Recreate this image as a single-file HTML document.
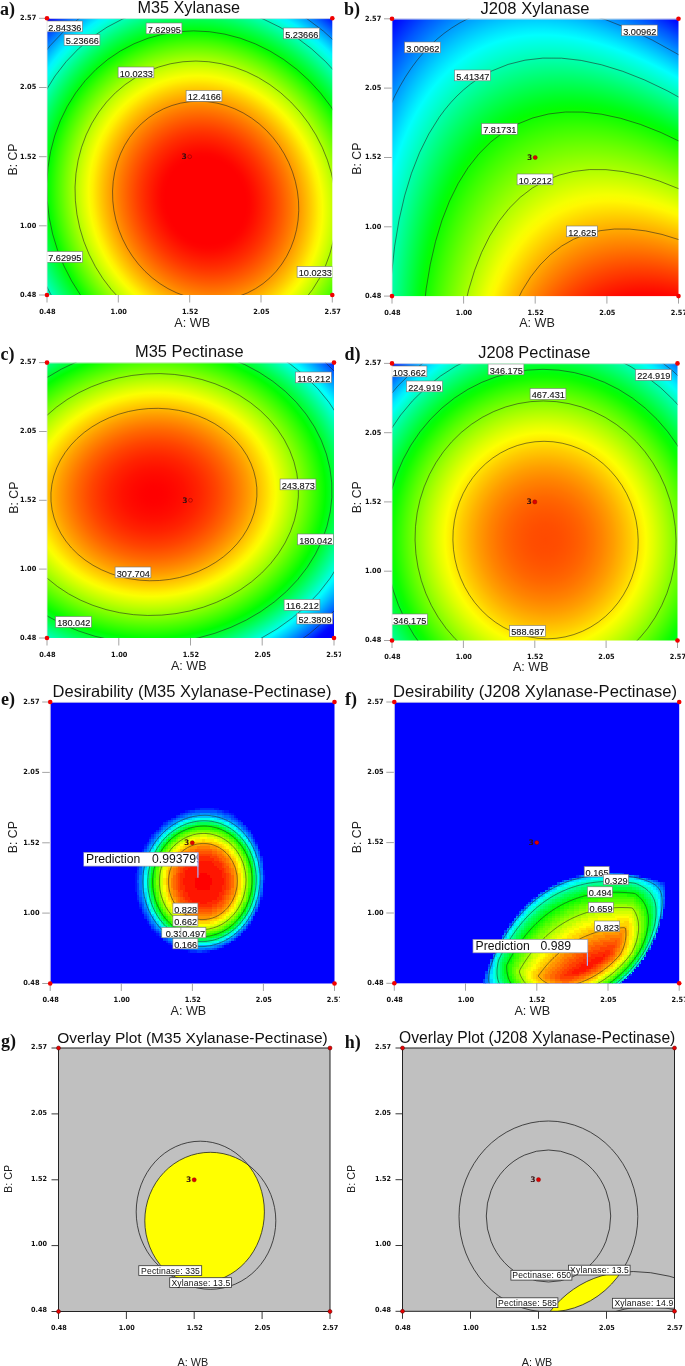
<!DOCTYPE html><html><head><meta charset="utf-8"><title>Figure</title><style>html,body{margin:0;padding:0;background:#fff}svg{display:block;filter:blur(0.35px)}</style></head><body><svg width="685" height="1366" viewBox="0 0 685 1366"><defs><radialGradient id="ga" gradientUnits="userSpaceOnUse" cx="0" cy="0" r="2.42536" gradientTransform="matrix(92.85000,0.00000,7.00000,99.60000,205.65,200.80)"><stop offset="0.0000" stop-color="#ff0000"/><stop offset="0.1786" stop-color="#ff0000"/><stop offset="0.1964" stop-color="#ff0400"/><stop offset="0.2143" stop-color="#ff0c00"/><stop offset="0.2321" stop-color="#ff1500"/><stop offset="0.2500" stop-color="#ff1f00"/><stop offset="0.2679" stop-color="#ff2900"/><stop offset="0.2857" stop-color="#ff3400"/><stop offset="0.3036" stop-color="#ff4000"/><stop offset="0.3214" stop-color="#ff4d00"/><stop offset="0.3393" stop-color="#ff5a00"/><stop offset="0.3571" stop-color="#ff6800"/><stop offset="0.3750" stop-color="#ff7600"/><stop offset="0.3929" stop-color="#ff8500"/><stop offset="0.4107" stop-color="#ff9500"/><stop offset="0.4286" stop-color="#ffa600"/><stop offset="0.4464" stop-color="#ffb700"/><stop offset="0.4643" stop-color="#ffc900"/><stop offset="0.4821" stop-color="#ffdc00"/><stop offset="0.5000" stop-color="#fff000"/><stop offset="0.5179" stop-color="#faff00"/><stop offset="0.5357" stop-color="#e5ff00"/><stop offset="0.5536" stop-color="#d0ff00"/><stop offset="0.5714" stop-color="#b9ff00"/><stop offset="0.5893" stop-color="#a2ff00"/><stop offset="0.6071" stop-color="#89ff00"/><stop offset="0.6250" stop-color="#70ff00"/><stop offset="0.6429" stop-color="#56ff00"/><stop offset="0.6607" stop-color="#3cff00"/><stop offset="0.6786" stop-color="#20ff00"/><stop offset="0.6964" stop-color="#04ff00"/><stop offset="0.7143" stop-color="#00ff18"/><stop offset="0.7321" stop-color="#00ff34"/><stop offset="0.7500" stop-color="#00ff50"/><stop offset="0.7679" stop-color="#00ff6e"/><stop offset="0.7857" stop-color="#00ff8c"/><stop offset="0.8036" stop-color="#00ffaa"/><stop offset="0.8214" stop-color="#00ffc9"/><stop offset="0.8393" stop-color="#00ffe9"/><stop offset="0.8571" stop-color="#00f4ff"/><stop offset="0.8750" stop-color="#00d3ff"/><stop offset="0.8929" stop-color="#00b2ff"/><stop offset="0.9107" stop-color="#008fff"/><stop offset="0.9286" stop-color="#006cff"/><stop offset="0.9464" stop-color="#0048ff"/><stop offset="0.9643" stop-color="#0024ff"/><stop offset="0.9821" stop-color="#0000ff"/><stop offset="1.0000" stop-color="#0000ff"/></radialGradient><clipPath id="ca"><rect x="47.0" y="18.3" width="285.3" height="276.7"/></clipPath><radialGradient id="gb" gradientUnits="userSpaceOnUse" cx="0" cy="0" r="4.24851" gradientTransform="matrix(-111.66755,-231.38059,-82.29471,39.71659,917.72,952.38)"><stop offset="0.6547" stop-color="#ff0000"/><stop offset="0.6609" stop-color="#ff0600"/><stop offset="0.6670" stop-color="#ff1500"/><stop offset="0.6732" stop-color="#ff2400"/><stop offset="0.6794" stop-color="#ff3400"/><stop offset="0.6855" stop-color="#ff4300"/><stop offset="0.6917" stop-color="#ff5300"/><stop offset="0.6979" stop-color="#ff6300"/><stop offset="0.7040" stop-color="#ff7300"/><stop offset="0.7102" stop-color="#ff8300"/><stop offset="0.7164" stop-color="#ff9300"/><stop offset="0.7225" stop-color="#ffa400"/><stop offset="0.7287" stop-color="#ffb400"/><stop offset="0.7349" stop-color="#ffc500"/><stop offset="0.7410" stop-color="#ffd600"/><stop offset="0.7472" stop-color="#ffe700"/><stop offset="0.7534" stop-color="#fff800"/><stop offset="0.7595" stop-color="#f5ff00"/><stop offset="0.7657" stop-color="#e4ff00"/><stop offset="0.7719" stop-color="#d2ff00"/><stop offset="0.7780" stop-color="#c1ff00"/><stop offset="0.7842" stop-color="#afff00"/><stop offset="0.7904" stop-color="#9eff00"/><stop offset="0.7965" stop-color="#8eff00"/><stop offset="0.8027" stop-color="#7dff00"/><stop offset="0.8089" stop-color="#6dff00"/><stop offset="0.8150" stop-color="#5cff00"/><stop offset="0.8212" stop-color="#4bff00"/><stop offset="0.8274" stop-color="#3aff00"/><stop offset="0.8335" stop-color="#28ff00"/><stop offset="0.8397" stop-color="#17ff00"/><stop offset="0.8458" stop-color="#04ff00"/><stop offset="0.8520" stop-color="#00ff12"/><stop offset="0.8582" stop-color="#00ff27"/><stop offset="0.8643" stop-color="#00ff3d"/><stop offset="0.8705" stop-color="#00ff53"/><stop offset="0.8767" stop-color="#00ff69"/><stop offset="0.8828" stop-color="#00ff7f"/><stop offset="0.8890" stop-color="#00ff95"/><stop offset="0.8952" stop-color="#00ffab"/><stop offset="0.9013" stop-color="#00ffc0"/><stop offset="0.9075" stop-color="#00ffd5"/><stop offset="0.9137" stop-color="#00ffe9"/><stop offset="0.9198" stop-color="#00fffe"/><stop offset="0.9260" stop-color="#00ebff"/><stop offset="0.9322" stop-color="#00d6ff"/><stop offset="0.9383" stop-color="#00c1ff"/><stop offset="0.9445" stop-color="#00abff"/><stop offset="0.9507" stop-color="#0096ff"/><stop offset="0.9568" stop-color="#0080ff"/><stop offset="0.9630" stop-color="#006aff"/><stop offset="0.9692" stop-color="#0055ff"/><stop offset="0.9753" stop-color="#003eff"/><stop offset="0.9815" stop-color="#0028ff"/><stop offset="0.9877" stop-color="#0012ff"/><stop offset="0.9938" stop-color="#0000ff"/><stop offset="1.0000" stop-color="#0000ff"/></radialGradient><clipPath id="cb"><rect x="392.0" y="18.8" width="286.5" height="277.3"/></clipPath><radialGradient id="gc" gradientUnits="userSpaceOnUse" cx="0" cy="0" r="2.52848" gradientTransform="matrix(-99.87774,6.56225,5.48121,83.42415,153.92,494.54)"><stop offset="0.0000" stop-color="#ff0000"/><stop offset="0.0179" stop-color="#ff0000"/><stop offset="0.0357" stop-color="#ff0100"/><stop offset="0.0536" stop-color="#ff0300"/><stop offset="0.0714" stop-color="#ff0600"/><stop offset="0.0893" stop-color="#ff0900"/><stop offset="0.1071" stop-color="#ff0d00"/><stop offset="0.1250" stop-color="#ff1100"/><stop offset="0.1429" stop-color="#ff1700"/><stop offset="0.1607" stop-color="#ff1d00"/><stop offset="0.1786" stop-color="#ff2300"/><stop offset="0.1964" stop-color="#ff2b00"/><stop offset="0.2143" stop-color="#ff3300"/><stop offset="0.2321" stop-color="#ff3c00"/><stop offset="0.2500" stop-color="#ff4500"/><stop offset="0.2679" stop-color="#ff5000"/><stop offset="0.2857" stop-color="#ff5b00"/><stop offset="0.3036" stop-color="#ff6600"/><stop offset="0.3214" stop-color="#ff7300"/><stop offset="0.3393" stop-color="#ff8000"/><stop offset="0.3571" stop-color="#ff8e00"/><stop offset="0.3750" stop-color="#ff9c00"/><stop offset="0.3929" stop-color="#ffac00"/><stop offset="0.4107" stop-color="#ffbc00"/><stop offset="0.4286" stop-color="#ffcd00"/><stop offset="0.4464" stop-color="#ffde00"/><stop offset="0.4643" stop-color="#fff100"/><stop offset="0.4821" stop-color="#faff00"/><stop offset="0.5000" stop-color="#e6ff00"/><stop offset="0.5179" stop-color="#d1ff00"/><stop offset="0.5357" stop-color="#bcff00"/><stop offset="0.5536" stop-color="#a6ff00"/><stop offset="0.5714" stop-color="#8fff00"/><stop offset="0.5893" stop-color="#79ff00"/><stop offset="0.6071" stop-color="#62ff00"/><stop offset="0.6250" stop-color="#4aff00"/><stop offset="0.6429" stop-color="#32ff00"/><stop offset="0.6607" stop-color="#19ff00"/><stop offset="0.6786" stop-color="#00ff01"/><stop offset="0.6964" stop-color="#00ff1b"/><stop offset="0.7143" stop-color="#00ff38"/><stop offset="0.7321" stop-color="#00ff58"/><stop offset="0.7500" stop-color="#00ff79"/><stop offset="0.7679" stop-color="#00ff9a"/><stop offset="0.7857" stop-color="#00ffbc"/><stop offset="0.8036" stop-color="#00ffdf"/><stop offset="0.8214" stop-color="#00feff"/><stop offset="0.8393" stop-color="#00ddff"/><stop offset="0.8571" stop-color="#00bcff"/><stop offset="0.8750" stop-color="#0099ff"/><stop offset="0.8929" stop-color="#0076ff"/><stop offset="0.9107" stop-color="#0053ff"/><stop offset="0.9286" stop-color="#002fff"/><stop offset="0.9464" stop-color="#000aff"/><stop offset="0.9643" stop-color="#0000ff"/><stop offset="1.0000" stop-color="#0000ff"/></radialGradient><clipPath id="cc"><rect x="47.0" y="362.6" width="287.0" height="275.4"/></clipPath><clipPath id="xcc"><rect x="314.0" y="645.0" width="27.0" height="20"/></clipPath><radialGradient id="gd" gradientUnits="userSpaceOnUse" cx="0" cy="0" r="2.43109" gradientTransform="matrix(92.65000,0.00000,1.50000,98.75000,545.55,540.05)"><stop offset="0.0000" stop-color="#ff4a00"/><stop offset="0.0179" stop-color="#ff4b00"/><stop offset="0.0357" stop-color="#ff4c00"/><stop offset="0.0536" stop-color="#ff4d00"/><stop offset="0.0714" stop-color="#ff4f00"/><stop offset="0.0893" stop-color="#ff5200"/><stop offset="0.1071" stop-color="#ff5500"/><stop offset="0.1250" stop-color="#ff5900"/><stop offset="0.1429" stop-color="#ff5d00"/><stop offset="0.1607" stop-color="#ff6200"/><stop offset="0.1786" stop-color="#ff6700"/><stop offset="0.1964" stop-color="#ff6e00"/><stop offset="0.2143" stop-color="#ff7400"/><stop offset="0.2321" stop-color="#ff7c00"/><stop offset="0.2500" stop-color="#ff8300"/><stop offset="0.2679" stop-color="#ff8c00"/><stop offset="0.2857" stop-color="#ff9500"/><stop offset="0.3036" stop-color="#ff9e00"/><stop offset="0.3214" stop-color="#ffa900"/><stop offset="0.3393" stop-color="#ffb300"/><stop offset="0.3571" stop-color="#ffbf00"/><stop offset="0.3750" stop-color="#ffca00"/><stop offset="0.3929" stop-color="#ffd700"/><stop offset="0.4107" stop-color="#ffe400"/><stop offset="0.4286" stop-color="#fff200"/><stop offset="0.4464" stop-color="#fdff00"/><stop offset="0.4643" stop-color="#eeff00"/><stop offset="0.4821" stop-color="#dfff00"/><stop offset="0.5000" stop-color="#ceff00"/><stop offset="0.5179" stop-color="#bdff00"/><stop offset="0.5357" stop-color="#acff00"/><stop offset="0.5536" stop-color="#9aff00"/><stop offset="0.5714" stop-color="#87ff00"/><stop offset="0.5893" stop-color="#74ff00"/><stop offset="0.6071" stop-color="#61ff00"/><stop offset="0.6250" stop-color="#4dff00"/><stop offset="0.6429" stop-color="#38ff00"/><stop offset="0.6607" stop-color="#23ff00"/><stop offset="0.6786" stop-color="#0eff00"/><stop offset="0.6964" stop-color="#00ff09"/><stop offset="0.7143" stop-color="#00ff20"/><stop offset="0.7321" stop-color="#00ff37"/><stop offset="0.7500" stop-color="#00ff50"/><stop offset="0.7679" stop-color="#00ff69"/><stop offset="0.7857" stop-color="#00ff82"/><stop offset="0.8036" stop-color="#00ff9c"/><stop offset="0.8214" stop-color="#00ffb7"/><stop offset="0.8393" stop-color="#00ffd5"/><stop offset="0.8571" stop-color="#00fff3"/><stop offset="0.8750" stop-color="#00ecff"/><stop offset="0.8929" stop-color="#00cdff"/><stop offset="0.9107" stop-color="#00adff"/><stop offset="0.9286" stop-color="#008cff"/><stop offset="0.9464" stop-color="#006bff"/><stop offset="0.9643" stop-color="#0049ff"/><stop offset="0.9821" stop-color="#0026ff"/><stop offset="1.0000" stop-color="#0003ff"/></radialGradient><clipPath id="cd"><rect x="392.0" y="363.4" width="285.5" height="277.1"/></clipPath><clipPath id="ce"><rect x="50.2" y="702" width="284.3" height="281.5"/></clipPath><clipPath id="cpe"><rect x="83.5" y="852" width="114.8" height="15"/></clipPath><clipPath id="xce"><rect x="314.5" y="990.2" width="25.5" height="20"/></clipPath><clipPath id="cf"><rect x="394.3" y="702" width="284.9" height="281.3"/></clipPath><clipPath id="cgA"><ellipse cx="200.3" cy="1211.9" rx="64.1" ry="70.7"/></clipPath><clipPath id="ch"><rect x="402.5" y="1048" width="272.0" height="263.3"/></clipPath><clipPath id="chA"><ellipse cx="548.4" cy="1216.5" rx="89.4" ry="95.5"/></clipPath></defs><g font-family='"Liberation Sans", Arial, sans-serif'>
<rect x="47.0" y="18.3" width="285.3" height="276.7" fill="url(#ga)"/>
<g clip-path="url(#ca)" fill="none" stroke="#222" stroke-opacity="0.8" stroke-width="0.7">
<circle r="2.20300" transform="matrix(92.85000,0.00000,7.00000,99.60000,205.65,200.80)" vector-effect="non-scaling-stroke"/>
<circle r="1.97600" transform="matrix(92.85000,0.00000,7.00000,99.60000,205.65,200.80)" vector-effect="non-scaling-stroke"/>
<circle r="1.70600" transform="matrix(92.85000,0.00000,7.00000,99.60000,205.65,200.80)" vector-effect="non-scaling-stroke"/>
<circle r="1.40300" transform="matrix(92.85000,0.00000,7.00000,99.60000,205.65,200.80)" vector-effect="non-scaling-stroke"/>
<circle r="1.00000" transform="matrix(92.85000,0.00000,7.00000,99.60000,205.65,200.80)" vector-effect="non-scaling-stroke"/>
</g>
<g clip-path="url(#ca)"><rect x="46.6" y="21.0" width="35.8" height="10.8" fill="#fff" stroke="#777" stroke-width="0.6"/><text x="64.8" y="30.9" font-size="9.7" text-anchor="middle" textLength="33.2" lengthAdjust="spacingAndGlyphs" fill="#111" stroke="#111" stroke-width="0.12">2.84336</text></g>
<g clip-path="url(#ca)"><rect x="64.1" y="34.5" width="35.8" height="10.8" fill="#fff" stroke="#777" stroke-width="0.6"/><text x="82.3" y="44.4" font-size="9.7" text-anchor="middle" textLength="33.2" lengthAdjust="spacingAndGlyphs" fill="#111" stroke="#111" stroke-width="0.12">5.23666</text></g>
<g clip-path="url(#ca)"><rect x="146.1" y="23.0" width="35.8" height="10.8" fill="#fff" stroke="#777" stroke-width="0.6"/><text x="164.3" y="32.9" font-size="9.7" text-anchor="middle" textLength="33.2" lengthAdjust="spacingAndGlyphs" fill="#111" stroke="#111" stroke-width="0.12">7.62995</text></g>
<g clip-path="url(#ca)"><rect x="118.1" y="67.0" width="35.8" height="10.8" fill="#fff" stroke="#777" stroke-width="0.6"/><text x="136.3" y="76.9" font-size="9.7" text-anchor="middle" textLength="33.2" lengthAdjust="spacingAndGlyphs" fill="#111" stroke="#111" stroke-width="0.12">10.0233</text></g>
<g clip-path="url(#ca)"><rect x="186.1" y="90.5" width="35.8" height="10.8" fill="#fff" stroke="#777" stroke-width="0.6"/><text x="204.3" y="100.4" font-size="9.7" text-anchor="middle" textLength="33.2" lengthAdjust="spacingAndGlyphs" fill="#111" stroke="#111" stroke-width="0.12">12.4166</text></g>
<g clip-path="url(#ca)"><rect x="46.6" y="251.5" width="35.8" height="10.8" fill="#fff" stroke="#777" stroke-width="0.6"/><text x="64.8" y="261.4" font-size="9.7" text-anchor="middle" textLength="33.2" lengthAdjust="spacingAndGlyphs" fill="#111" stroke="#111" stroke-width="0.12">7.62995</text></g>
<g clip-path="url(#ca)"><rect x="297.1" y="266.5" width="35.8" height="10.8" fill="#fff" stroke="#777" stroke-width="0.6"/><text x="315.3" y="276.4" font-size="9.7" text-anchor="middle" textLength="33.2" lengthAdjust="spacingAndGlyphs" fill="#111" stroke="#111" stroke-width="0.12">10.0233</text></g>
<g clip-path="url(#ca)"><rect x="283.6" y="28.0" width="35.8" height="10.8" fill="#fff" stroke="#777" stroke-width="0.6"/><text x="301.8" y="37.9" font-size="9.7" text-anchor="middle" textLength="33.2" lengthAdjust="spacingAndGlyphs" fill="#111" stroke="#111" stroke-width="0.12">5.23666</text></g>
<line x1="47.0" y1="295.0" x2="47.0" y2="302.5" stroke="#9a9a9a" stroke-width="0.9"/>
<line x1="118.3" y1="295.0" x2="118.3" y2="302.5" stroke="#9a9a9a" stroke-width="0.9"/>
<line x1="189.7" y1="295.0" x2="189.7" y2="302.5" stroke="#9a9a9a" stroke-width="0.9"/>
<line x1="261.0" y1="295.0" x2="261.0" y2="302.5" stroke="#9a9a9a" stroke-width="0.9"/>
<line x1="332.3" y1="295.0" x2="332.3" y2="302.5" stroke="#9a9a9a" stroke-width="0.9"/>
<line x1="39.0" y1="18.3" x2="47.0" y2="18.3" stroke="#9a9a9a" stroke-width="0.9"/>
<line x1="39.0" y1="87.5" x2="47.0" y2="87.5" stroke="#9a9a9a" stroke-width="0.9"/>
<line x1="39.0" y1="156.7" x2="47.0" y2="156.7" stroke="#9a9a9a" stroke-width="0.9"/>
<line x1="39.0" y1="225.8" x2="47.0" y2="225.8" stroke="#9a9a9a" stroke-width="0.9"/>
<line x1="39.0" y1="295.0" x2="47.0" y2="295.0" stroke="#9a9a9a" stroke-width="0.9"/>
<path d="M47.0 295.0V18.6H332.3" fill="none" stroke="#e4e4e4" stroke-opacity="0.85" stroke-width="1"/>
<text x="47.4" y="313.7" font-family='"DejaVu Sans", "Liberation Sans", sans-serif' font-size="7.1" font-weight="bold" text-anchor="middle" textLength="16.3" lengthAdjust="spacingAndGlyphs" fill="#111">0.48</text>
<text x="118.7" y="313.7" font-family='"DejaVu Sans", "Liberation Sans", sans-serif' font-size="7.1" font-weight="bold" text-anchor="middle" textLength="16.3" lengthAdjust="spacingAndGlyphs" fill="#111">1.00</text>
<text x="190.1" y="313.7" font-family='"DejaVu Sans", "Liberation Sans", sans-serif' font-size="7.1" font-weight="bold" text-anchor="middle" textLength="16.3" lengthAdjust="spacingAndGlyphs" fill="#111">1.52</text>
<text x="261.4" y="313.7" font-family='"DejaVu Sans", "Liberation Sans", sans-serif' font-size="7.1" font-weight="bold" text-anchor="middle" textLength="16.3" lengthAdjust="spacingAndGlyphs" fill="#111">2.05</text>
<text x="332.7" y="313.7" font-family='"DejaVu Sans", "Liberation Sans", sans-serif' font-size="7.1" font-weight="bold" text-anchor="middle" textLength="16.3" lengthAdjust="spacingAndGlyphs" fill="#111">2.57</text>
<text x="36.3" y="20.1" font-family='"DejaVu Sans", "Liberation Sans", sans-serif' font-size="7.1" font-weight="bold" text-anchor="end" textLength="16.3" lengthAdjust="spacingAndGlyphs" fill="#111">2.57</text>
<text x="36.3" y="89.3" font-family='"DejaVu Sans", "Liberation Sans", sans-serif' font-size="7.1" font-weight="bold" text-anchor="end" textLength="16.3" lengthAdjust="spacingAndGlyphs" fill="#111">2.05</text>
<text x="36.3" y="158.5" font-family='"DejaVu Sans", "Liberation Sans", sans-serif' font-size="7.1" font-weight="bold" text-anchor="end" textLength="16.3" lengthAdjust="spacingAndGlyphs" fill="#111">1.52</text>
<text x="36.3" y="227.6" font-family='"DejaVu Sans", "Liberation Sans", sans-serif' font-size="7.1" font-weight="bold" text-anchor="end" textLength="16.3" lengthAdjust="spacingAndGlyphs" fill="#111">1.00</text>
<text x="36.3" y="296.8" font-family='"DejaVu Sans", "Liberation Sans", sans-serif' font-size="7.1" font-weight="bold" text-anchor="end" textLength="16.3" lengthAdjust="spacingAndGlyphs" fill="#111">0.48</text>
<circle cx="47.0" cy="18.3" r="2.3" fill="#f00000"/>
<circle cx="332.3" cy="18.3" r="2.3" fill="#f00000"/>
<circle cx="47.0" cy="295.0" r="2.3" fill="#f00000"/>
<circle cx="332.3" cy="295.0" r="2.3" fill="#f00000"/>
<circle cx="189.7" cy="156.7" r="1.9" fill="none" stroke="#900" stroke-width="0.7"/>
<text x="186.7" y="159.2" font-family='"DejaVu Sans", "Liberation Sans", sans-serif' font-size="7.6" font-weight="bold" text-anchor="end" fill="#301010">3</text>
<text x="188.8" y="13.0" font-size="16.2" text-anchor="middle" fill="#111">M35 Xylanase</text>
<text x="192.2" y="326.8" font-size="12.6" text-anchor="middle" fill="#222">A: WB</text>
<text transform="translate(16.9,159.5) rotate(-90)" font-size="12.3" text-anchor="middle" fill="#222">B: CP</text>
<text x="0" y="14.8" font-family='"Liberation Serif", "Times New Roman", serif' font-weight="bold" font-size="18" fill="#111">a)</text>
<rect x="392.0" y="18.8" width="286.5" height="277.3" fill="url(#gb)"/>
<g clip-path="url(#cb)" fill="none" stroke="#222" stroke-opacity="0.8" stroke-width="0.7">
<circle r="4.03377" transform="matrix(-111.66755,-231.38059,-82.29471,39.71659,917.72,952.38)" vector-effect="non-scaling-stroke"/>
<circle r="3.81024" transform="matrix(-111.66755,-231.38059,-82.29471,39.71659,917.72,952.38)" vector-effect="non-scaling-stroke"/>
<circle r="3.58056" transform="matrix(-111.66755,-231.38059,-82.29471,39.71659,917.72,952.38)" vector-effect="non-scaling-stroke"/>
<circle r="3.33529" transform="matrix(-111.66755,-231.38059,-82.29471,39.71659,917.72,952.38)" vector-effect="non-scaling-stroke"/>
<circle r="3.08202" transform="matrix(-111.66755,-231.38059,-82.29471,39.71659,917.72,952.38)" vector-effect="non-scaling-stroke"/>
</g>
<g clip-path="url(#cb)"><rect x="404.6" y="42.0" width="35.8" height="10.8" fill="#fff" stroke="#777" stroke-width="0.6"/><text x="422.8" y="51.9" font-size="9.7" text-anchor="middle" textLength="33.2" lengthAdjust="spacingAndGlyphs" fill="#111" stroke="#111" stroke-width="0.12">3.00962</text></g>
<g clip-path="url(#cb)"><rect x="454.6" y="70.0" width="35.8" height="10.8" fill="#fff" stroke="#777" stroke-width="0.6"/><text x="472.8" y="79.9" font-size="9.7" text-anchor="middle" textLength="33.2" lengthAdjust="spacingAndGlyphs" fill="#111" stroke="#111" stroke-width="0.12">5.41347</text></g>
<g clip-path="url(#cb)"><rect x="481.6" y="123.5" width="35.8" height="10.8" fill="#fff" stroke="#777" stroke-width="0.6"/><text x="499.8" y="133.4" font-size="9.7" text-anchor="middle" textLength="33.2" lengthAdjust="spacingAndGlyphs" fill="#111" stroke="#111" stroke-width="0.12">7.81731</text></g>
<g clip-path="url(#cb)"><rect x="517.1" y="174.0" width="35.8" height="10.8" fill="#fff" stroke="#777" stroke-width="0.6"/><text x="535.3" y="183.9" font-size="9.7" text-anchor="middle" textLength="33.2" lengthAdjust="spacingAndGlyphs" fill="#111" stroke="#111" stroke-width="0.12">10.2212</text></g>
<g clip-path="url(#cb)"><rect x="566.6" y="226.0" width="30.7" height="10.8" fill="#fff" stroke="#777" stroke-width="0.6"/><text x="582.3" y="235.9" font-size="9.7" text-anchor="middle" textLength="28.1" lengthAdjust="spacingAndGlyphs" fill="#111" stroke="#111" stroke-width="0.12">12.625</text></g>
<g clip-path="url(#cb)"><rect x="621.6" y="25.0" width="35.8" height="10.8" fill="#fff" stroke="#777" stroke-width="0.6"/><text x="639.8" y="34.9" font-size="9.7" text-anchor="middle" textLength="33.2" lengthAdjust="spacingAndGlyphs" fill="#111" stroke="#111" stroke-width="0.12">3.00962</text></g>
<line x1="392.0" y1="296.1" x2="392.0" y2="303.6" stroke="#9a9a9a" stroke-width="0.9"/>
<line x1="463.6" y1="296.1" x2="463.6" y2="303.6" stroke="#9a9a9a" stroke-width="0.9"/>
<line x1="535.2" y1="296.1" x2="535.2" y2="303.6" stroke="#9a9a9a" stroke-width="0.9"/>
<line x1="606.9" y1="296.1" x2="606.9" y2="303.6" stroke="#9a9a9a" stroke-width="0.9"/>
<line x1="678.5" y1="296.1" x2="678.5" y2="303.6" stroke="#9a9a9a" stroke-width="0.9"/>
<line x1="384.0" y1="18.8" x2="392.0" y2="18.8" stroke="#9a9a9a" stroke-width="0.9"/>
<line x1="384.0" y1="88.1" x2="392.0" y2="88.1" stroke="#9a9a9a" stroke-width="0.9"/>
<line x1="384.0" y1="157.5" x2="392.0" y2="157.5" stroke="#9a9a9a" stroke-width="0.9"/>
<line x1="384.0" y1="226.8" x2="392.0" y2="226.8" stroke="#9a9a9a" stroke-width="0.9"/>
<line x1="384.0" y1="296.1" x2="392.0" y2="296.1" stroke="#9a9a9a" stroke-width="0.9"/>
<path d="M392.0 296.1V19.1H678.5" fill="none" stroke="#e4e4e4" stroke-opacity="0.85" stroke-width="1"/>
<text x="392.4" y="314.5" font-family='"DejaVu Sans", "Liberation Sans", sans-serif' font-size="7.1" font-weight="bold" text-anchor="middle" textLength="16.3" lengthAdjust="spacingAndGlyphs" fill="#111">0.48</text>
<text x="464.0" y="314.5" font-family='"DejaVu Sans", "Liberation Sans", sans-serif' font-size="7.1" font-weight="bold" text-anchor="middle" textLength="16.3" lengthAdjust="spacingAndGlyphs" fill="#111">1.00</text>
<text x="535.6" y="314.5" font-family='"DejaVu Sans", "Liberation Sans", sans-serif' font-size="7.1" font-weight="bold" text-anchor="middle" textLength="16.3" lengthAdjust="spacingAndGlyphs" fill="#111">1.52</text>
<text x="607.3" y="314.5" font-family='"DejaVu Sans", "Liberation Sans", sans-serif' font-size="7.1" font-weight="bold" text-anchor="middle" textLength="16.3" lengthAdjust="spacingAndGlyphs" fill="#111">2.05</text>
<text x="678.9" y="314.5" font-family='"DejaVu Sans", "Liberation Sans", sans-serif' font-size="7.1" font-weight="bold" text-anchor="middle" textLength="16.3" lengthAdjust="spacingAndGlyphs" fill="#111">2.57</text>
<text x="381.3" y="20.6" font-family='"DejaVu Sans", "Liberation Sans", sans-serif' font-size="7.1" font-weight="bold" text-anchor="end" textLength="16.3" lengthAdjust="spacingAndGlyphs" fill="#111">2.57</text>
<text x="381.3" y="89.9" font-family='"DejaVu Sans", "Liberation Sans", sans-serif' font-size="7.1" font-weight="bold" text-anchor="end" textLength="16.3" lengthAdjust="spacingAndGlyphs" fill="#111">2.05</text>
<text x="381.3" y="159.3" font-family='"DejaVu Sans", "Liberation Sans", sans-serif' font-size="7.1" font-weight="bold" text-anchor="end" textLength="16.3" lengthAdjust="spacingAndGlyphs" fill="#111">1.52</text>
<text x="381.3" y="228.6" font-family='"DejaVu Sans", "Liberation Sans", sans-serif' font-size="7.1" font-weight="bold" text-anchor="end" textLength="16.3" lengthAdjust="spacingAndGlyphs" fill="#111">1.00</text>
<text x="381.3" y="297.9" font-family='"DejaVu Sans", "Liberation Sans", sans-serif' font-size="7.1" font-weight="bold" text-anchor="end" textLength="16.3" lengthAdjust="spacingAndGlyphs" fill="#111">0.48</text>
<circle cx="392.0" cy="18.8" r="2.3" fill="#f00000"/>
<circle cx="678.5" cy="18.8" r="2.3" fill="#f00000"/>
<circle cx="392.0" cy="296.1" r="2.3" fill="#f00000"/>
<circle cx="678.5" cy="296.1" r="2.3" fill="#f00000"/>
<circle cx="535.2" cy="157.5" r="2.1" fill="#e00000" stroke="#700" stroke-width="0.4"/>
<text x="532.2" y="160.0" font-family='"DejaVu Sans", "Liberation Sans", sans-serif' font-size="7.6" font-weight="bold" text-anchor="end" fill="#301010">3</text>
<text x="535.0" y="13.5" font-size="16.6" text-anchor="middle" fill="#111">J208 Xylanase</text>
<text x="537.0" y="326.8" font-size="12.6" text-anchor="middle" fill="#222">A: WB</text>
<text transform="translate(360.9,158.7) rotate(-90)" font-size="12.3" text-anchor="middle" fill="#222">B: CP</text>
<text x="344" y="14.8" font-family='"Liberation Serif", "Times New Roman", serif' font-weight="bold" font-size="18" fill="#111">b)</text>
<rect x="47.0" y="362.6" width="287.0" height="275.4" fill="url(#gc)"/>
<g clip-path="url(#cc)" fill="none" stroke="#222" stroke-opacity="0.8" stroke-width="0.7">
<circle r="2.30426" transform="matrix(-99.87774,6.56225,5.48121,83.42415,153.92,494.54)" vector-effect="non-scaling-stroke"/>
<circle r="2.04663" transform="matrix(-99.87774,6.56225,5.48121,83.42415,153.92,494.54)" vector-effect="non-scaling-stroke"/>
<circle r="1.78044" transform="matrix(-99.87774,6.56225,5.48121,83.42415,153.92,494.54)" vector-effect="non-scaling-stroke"/>
<circle r="1.44542" transform="matrix(-99.87774,6.56225,5.48121,83.42415,153.92,494.54)" vector-effect="non-scaling-stroke"/>
<circle r="1.03029" transform="matrix(-99.87774,6.56225,5.48121,83.42415,153.92,494.54)" vector-effect="non-scaling-stroke"/>
</g>
<g clip-path="url(#cc)"><rect x="295.6" y="372.0" width="35.8" height="10.8" fill="#fff" stroke="#777" stroke-width="0.6"/><text x="313.8" y="381.9" font-size="9.7" text-anchor="middle" textLength="33.2" lengthAdjust="spacingAndGlyphs" fill="#111" stroke="#111" stroke-width="0.12">116.212</text></g>
<g clip-path="url(#cc)"><rect x="280.1" y="479.0" width="35.8" height="10.8" fill="#fff" stroke="#777" stroke-width="0.6"/><text x="298.3" y="488.9" font-size="9.7" text-anchor="middle" textLength="33.2" lengthAdjust="spacingAndGlyphs" fill="#111" stroke="#111" stroke-width="0.12">243.873</text></g>
<g clip-path="url(#cc)"><rect x="297.6" y="534.0" width="35.8" height="10.8" fill="#fff" stroke="#777" stroke-width="0.6"/><text x="315.8" y="543.9" font-size="9.7" text-anchor="middle" textLength="33.2" lengthAdjust="spacingAndGlyphs" fill="#111" stroke="#111" stroke-width="0.12">180.042</text></g>
<g clip-path="url(#cc)"><rect x="115.1" y="567.0" width="35.8" height="10.8" fill="#fff" stroke="#777" stroke-width="0.6"/><text x="133.3" y="576.9" font-size="9.7" text-anchor="middle" textLength="33.2" lengthAdjust="spacingAndGlyphs" fill="#111" stroke="#111" stroke-width="0.12">307.704</text></g>
<g clip-path="url(#cc)"><rect x="284.1" y="599.5" width="35.8" height="10.8" fill="#fff" stroke="#777" stroke-width="0.6"/><text x="302.3" y="609.4" font-size="9.7" text-anchor="middle" textLength="33.2" lengthAdjust="spacingAndGlyphs" fill="#111" stroke="#111" stroke-width="0.12">116.212</text></g>
<g clip-path="url(#cc)"><rect x="296.9" y="613.2" width="35.8" height="10.8" fill="#fff" stroke="#777" stroke-width="0.6"/><text x="315.1" y="623.1" font-size="9.7" text-anchor="middle" textLength="33.2" lengthAdjust="spacingAndGlyphs" fill="#111" stroke="#111" stroke-width="0.12">52.3809</text></g>
<g clip-path="url(#cc)"><rect x="55.6" y="616.5" width="35.8" height="10.8" fill="#fff" stroke="#777" stroke-width="0.6"/><text x="73.8" y="626.4" font-size="9.7" text-anchor="middle" textLength="33.2" lengthAdjust="spacingAndGlyphs" fill="#111" stroke="#111" stroke-width="0.12">180.042</text></g>
<line x1="47.0" y1="638.0" x2="47.0" y2="645.5" stroke="#9a9a9a" stroke-width="0.9"/>
<line x1="118.8" y1="638.0" x2="118.8" y2="645.5" stroke="#9a9a9a" stroke-width="0.9"/>
<line x1="190.5" y1="638.0" x2="190.5" y2="645.5" stroke="#9a9a9a" stroke-width="0.9"/>
<line x1="262.2" y1="638.0" x2="262.2" y2="645.5" stroke="#9a9a9a" stroke-width="0.9"/>
<line x1="334.0" y1="638.0" x2="334.0" y2="645.5" stroke="#9a9a9a" stroke-width="0.9"/>
<line x1="39.0" y1="362.6" x2="47.0" y2="362.6" stroke="#9a9a9a" stroke-width="0.9"/>
<line x1="39.0" y1="431.5" x2="47.0" y2="431.5" stroke="#9a9a9a" stroke-width="0.9"/>
<line x1="39.0" y1="500.3" x2="47.0" y2="500.3" stroke="#9a9a9a" stroke-width="0.9"/>
<line x1="39.0" y1="569.1" x2="47.0" y2="569.1" stroke="#9a9a9a" stroke-width="0.9"/>
<line x1="39.0" y1="638.0" x2="47.0" y2="638.0" stroke="#9a9a9a" stroke-width="0.9"/>
<path d="M47.0 638.0V362.9H334.0" fill="none" stroke="#e4e4e4" stroke-opacity="0.85" stroke-width="1"/>
<text x="47.4" y="657.0" font-family='"DejaVu Sans", "Liberation Sans", sans-serif' font-size="7.1" font-weight="bold" text-anchor="middle" textLength="16.3" lengthAdjust="spacingAndGlyphs" fill="#111">0.48</text>
<text x="119.2" y="657.0" font-family='"DejaVu Sans", "Liberation Sans", sans-serif' font-size="7.1" font-weight="bold" text-anchor="middle" textLength="16.3" lengthAdjust="spacingAndGlyphs" fill="#111">1.00</text>
<text x="190.9" y="657.0" font-family='"DejaVu Sans", "Liberation Sans", sans-serif' font-size="7.1" font-weight="bold" text-anchor="middle" textLength="16.3" lengthAdjust="spacingAndGlyphs" fill="#111">1.52</text>
<text x="262.6" y="657.0" font-family='"DejaVu Sans", "Liberation Sans", sans-serif' font-size="7.1" font-weight="bold" text-anchor="middle" textLength="16.3" lengthAdjust="spacingAndGlyphs" fill="#111">2.05</text>
<g clip-path="url(#xcc)">
<text x="334.4" y="657.0" font-family='"DejaVu Sans", "Liberation Sans", sans-serif' font-size="7.1" font-weight="bold" text-anchor="middle" textLength="16.3" lengthAdjust="spacingAndGlyphs" fill="#111">2.57</text>
</g>
<text x="36.3" y="364.4" font-family='"DejaVu Sans", "Liberation Sans", sans-serif' font-size="7.1" font-weight="bold" text-anchor="end" textLength="16.3" lengthAdjust="spacingAndGlyphs" fill="#111">2.57</text>
<text x="36.3" y="433.3" font-family='"DejaVu Sans", "Liberation Sans", sans-serif' font-size="7.1" font-weight="bold" text-anchor="end" textLength="16.3" lengthAdjust="spacingAndGlyphs" fill="#111">2.05</text>
<text x="36.3" y="502.1" font-family='"DejaVu Sans", "Liberation Sans", sans-serif' font-size="7.1" font-weight="bold" text-anchor="end" textLength="16.3" lengthAdjust="spacingAndGlyphs" fill="#111">1.52</text>
<text x="36.3" y="570.9" font-family='"DejaVu Sans", "Liberation Sans", sans-serif' font-size="7.1" font-weight="bold" text-anchor="end" textLength="16.3" lengthAdjust="spacingAndGlyphs" fill="#111">1.00</text>
<text x="36.3" y="639.8" font-family='"DejaVu Sans", "Liberation Sans", sans-serif' font-size="7.1" font-weight="bold" text-anchor="end" textLength="16.3" lengthAdjust="spacingAndGlyphs" fill="#111">0.48</text>
<circle cx="47.0" cy="362.6" r="2.3" fill="#f00000"/>
<circle cx="334.0" cy="362.6" r="2.3" fill="#f00000"/>
<circle cx="47.0" cy="638.0" r="2.3" fill="#f00000"/>
<circle cx="334.0" cy="638.0" r="2.3" fill="#f00000"/>
<circle cx="190.5" cy="500.3" r="1.9" fill="none" stroke="#900" stroke-width="0.7"/>
<text x="187.5" y="502.8" font-family='"DejaVu Sans", "Liberation Sans", sans-serif' font-size="7.6" font-weight="bold" text-anchor="end" fill="#301010">3</text>
<text x="189.3" y="357.3" font-size="16.4" text-anchor="middle" fill="#111">M35 Pectinase</text>
<text x="188.8" y="670.1" font-size="12.6" text-anchor="middle" fill="#222">A: WB</text>
<text transform="translate(17.9,497.6) rotate(-90)" font-size="12.3" text-anchor="middle" fill="#222">B: CP</text>
<text x="0.5" y="360" font-family='"Liberation Serif", "Times New Roman", serif' font-weight="bold" font-size="18" fill="#111">c)</text>
<rect x="392.0" y="363.4" width="285.5" height="277.1" fill="url(#gd)"/>
<g clip-path="url(#cd)" fill="none" stroke="#222" stroke-opacity="0.8" stroke-width="0.7">
<circle r="2.21300" transform="matrix(92.65000,0.00000,1.50000,98.75000,545.55,540.05)" vector-effect="non-scaling-stroke"/>
<circle r="1.99600" transform="matrix(92.65000,0.00000,1.50000,98.75000,545.55,540.05)" vector-effect="non-scaling-stroke"/>
<circle r="1.72900" transform="matrix(92.65000,0.00000,1.50000,98.75000,545.55,540.05)" vector-effect="non-scaling-stroke"/>
<circle r="1.40850" transform="matrix(92.65000,0.00000,1.50000,98.75000,545.55,540.05)" vector-effect="non-scaling-stroke"/>
<circle r="1.00000" transform="matrix(92.65000,0.00000,1.50000,98.75000,545.55,540.05)" vector-effect="non-scaling-stroke"/>
</g>
<g clip-path="url(#cd)"><rect x="391.1" y="366.0" width="35.8" height="10.8" fill="#fff" stroke="#777" stroke-width="0.6"/><text x="409.3" y="375.9" font-size="9.7" text-anchor="middle" textLength="33.2" lengthAdjust="spacingAndGlyphs" fill="#111" stroke="#111" stroke-width="0.12">103.662</text></g>
<g clip-path="url(#cd)"><rect x="406.6" y="381.0" width="35.8" height="10.8" fill="#fff" stroke="#777" stroke-width="0.6"/><text x="424.8" y="390.9" font-size="9.7" text-anchor="middle" textLength="33.2" lengthAdjust="spacingAndGlyphs" fill="#111" stroke="#111" stroke-width="0.12">224.919</text></g>
<g clip-path="url(#cd)"><rect x="488.1" y="364.0" width="35.8" height="10.8" fill="#fff" stroke="#777" stroke-width="0.6"/><text x="506.3" y="373.9" font-size="9.7" text-anchor="middle" textLength="33.2" lengthAdjust="spacingAndGlyphs" fill="#111" stroke="#111" stroke-width="0.12">346.175</text></g>
<g clip-path="url(#cd)"><rect x="530.1" y="388.5" width="35.8" height="10.8" fill="#fff" stroke="#777" stroke-width="0.6"/><text x="548.3" y="398.4" font-size="9.7" text-anchor="middle" textLength="33.2" lengthAdjust="spacingAndGlyphs" fill="#111" stroke="#111" stroke-width="0.12">467.431</text></g>
<g clip-path="url(#cd)"><rect x="635.6" y="369.5" width="35.8" height="10.8" fill="#fff" stroke="#777" stroke-width="0.6"/><text x="653.8" y="379.4" font-size="9.7" text-anchor="middle" textLength="33.2" lengthAdjust="spacingAndGlyphs" fill="#111" stroke="#111" stroke-width="0.12">224.919</text></g>
<g clip-path="url(#cd)"><rect x="391.6" y="614.0" width="35.8" height="10.8" fill="#fff" stroke="#777" stroke-width="0.6"/><text x="409.8" y="623.9" font-size="9.7" text-anchor="middle" textLength="33.2" lengthAdjust="spacingAndGlyphs" fill="#111" stroke="#111" stroke-width="0.12">346.175</text></g>
<g clip-path="url(#cd)"><rect x="509.6" y="625.5" width="35.8" height="10.8" fill="#fff" stroke="#777" stroke-width="0.6"/><text x="527.8" y="635.4" font-size="9.7" text-anchor="middle" textLength="33.2" lengthAdjust="spacingAndGlyphs" fill="#111" stroke="#111" stroke-width="0.12">588.687</text></g>
<line x1="392.0" y1="640.5" x2="392.0" y2="648.0" stroke="#9a9a9a" stroke-width="0.9"/>
<line x1="463.4" y1="640.5" x2="463.4" y2="648.0" stroke="#9a9a9a" stroke-width="0.9"/>
<line x1="534.8" y1="640.5" x2="534.8" y2="648.0" stroke="#9a9a9a" stroke-width="0.9"/>
<line x1="606.1" y1="640.5" x2="606.1" y2="648.0" stroke="#9a9a9a" stroke-width="0.9"/>
<line x1="677.5" y1="640.5" x2="677.5" y2="648.0" stroke="#9a9a9a" stroke-width="0.9"/>
<line x1="384.0" y1="363.4" x2="392.0" y2="363.4" stroke="#9a9a9a" stroke-width="0.9"/>
<line x1="384.0" y1="432.7" x2="392.0" y2="432.7" stroke="#9a9a9a" stroke-width="0.9"/>
<line x1="384.0" y1="501.9" x2="392.0" y2="501.9" stroke="#9a9a9a" stroke-width="0.9"/>
<line x1="384.0" y1="571.2" x2="392.0" y2="571.2" stroke="#9a9a9a" stroke-width="0.9"/>
<line x1="384.0" y1="640.5" x2="392.0" y2="640.5" stroke="#9a9a9a" stroke-width="0.9"/>
<path d="M392.0 640.5V363.7H677.5" fill="none" stroke="#e4e4e4" stroke-opacity="0.85" stroke-width="1"/>
<text x="392.4" y="658.7" font-family='"DejaVu Sans", "Liberation Sans", sans-serif' font-size="7.1" font-weight="bold" text-anchor="middle" textLength="16.3" lengthAdjust="spacingAndGlyphs" fill="#111">0.48</text>
<text x="463.8" y="658.7" font-family='"DejaVu Sans", "Liberation Sans", sans-serif' font-size="7.1" font-weight="bold" text-anchor="middle" textLength="16.3" lengthAdjust="spacingAndGlyphs" fill="#111">1.00</text>
<text x="535.1" y="658.7" font-family='"DejaVu Sans", "Liberation Sans", sans-serif' font-size="7.1" font-weight="bold" text-anchor="middle" textLength="16.3" lengthAdjust="spacingAndGlyphs" fill="#111">1.52</text>
<text x="606.5" y="658.7" font-family='"DejaVu Sans", "Liberation Sans", sans-serif' font-size="7.1" font-weight="bold" text-anchor="middle" textLength="16.3" lengthAdjust="spacingAndGlyphs" fill="#111">2.05</text>
<text x="677.9" y="658.7" font-family='"DejaVu Sans", "Liberation Sans", sans-serif' font-size="7.1" font-weight="bold" text-anchor="middle" textLength="16.3" lengthAdjust="spacingAndGlyphs" fill="#111">2.57</text>
<text x="381.3" y="365.2" font-family='"DejaVu Sans", "Liberation Sans", sans-serif' font-size="7.1" font-weight="bold" text-anchor="end" textLength="16.3" lengthAdjust="spacingAndGlyphs" fill="#111">2.57</text>
<text x="381.3" y="434.5" font-family='"DejaVu Sans", "Liberation Sans", sans-serif' font-size="7.1" font-weight="bold" text-anchor="end" textLength="16.3" lengthAdjust="spacingAndGlyphs" fill="#111">2.05</text>
<text x="381.3" y="503.8" font-family='"DejaVu Sans", "Liberation Sans", sans-serif' font-size="7.1" font-weight="bold" text-anchor="end" textLength="16.3" lengthAdjust="spacingAndGlyphs" fill="#111">1.52</text>
<text x="381.3" y="573.0" font-family='"DejaVu Sans", "Liberation Sans", sans-serif' font-size="7.1" font-weight="bold" text-anchor="end" textLength="16.3" lengthAdjust="spacingAndGlyphs" fill="#111">1.00</text>
<text x="381.3" y="642.3" font-family='"DejaVu Sans", "Liberation Sans", sans-serif' font-size="7.1" font-weight="bold" text-anchor="end" textLength="16.3" lengthAdjust="spacingAndGlyphs" fill="#111">0.48</text>
<circle cx="392.0" cy="363.4" r="2.3" fill="#f00000"/>
<circle cx="677.5" cy="363.4" r="2.3" fill="#f00000"/>
<circle cx="392.0" cy="640.5" r="2.3" fill="#f00000"/>
<circle cx="677.5" cy="640.5" r="2.3" fill="#f00000"/>
<circle cx="534.8" cy="501.9" r="2.1" fill="#e00000" stroke="#700" stroke-width="0.4"/>
<text x="531.8" y="504.4" font-family='"DejaVu Sans", "Liberation Sans", sans-serif' font-size="7.6" font-weight="bold" text-anchor="end" fill="#301010">3</text>
<text x="534.3" y="358.1" font-size="16.4" text-anchor="middle" fill="#111">J208 Pectinase</text>
<text x="530.8" y="671.0" font-size="12.6" text-anchor="middle" fill="#222">A: WB</text>
<text transform="translate(360.9,497.3) rotate(-90)" font-size="12.3" text-anchor="middle" fill="#222">B: CP</text>
<text x="344.5" y="360" font-family='"Liberation Serif", "Times New Roman", serif' font-weight="bold" font-size="18" fill="#111">d)</text>
<rect x="50.2" y="702" width="284.3" height="281.5" fill="#0000ff"/>
<g shape-rendering="crispEdges">
<path fill="#0015ff" d="M194.8 807.9h5.1v2.7h-5.1zM214.0 807.9h5.1v2.7h-5.1zM185.1 810.3h2.7v2.7h-2.7zM223.7 810.3h5.1v2.7h-5.1zM230.9 812.7h2.7v2.7h-2.7zM233.3 815.1h2.7v2.7h-2.7zM165.8 819.9h2.7v2.7h-2.7zM149.0 836.7h2.7v2.7h-2.7zM252.6 836.7h2.7v2.7h-2.7zM255.0 841.5h2.7v2.7h-2.7zM144.2 844.0h2.7v2.7h-2.7zM141.8 848.8h2.7v2.7h-2.7zM139.3 853.6h2.7v2.7h-2.7zM136.9 860.8h2.7v2.7h-2.7zM262.2 870.4h2.7v2.7h-2.7zM134.5 872.8h2.7v2.7h-2.7zM262.2 872.8h2.7v2.7h-2.7zM134.5 875.2h2.7v2.7h-2.7zM134.5 877.6h2.7v2.7h-2.7zM134.5 880.0h2.7v2.7h-2.7zM262.2 880.0h2.7v2.7h-2.7zM134.5 882.4h2.7v2.7h-2.7zM134.5 884.9h2.7v2.7h-2.7zM134.5 887.3h2.7v2.7h-2.7zM134.5 889.7h2.7v2.7h-2.7zM259.8 896.9h2.7v2.7h-2.7zM136.9 899.3h2.7v2.7h-2.7zM139.3 906.5h2.7v2.7h-2.7zM146.6 920.9h2.7v2.7h-2.7zM247.8 923.4h2.7v2.7h-2.7zM151.4 928.2h2.7v2.7h-2.7zM153.8 930.6h2.7v2.7h-2.7zM156.2 933.0h2.7v2.7h-2.7zM158.6 935.4h2.7v2.7h-2.7zM168.3 942.6h2.7v2.7h-2.7zM173.1 945.0h2.7v2.7h-2.7zM216.4 947.4h2.7v2.7h-2.7zM187.5 949.8h2.7v2.7h-2.7zM206.8 949.8h2.7v2.7h-2.7z"/>
<path fill="#002aff" d="M199.6 807.9h14.8v2.7h-14.8zM187.5 810.3h2.7v2.7h-2.7zM221.3 810.3h2.7v2.7h-2.7zM180.3 812.7h2.7v2.7h-2.7zM228.5 812.7h2.7v2.7h-2.7zM175.5 815.1h2.7v2.7h-2.7zM170.7 817.5h2.7v2.7h-2.7zM235.7 817.5h2.7v2.7h-2.7zM238.1 819.9h2.7v2.7h-2.7zM163.4 822.3h2.7v2.7h-2.7zM161.0 824.7h2.7v2.7h-2.7zM158.6 827.1h2.7v2.7h-2.7zM245.4 827.1h2.7v2.7h-2.7zM156.2 829.5h2.7v2.7h-2.7zM247.8 829.5h2.7v2.7h-2.7zM153.8 831.9h2.7v2.7h-2.7zM151.4 834.3h2.7v2.7h-2.7zM146.6 841.5h2.7v2.7h-2.7zM144.2 846.4h2.7v2.7h-2.7zM257.4 848.8h2.7v2.7h-2.7zM141.8 851.2h2.7v2.7h-2.7zM139.3 856.0h2.7v2.7h-2.7zM259.8 856.0h2.7v2.7h-2.7zM136.9 863.2h2.7v2.7h-2.7zM136.9 865.6h2.7v2.7h-2.7zM136.9 868.0h2.7v2.7h-2.7zM262.2 875.2h2.7v2.7h-2.7zM262.2 877.6h2.7v2.7h-2.7zM136.9 894.5h2.7v2.7h-2.7zM136.9 896.9h2.7v2.7h-2.7zM139.3 904.1h2.7v2.7h-2.7zM257.4 904.1h2.7v2.7h-2.7zM141.8 911.3h2.7v2.7h-2.7zM144.2 916.1h2.7v2.7h-2.7zM149.0 923.4h2.7v2.7h-2.7zM245.4 925.8h2.7v2.7h-2.7zM233.3 937.8h2.7v2.7h-2.7zM165.8 940.2h2.7v2.7h-2.7zM226.1 942.6h2.7v2.7h-2.7zM221.3 945.0h2.7v2.7h-2.7zM180.3 947.4h2.7v2.7h-2.7zM189.9 949.8h7.5v2.7h-7.5zM202.0 949.8h5.1v2.7h-5.1z"/>
<path fill="#0040ff" d="M189.9 810.3h5.1v2.7h-5.1zM216.4 810.3h5.1v2.7h-5.1zM182.7 812.7h2.7v2.7h-2.7zM223.7 812.7h5.1v2.7h-5.1zM177.9 815.1h2.7v2.7h-2.7zM230.9 815.1h2.7v2.7h-2.7zM173.1 817.5h2.7v2.7h-2.7zM233.3 817.5h2.7v2.7h-2.7zM168.3 819.9h2.7v2.7h-2.7zM165.8 822.3h2.7v2.7h-2.7zM240.5 822.3h2.7v2.7h-2.7zM242.9 824.7h2.7v2.7h-2.7zM250.2 834.3h2.7v2.7h-2.7zM151.4 836.7h2.7v2.7h-2.7zM149.0 839.1h2.7v2.7h-2.7zM252.6 839.1h2.7v2.7h-2.7zM146.6 844.0h2.7v2.7h-2.7zM255.0 844.0h2.7v2.7h-2.7zM141.8 853.6h2.7v2.7h-2.7zM139.3 858.4h2.7v2.7h-2.7zM259.8 858.4h2.7v2.7h-2.7zM139.3 860.8h2.7v2.7h-2.7zM136.9 870.4h2.7v2.7h-2.7zM136.9 872.8h2.7v2.7h-2.7zM136.9 875.2h2.7v2.7h-2.7zM136.9 877.6h2.7v2.7h-2.7zM136.9 882.4h2.7v2.7h-2.7zM136.9 884.9h2.7v2.7h-2.7zM136.9 887.3h2.7v2.7h-2.7zM136.9 889.7h2.7v2.7h-2.7zM136.9 892.1h2.7v2.7h-2.7zM259.8 894.5h2.7v2.7h-2.7zM139.3 901.7h2.7v2.7h-2.7zM141.8 908.9h2.7v2.7h-2.7zM255.0 908.9h2.7v2.7h-2.7zM144.2 913.7h2.7v2.7h-2.7zM146.6 918.5h2.7v2.7h-2.7zM250.2 918.5h2.7v2.7h-2.7zM151.4 925.8h2.7v2.7h-2.7zM153.8 928.2h2.7v2.7h-2.7zM242.9 928.2h2.7v2.7h-2.7zM156.2 930.6h2.7v2.7h-2.7zM158.6 933.0h2.7v2.7h-2.7zM161.0 935.4h2.7v2.7h-2.7zM235.7 935.4h2.7v2.7h-2.7zM163.4 937.8h2.7v2.7h-2.7zM170.7 942.6h2.7v2.7h-2.7zM175.5 945.0h2.7v2.7h-2.7zM182.7 947.4h2.7v2.7h-2.7zM214.0 947.4h2.7v2.7h-2.7zM197.2 949.8h5.1v2.7h-5.1z"/>
<path fill="#0055ff" d="M194.8 810.3h22.0v2.7h-22.0zM185.1 812.7h2.7v2.7h-2.7zM221.3 812.7h2.7v2.7h-2.7zM180.3 815.1h2.7v2.7h-2.7zM228.5 815.1h2.7v2.7h-2.7zM230.9 817.5h2.7v2.7h-2.7zM170.7 819.9h2.7v2.7h-2.7zM235.7 819.9h2.7v2.7h-2.7zM238.1 822.3h2.7v2.7h-2.7zM163.4 824.7h2.7v2.7h-2.7zM240.5 824.7h2.7v2.7h-2.7zM161.0 827.1h2.7v2.7h-2.7zM242.9 827.1h2.7v2.7h-2.7zM158.6 829.5h2.7v2.7h-2.7zM245.4 829.5h2.7v2.7h-2.7zM156.2 831.9h2.7v2.7h-2.7zM247.8 831.9h2.7v2.7h-2.7zM153.8 834.3h2.7v2.7h-2.7zM250.2 836.7h2.7v2.7h-2.7zM149.0 841.5h2.7v2.7h-2.7zM144.2 848.8h2.7v2.7h-2.7zM257.4 851.2h2.7v2.7h-2.7zM141.8 856.0h2.7v2.7h-2.7zM259.8 860.8h2.7v2.7h-2.7zM139.3 863.2h2.7v2.7h-2.7zM139.3 865.6h2.7v2.7h-2.7zM136.9 880.0h2.7v2.7h-2.7zM259.8 892.1h2.7v2.7h-2.7zM139.3 896.9h2.7v2.7h-2.7zM139.3 899.3h2.7v2.7h-2.7zM257.4 901.7h2.7v2.7h-2.7zM141.8 904.1h2.7v2.7h-2.7zM141.8 906.5h2.7v2.7h-2.7zM144.2 911.3h2.7v2.7h-2.7zM252.6 913.7h2.7v2.7h-2.7zM146.6 916.1h2.7v2.7h-2.7zM149.0 920.9h2.7v2.7h-2.7zM247.8 920.9h2.7v2.7h-2.7zM151.4 923.4h2.7v2.7h-2.7zM240.5 930.6h2.7v2.7h-2.7zM238.1 933.0h2.7v2.7h-2.7zM165.8 937.8h2.7v2.7h-2.7zM168.3 940.2h2.7v2.7h-2.7zM228.5 940.2h2.7v2.7h-2.7zM173.1 942.6h2.7v2.7h-2.7zM223.7 942.6h2.7v2.7h-2.7zM177.9 945.0h2.7v2.7h-2.7zM218.9 945.0h2.7v2.7h-2.7zM185.1 947.4h5.1v2.7h-5.1zM211.6 947.4h2.7v2.7h-2.7z"/>
<path fill="#006aff" d="M187.5 812.7h5.1v2.7h-5.1zM216.4 812.7h5.1v2.7h-5.1zM182.7 815.1h2.7v2.7h-2.7zM223.7 815.1h5.1v2.7h-5.1zM175.5 817.5h2.7v2.7h-2.7zM233.3 819.9h2.7v2.7h-2.7zM168.3 822.3h2.7v2.7h-2.7zM165.8 824.7h2.7v2.7h-2.7zM247.8 834.3h2.7v2.7h-2.7zM153.8 836.7h2.7v2.7h-2.7zM151.4 839.1h2.7v2.7h-2.7zM252.6 841.5h2.7v2.7h-2.7zM146.6 846.4h2.7v2.7h-2.7zM255.0 846.4h2.7v2.7h-2.7zM144.2 851.2h2.7v2.7h-2.7zM144.2 853.6h2.7v2.7h-2.7zM257.4 853.6h2.7v2.7h-2.7zM141.8 858.4h2.7v2.7h-2.7zM259.8 863.2h2.7v2.7h-2.7zM259.8 865.6h2.7v2.7h-2.7zM139.3 868.0h2.7v2.7h-2.7zM139.3 870.4h2.7v2.7h-2.7zM139.3 872.8h2.7v2.7h-2.7zM259.8 887.3h2.7v2.7h-2.7zM139.3 889.7h2.7v2.7h-2.7zM259.8 889.7h2.7v2.7h-2.7zM139.3 892.1h2.7v2.7h-2.7zM139.3 894.5h2.7v2.7h-2.7zM257.4 899.3h2.7v2.7h-2.7zM141.8 901.7h2.7v2.7h-2.7zM255.0 906.5h2.7v2.7h-2.7zM144.2 908.9h2.7v2.7h-2.7zM146.6 913.7h2.7v2.7h-2.7zM250.2 916.1h2.7v2.7h-2.7zM149.0 918.5h2.7v2.7h-2.7zM245.4 923.4h2.7v2.7h-2.7zM153.8 925.8h2.7v2.7h-2.7zM156.2 928.2h2.7v2.7h-2.7zM158.6 930.6h2.7v2.7h-2.7zM161.0 933.0h2.7v2.7h-2.7zM163.4 935.4h2.7v2.7h-2.7zM230.9 937.8h2.7v2.7h-2.7zM170.7 940.2h2.7v2.7h-2.7zM175.5 942.6h2.7v2.7h-2.7zM180.3 945.0h2.7v2.7h-2.7zM216.4 945.0h2.7v2.7h-2.7zM189.9 947.4h5.1v2.7h-5.1zM204.4 947.4h7.5v2.7h-7.5z"/>
<path fill="#0080ff" d="M192.4 812.7h7.5v2.7h-7.5zM209.2 812.7h7.5v2.7h-7.5zM185.1 815.1h2.7v2.7h-2.7zM221.3 815.1h2.7v2.7h-2.7zM177.9 817.5h2.7v2.7h-2.7zM226.1 817.5h5.1v2.7h-5.1zM173.1 819.9h2.7v2.7h-2.7zM230.9 819.9h2.7v2.7h-2.7zM170.7 822.3h2.7v2.7h-2.7zM235.7 822.3h2.7v2.7h-2.7zM238.1 824.7h2.7v2.7h-2.7zM163.4 827.1h2.7v2.7h-2.7zM240.5 827.1h2.7v2.7h-2.7zM161.0 829.5h2.7v2.7h-2.7zM242.9 829.5h2.7v2.7h-2.7zM158.6 831.9h2.7v2.7h-2.7zM245.4 831.9h2.7v2.7h-2.7zM156.2 834.3h2.7v2.7h-2.7zM250.2 839.1h2.7v2.7h-2.7zM151.4 841.5h2.7v2.7h-2.7zM149.0 844.0h2.7v2.7h-2.7zM252.6 844.0h2.7v2.7h-2.7zM146.6 848.8h2.7v2.7h-2.7zM255.0 848.8h2.7v2.7h-2.7zM144.2 856.0h2.7v2.7h-2.7zM257.4 856.0h2.7v2.7h-2.7zM141.8 860.8h2.7v2.7h-2.7zM141.8 863.2h2.7v2.7h-2.7zM259.8 868.0h2.7v2.7h-2.7zM259.8 870.4h2.7v2.7h-2.7zM259.8 872.8h2.7v2.7h-2.7zM139.3 875.2h2.7v2.7h-2.7zM139.3 877.6h2.7v2.7h-2.7zM139.3 880.0h2.7v2.7h-2.7zM259.8 880.0h2.7v2.7h-2.7zM139.3 882.4h2.7v2.7h-2.7zM259.8 882.4h2.7v2.7h-2.7zM139.3 884.9h2.7v2.7h-2.7zM259.8 884.9h2.7v2.7h-2.7zM139.3 887.3h2.7v2.7h-2.7zM141.8 896.9h2.7v2.7h-2.7zM257.4 896.9h2.7v2.7h-2.7zM141.8 899.3h2.7v2.7h-2.7zM144.2 906.5h2.7v2.7h-2.7zM146.6 911.3h2.7v2.7h-2.7zM252.6 911.3h2.7v2.7h-2.7zM149.0 916.1h2.7v2.7h-2.7zM151.4 920.9h2.7v2.7h-2.7zM153.8 923.4h2.7v2.7h-2.7zM242.9 925.8h2.7v2.7h-2.7zM240.5 928.2h2.7v2.7h-2.7zM238.1 930.6h2.7v2.7h-2.7zM235.7 933.0h2.7v2.7h-2.7zM165.8 935.4h2.7v2.7h-2.7zM233.3 935.4h2.7v2.7h-2.7zM168.3 937.8h2.7v2.7h-2.7zM173.1 940.2h2.7v2.7h-2.7zM226.1 940.2h2.7v2.7h-2.7zM177.9 942.6h2.7v2.7h-2.7zM221.3 942.6h2.7v2.7h-2.7zM182.7 945.0h5.1v2.7h-5.1zM214.0 945.0h2.7v2.7h-2.7zM194.8 947.4h9.9v2.7h-9.9z"/>
<path fill="#0095ff" d="M199.6 812.7h9.9v2.7h-9.9zM187.5 815.1h5.1v2.7h-5.1zM216.4 815.1h5.1v2.7h-5.1zM180.3 817.5h5.1v2.7h-5.1zM223.7 817.5h2.7v2.7h-2.7zM175.5 819.9h2.7v2.7h-2.7zM228.5 819.9h2.7v2.7h-2.7zM173.1 822.3h2.7v2.7h-2.7zM233.3 822.3h2.7v2.7h-2.7zM168.3 824.7h2.7v2.7h-2.7zM235.7 824.7h2.7v2.7h-2.7zM165.8 827.1h2.7v2.7h-2.7zM245.4 834.3h2.7v2.7h-2.7zM156.2 836.7h2.7v2.7h-2.7zM247.8 836.7h2.7v2.7h-2.7zM153.8 839.1h2.7v2.7h-2.7zM250.2 841.5h2.7v2.7h-2.7zM151.4 844.0h2.7v2.7h-2.7zM149.0 846.4h2.7v2.7h-2.7zM252.6 846.4h2.7v2.7h-2.7zM146.6 851.2h2.7v2.7h-2.7zM255.0 851.2h2.7v2.7h-2.7zM144.2 858.4h2.7v2.7h-2.7zM257.4 858.4h2.7v2.7h-2.7zM257.4 860.8h2.7v2.7h-2.7zM141.8 865.6h2.7v2.7h-2.7zM141.8 868.0h2.7v2.7h-2.7zM141.8 870.4h2.7v2.7h-2.7zM259.8 875.2h2.7v2.7h-2.7zM259.8 877.6h2.7v2.7h-2.7zM141.8 892.1h2.7v2.7h-2.7zM141.8 894.5h2.7v2.7h-2.7zM257.4 894.5h2.7v2.7h-2.7zM144.2 901.7h2.7v2.7h-2.7zM144.2 904.1h2.7v2.7h-2.7zM255.0 904.1h2.7v2.7h-2.7zM146.6 908.9h2.7v2.7h-2.7zM252.6 908.9h2.7v2.7h-2.7zM149.0 913.7h2.7v2.7h-2.7zM250.2 913.7h2.7v2.7h-2.7zM151.4 918.5h2.7v2.7h-2.7zM247.8 918.5h2.7v2.7h-2.7zM153.8 920.9h2.7v2.7h-2.7zM156.2 925.8h2.7v2.7h-2.7zM158.6 928.2h2.7v2.7h-2.7zM161.0 930.6h2.7v2.7h-2.7zM163.4 933.0h2.7v2.7h-2.7zM170.7 937.8h2.7v2.7h-2.7zM228.5 937.8h2.7v2.7h-2.7zM175.5 940.2h2.7v2.7h-2.7zM223.7 940.2h2.7v2.7h-2.7zM180.3 942.6h2.7v2.7h-2.7zM218.9 942.6h2.7v2.7h-2.7zM187.5 945.0h5.1v2.7h-5.1zM209.2 945.0h5.1v2.7h-5.1z"/>
<path fill="#00aaff" d="M192.4 815.1h5.1v2.7h-5.1zM211.6 815.1h5.1v2.7h-5.1zM185.1 817.5h2.7v2.7h-2.7zM221.3 817.5h2.7v2.7h-2.7zM177.9 819.9h2.7v2.7h-2.7zM230.9 822.3h2.7v2.7h-2.7zM170.7 824.7h2.7v2.7h-2.7zM238.1 827.1h2.7v2.7h-2.7zM163.4 829.5h2.7v2.7h-2.7zM240.5 829.5h2.7v2.7h-2.7zM161.0 831.9h2.7v2.7h-2.7zM242.9 831.9h2.7v2.7h-2.7zM158.6 834.3h2.7v2.7h-2.7zM247.8 839.1h2.7v2.7h-2.7zM153.8 841.5h2.7v2.7h-2.7zM149.0 848.8h2.7v2.7h-2.7zM146.6 853.6h2.7v2.7h-2.7zM255.0 853.6h2.7v2.7h-2.7zM144.2 860.8h2.7v2.7h-2.7zM144.2 863.2h2.7v2.7h-2.7zM257.4 863.2h2.7v2.7h-2.7zM141.8 872.8h2.7v2.7h-2.7zM141.8 875.2h2.7v2.7h-2.7zM141.8 877.6h2.7v2.7h-2.7zM141.8 880.0h2.7v2.7h-2.7zM141.8 882.4h2.7v2.7h-2.7zM141.8 884.9h2.7v2.7h-2.7zM141.8 887.3h2.7v2.7h-2.7zM141.8 889.7h2.7v2.7h-2.7zM257.4 892.1h2.7v2.7h-2.7zM144.2 899.3h2.7v2.7h-2.7zM255.0 901.7h2.7v2.7h-2.7zM146.6 906.5h2.7v2.7h-2.7zM149.0 911.3h2.7v2.7h-2.7zM151.4 916.1h2.7v2.7h-2.7zM245.4 920.9h2.7v2.7h-2.7zM156.2 923.4h2.7v2.7h-2.7zM242.9 923.4h2.7v2.7h-2.7zM158.6 925.8h2.7v2.7h-2.7zM163.4 930.6h2.7v2.7h-2.7zM165.8 933.0h2.7v2.7h-2.7zM233.3 933.0h2.7v2.7h-2.7zM168.3 935.4h2.7v2.7h-2.7zM230.9 935.4h2.7v2.7h-2.7zM173.1 937.8h2.7v2.7h-2.7zM226.1 937.8h2.7v2.7h-2.7zM177.9 940.2h2.7v2.7h-2.7zM182.7 942.6h2.7v2.7h-2.7zM216.4 942.6h2.7v2.7h-2.7zM192.4 945.0h17.2v2.7h-17.2z"/>
<path fill="#00bfff" d="M197.2 815.1h14.8v2.7h-14.8zM187.5 817.5h2.7v2.7h-2.7zM218.9 817.5h2.7v2.7h-2.7zM180.3 819.9h2.7v2.7h-2.7zM226.1 819.9h2.7v2.7h-2.7zM175.5 822.3h2.7v2.7h-2.7zM233.3 824.7h2.7v2.7h-2.7zM168.3 827.1h2.7v2.7h-2.7zM245.4 836.7h2.7v2.7h-2.7zM156.2 839.1h2.7v2.7h-2.7zM250.2 844.0h2.7v2.7h-2.7zM151.4 846.4h2.7v2.7h-2.7zM252.6 848.8h2.7v2.7h-2.7zM149.0 851.2h2.7v2.7h-2.7zM146.6 856.0h2.7v2.7h-2.7zM255.0 856.0h2.7v2.7h-2.7zM144.2 865.6h2.7v2.7h-2.7zM257.4 865.6h2.7v2.7h-2.7zM257.4 889.7h2.7v2.7h-2.7zM144.2 896.9h2.7v2.7h-2.7zM255.0 899.3h2.7v2.7h-2.7zM146.6 904.1h2.7v2.7h-2.7zM252.6 906.5h2.7v2.7h-2.7zM250.2 911.3h2.7v2.7h-2.7zM247.8 916.1h2.7v2.7h-2.7zM153.8 918.5h2.7v2.7h-2.7zM240.5 925.8h2.7v2.7h-2.7zM161.0 928.2h2.7v2.7h-2.7zM238.1 928.2h2.7v2.7h-2.7zM235.7 930.6h2.7v2.7h-2.7zM221.3 940.2h2.7v2.7h-2.7zM185.1 942.6h2.7v2.7h-2.7zM214.0 942.6h2.7v2.7h-2.7z"/>
<path fill="#00d4ff" d="M189.9 817.5h2.7v2.7h-2.7zM216.4 817.5h2.7v2.7h-2.7zM223.7 819.9h2.7v2.7h-2.7zM228.5 822.3h2.7v2.7h-2.7zM173.1 824.7h2.7v2.7h-2.7zM235.7 827.1h2.7v2.7h-2.7zM165.8 829.5h2.7v2.7h-2.7zM238.1 829.5h2.7v2.7h-2.7zM163.4 831.9h2.7v2.7h-2.7zM240.5 831.9h2.7v2.7h-2.7zM161.0 834.3h2.7v2.7h-2.7zM242.9 834.3h2.7v2.7h-2.7zM158.6 836.7h2.7v2.7h-2.7zM153.8 844.0h2.7v2.7h-2.7zM146.6 858.4h2.7v2.7h-2.7zM144.2 868.0h2.7v2.7h-2.7zM257.4 868.0h2.7v2.7h-2.7zM257.4 870.4h2.7v2.7h-2.7zM257.4 884.9h2.7v2.7h-2.7zM257.4 887.3h2.7v2.7h-2.7zM144.2 892.1h2.7v2.7h-2.7zM144.2 894.5h2.7v2.7h-2.7zM149.0 908.9h2.7v2.7h-2.7zM151.4 913.7h2.7v2.7h-2.7zM245.4 918.5h2.7v2.7h-2.7zM156.2 920.9h2.7v2.7h-2.7zM168.3 933.0h2.7v2.7h-2.7zM170.7 935.4h2.7v2.7h-2.7zM228.5 935.4h2.7v2.7h-2.7zM175.5 937.8h2.7v2.7h-2.7zM180.3 940.2h2.7v2.7h-2.7zM218.9 940.2h2.7v2.7h-2.7zM187.5 942.6h2.7v2.7h-2.7zM211.6 942.6h2.7v2.7h-2.7z"/>
<path fill="#00eaff" d="M192.4 817.5h2.7v2.7h-2.7zM214.0 817.5h2.7v2.7h-2.7zM182.7 819.9h2.7v2.7h-2.7zM221.3 819.9h2.7v2.7h-2.7zM177.9 822.3h2.7v2.7h-2.7zM230.9 824.7h2.7v2.7h-2.7zM170.7 827.1h2.7v2.7h-2.7zM156.2 841.5h2.7v2.7h-2.7zM247.8 841.5h2.7v2.7h-2.7zM250.2 846.4h2.7v2.7h-2.7zM151.4 848.8h2.7v2.7h-2.7zM252.6 851.2h2.7v2.7h-2.7zM149.0 853.6h2.7v2.7h-2.7zM255.0 858.4h2.7v2.7h-2.7zM146.6 860.8h2.7v2.7h-2.7zM144.2 870.4h2.7v2.7h-2.7zM144.2 872.8h2.7v2.7h-2.7zM257.4 872.8h2.7v2.7h-2.7zM257.4 875.2h2.7v2.7h-2.7zM257.4 877.6h2.7v2.7h-2.7zM257.4 880.0h2.7v2.7h-2.7zM257.4 882.4h2.7v2.7h-2.7zM144.2 887.3h2.7v2.7h-2.7zM144.2 889.7h2.7v2.7h-2.7zM255.0 896.9h2.7v2.7h-2.7zM146.6 901.7h2.7v2.7h-2.7zM252.6 904.1h2.7v2.7h-2.7zM247.8 913.7h2.7v2.7h-2.7zM153.8 916.1h2.7v2.7h-2.7zM242.9 920.9h2.7v2.7h-2.7zM158.6 923.4h2.7v2.7h-2.7zM161.0 925.8h2.7v2.7h-2.7zM163.4 928.2h2.7v2.7h-2.7zM165.8 930.6h2.7v2.7h-2.7zM230.9 933.0h2.7v2.7h-2.7zM223.7 937.8h2.7v2.7h-2.7zM182.7 940.2h2.7v2.7h-2.7zM189.9 942.6h5.1v2.7h-5.1zM209.2 942.6h2.7v2.7h-2.7z"/>
<path fill="#00ffff" d="M194.8 817.5h5.1v2.7h-5.1zM209.2 817.5h5.1v2.7h-5.1zM185.1 819.9h2.7v2.7h-2.7zM180.3 822.3h2.7v2.7h-2.7zM226.1 822.3h2.7v2.7h-2.7zM175.5 824.7h2.7v2.7h-2.7zM233.3 827.1h2.7v2.7h-2.7zM168.3 829.5h2.7v2.7h-2.7zM242.9 836.7h2.7v2.7h-2.7zM158.6 839.1h2.7v2.7h-2.7zM245.4 839.1h2.7v2.7h-2.7zM153.8 846.4h2.7v2.7h-2.7zM252.6 853.6h2.7v2.7h-2.7zM149.0 856.0h2.7v2.7h-2.7zM255.0 860.8h2.7v2.7h-2.7zM146.6 863.2h2.7v2.7h-2.7zM144.2 875.2h2.7v2.7h-2.7zM144.2 877.6h2.7v2.7h-2.7zM144.2 880.0h2.7v2.7h-2.7zM144.2 882.4h2.7v2.7h-2.7zM144.2 884.9h2.7v2.7h-2.7zM255.0 894.5h2.7v2.7h-2.7zM146.6 899.3h2.7v2.7h-2.7zM149.0 906.5h2.7v2.7h-2.7zM250.2 908.9h2.7v2.7h-2.7zM151.4 911.3h2.7v2.7h-2.7zM240.5 923.4h2.7v2.7h-2.7zM238.1 925.8h2.7v2.7h-2.7zM235.7 928.2h2.7v2.7h-2.7zM233.3 930.6h2.7v2.7h-2.7zM173.1 935.4h2.7v2.7h-2.7zM226.1 935.4h2.7v2.7h-2.7zM177.9 937.8h2.7v2.7h-2.7zM216.4 940.2h2.7v2.7h-2.7zM194.8 942.6h14.8v2.7h-14.8z"/>
<path fill="#00ffea" d="M199.6 817.5h9.9v2.7h-9.9zM187.5 819.9h2.7v2.7h-2.7zM218.9 819.9h2.7v2.7h-2.7zM223.7 822.3h2.7v2.7h-2.7zM228.5 824.7h2.7v2.7h-2.7zM235.7 829.5h2.7v2.7h-2.7zM165.8 831.9h2.7v2.7h-2.7zM238.1 831.9h2.7v2.7h-2.7zM163.4 834.3h2.7v2.7h-2.7zM240.5 834.3h2.7v2.7h-2.7zM161.0 836.7h2.7v2.7h-2.7zM247.8 844.0h2.7v2.7h-2.7zM250.2 848.8h2.7v2.7h-2.7zM151.4 851.2h2.7v2.7h-2.7zM255.0 863.2h2.7v2.7h-2.7zM146.6 865.6h2.7v2.7h-2.7zM255.0 892.1h2.7v2.7h-2.7zM146.6 896.9h2.7v2.7h-2.7zM252.6 901.7h2.7v2.7h-2.7zM149.0 904.1h2.7v2.7h-2.7zM153.8 913.7h2.7v2.7h-2.7zM245.4 916.1h2.7v2.7h-2.7zM156.2 918.5h2.7v2.7h-2.7zM158.6 920.9h2.7v2.7h-2.7zM168.3 930.6h2.7v2.7h-2.7zM170.7 933.0h2.7v2.7h-2.7zM175.5 935.4h2.7v2.7h-2.7zM180.3 937.8h2.7v2.7h-2.7zM221.3 937.8h2.7v2.7h-2.7zM185.1 940.2h2.7v2.7h-2.7zM214.0 940.2h2.7v2.7h-2.7z"/>
<path fill="#00ffd4" d="M189.9 819.9h2.7v2.7h-2.7zM214.0 819.9h5.1v2.7h-5.1zM182.7 822.3h2.7v2.7h-2.7zM177.9 824.7h2.7v2.7h-2.7zM173.1 827.1h2.7v2.7h-2.7zM230.9 827.1h2.7v2.7h-2.7zM170.7 829.5h2.7v2.7h-2.7zM158.6 841.5h2.7v2.7h-2.7zM245.4 841.5h2.7v2.7h-2.7zM156.2 844.0h2.7v2.7h-2.7zM153.8 848.8h2.7v2.7h-2.7zM151.4 853.6h2.7v2.7h-2.7zM252.6 856.0h2.7v2.7h-2.7zM149.0 858.4h2.7v2.7h-2.7zM255.0 865.6h2.7v2.7h-2.7zM146.6 868.0h2.7v2.7h-2.7zM255.0 868.0h2.7v2.7h-2.7zM255.0 889.7h2.7v2.7h-2.7zM146.6 892.1h2.7v2.7h-2.7zM146.6 894.5h2.7v2.7h-2.7zM252.6 899.3h2.7v2.7h-2.7zM149.0 901.7h2.7v2.7h-2.7zM250.2 906.5h2.7v2.7h-2.7zM151.4 908.9h2.7v2.7h-2.7zM247.8 911.3h2.7v2.7h-2.7zM242.9 918.5h2.7v2.7h-2.7zM161.0 923.4h2.7v2.7h-2.7zM163.4 925.8h2.7v2.7h-2.7zM165.8 928.2h2.7v2.7h-2.7zM228.5 933.0h2.7v2.7h-2.7zM223.7 935.4h2.7v2.7h-2.7zM218.9 937.8h2.7v2.7h-2.7zM187.5 940.2h5.1v2.7h-5.1zM211.6 940.2h2.7v2.7h-2.7z"/>
<path fill="#00ffbf" d="M192.4 819.9h5.1v2.7h-5.1zM211.6 819.9h2.7v2.7h-2.7zM185.1 822.3h2.7v2.7h-2.7zM221.3 822.3h2.7v2.7h-2.7zM226.1 824.7h2.7v2.7h-2.7zM175.5 827.1h2.7v2.7h-2.7zM233.3 829.5h2.7v2.7h-2.7zM168.3 831.9h2.7v2.7h-2.7zM235.7 831.9h2.7v2.7h-2.7zM165.8 834.3h2.7v2.7h-2.7zM163.4 836.7h2.7v2.7h-2.7zM240.5 836.7h2.7v2.7h-2.7zM161.0 839.1h2.7v2.7h-2.7zM242.9 839.1h2.7v2.7h-2.7zM247.8 846.4h2.7v2.7h-2.7zM250.2 851.2h2.7v2.7h-2.7zM252.6 858.4h2.7v2.7h-2.7zM149.0 860.8h2.7v2.7h-2.7zM146.6 870.4h2.7v2.7h-2.7zM255.0 870.4h2.7v2.7h-2.7zM146.6 872.8h2.7v2.7h-2.7zM255.0 872.8h2.7v2.7h-2.7zM146.6 875.2h2.7v2.7h-2.7zM255.0 884.9h2.7v2.7h-2.7zM146.6 887.3h2.7v2.7h-2.7zM255.0 887.3h2.7v2.7h-2.7zM146.6 889.7h2.7v2.7h-2.7zM149.0 899.3h2.7v2.7h-2.7zM151.4 906.5h2.7v2.7h-2.7zM153.8 911.3h2.7v2.7h-2.7zM156.2 916.1h2.7v2.7h-2.7zM240.5 920.9h2.7v2.7h-2.7zM233.3 928.2h2.7v2.7h-2.7zM230.9 930.6h2.7v2.7h-2.7zM173.1 933.0h2.7v2.7h-2.7zM177.9 935.4h2.7v2.7h-2.7zM182.7 937.8h2.7v2.7h-2.7zM192.4 940.2h2.7v2.7h-2.7zM206.8 940.2h5.1v2.7h-5.1z"/>
<path fill="#00ffaa" d="M197.2 819.9h14.8v2.7h-14.8zM187.5 822.3h2.7v2.7h-2.7zM218.9 822.3h2.7v2.7h-2.7zM180.3 824.7h2.7v2.7h-2.7zM223.7 824.7h2.7v2.7h-2.7zM228.5 827.1h2.7v2.7h-2.7zM238.1 834.3h2.7v2.7h-2.7zM245.4 844.0h2.7v2.7h-2.7zM156.2 846.4h2.7v2.7h-2.7zM153.8 851.2h2.7v2.7h-2.7zM250.2 853.6h2.7v2.7h-2.7zM151.4 856.0h2.7v2.7h-2.7zM252.6 860.8h2.7v2.7h-2.7zM149.0 863.2h2.7v2.7h-2.7zM255.0 875.2h2.7v2.7h-2.7zM146.6 877.6h2.7v2.7h-2.7zM255.0 877.6h2.7v2.7h-2.7zM146.6 880.0h2.7v2.7h-2.7zM255.0 880.0h2.7v2.7h-2.7zM146.6 882.4h2.7v2.7h-2.7zM255.0 882.4h2.7v2.7h-2.7zM146.6 884.9h2.7v2.7h-2.7zM149.0 896.9h2.7v2.7h-2.7zM252.6 896.9h2.7v2.7h-2.7zM151.4 904.1h2.7v2.7h-2.7zM250.2 904.1h2.7v2.7h-2.7zM247.8 908.9h2.7v2.7h-2.7zM245.4 913.7h2.7v2.7h-2.7zM158.6 918.5h2.7v2.7h-2.7zM161.0 920.9h2.7v2.7h-2.7zM238.1 923.4h2.7v2.7h-2.7zM235.7 925.8h2.7v2.7h-2.7zM168.3 928.2h2.7v2.7h-2.7zM170.7 930.6h2.7v2.7h-2.7zM226.1 933.0h2.7v2.7h-2.7zM221.3 935.4h2.7v2.7h-2.7zM185.1 937.8h2.7v2.7h-2.7zM216.4 937.8h2.7v2.7h-2.7zM194.8 940.2h12.3v2.7h-12.3z"/>
<path fill="#00ff95" d="M189.9 822.3h2.7v2.7h-2.7zM216.4 822.3h2.7v2.7h-2.7zM182.7 824.7h2.7v2.7h-2.7zM177.9 827.1h2.7v2.7h-2.7zM173.1 829.5h2.7v2.7h-2.7zM230.9 829.5h2.7v2.7h-2.7zM170.7 831.9h2.7v2.7h-2.7zM242.9 841.5h2.7v2.7h-2.7zM158.6 844.0h2.7v2.7h-2.7zM247.8 848.8h2.7v2.7h-2.7zM151.4 858.4h2.7v2.7h-2.7zM252.6 863.2h2.7v2.7h-2.7zM149.0 865.6h2.7v2.7h-2.7zM149.0 894.5h2.7v2.7h-2.7zM252.6 894.5h2.7v2.7h-2.7zM250.2 901.7h2.7v2.7h-2.7zM153.8 908.9h2.7v2.7h-2.7zM156.2 913.7h2.7v2.7h-2.7zM242.9 916.1h2.7v2.7h-2.7zM163.4 923.4h2.7v2.7h-2.7zM165.8 925.8h2.7v2.7h-2.7zM228.5 930.6h2.7v2.7h-2.7zM175.5 933.0h2.7v2.7h-2.7zM180.3 935.4h2.7v2.7h-2.7zM187.5 937.8h2.7v2.7h-2.7zM214.0 937.8h2.7v2.7h-2.7z"/>
<path fill="#00ff80" d="M192.4 822.3h2.7v2.7h-2.7zM214.0 822.3h2.7v2.7h-2.7zM221.3 824.7h2.7v2.7h-2.7zM226.1 827.1h2.7v2.7h-2.7zM233.3 831.9h2.7v2.7h-2.7zM168.3 834.3h2.7v2.7h-2.7zM235.7 834.3h2.7v2.7h-2.7zM165.8 836.7h2.7v2.7h-2.7zM238.1 836.7h2.7v2.7h-2.7zM163.4 839.1h2.7v2.7h-2.7zM240.5 839.1h2.7v2.7h-2.7zM161.0 841.5h2.7v2.7h-2.7zM245.4 846.4h2.7v2.7h-2.7zM156.2 848.8h2.7v2.7h-2.7zM153.8 853.6h2.7v2.7h-2.7zM250.2 856.0h2.7v2.7h-2.7zM252.6 865.6h2.7v2.7h-2.7zM149.0 868.0h2.7v2.7h-2.7zM149.0 870.4h2.7v2.7h-2.7zM149.0 892.1h2.7v2.7h-2.7zM252.6 892.1h2.7v2.7h-2.7zM151.4 901.7h2.7v2.7h-2.7zM247.8 906.5h2.7v2.7h-2.7zM245.4 911.3h2.7v2.7h-2.7zM158.6 916.1h2.7v2.7h-2.7zM240.5 918.5h2.7v2.7h-2.7zM230.9 928.2h2.7v2.7h-2.7zM173.1 930.6h2.7v2.7h-2.7zM223.7 933.0h2.7v2.7h-2.7zM182.7 935.4h2.7v2.7h-2.7zM218.9 935.4h2.7v2.7h-2.7zM189.9 937.8h2.7v2.7h-2.7zM211.6 937.8h2.7v2.7h-2.7z"/>
<path fill="#00ff6a" d="M194.8 822.3h2.7v2.7h-2.7zM209.2 822.3h5.1v2.7h-5.1zM185.1 824.7h2.7v2.7h-2.7zM218.9 824.7h2.7v2.7h-2.7zM180.3 827.1h2.7v2.7h-2.7zM175.5 829.5h2.7v2.7h-2.7zM228.5 829.5h2.7v2.7h-2.7zM158.6 846.4h2.7v2.7h-2.7zM247.8 851.2h2.7v2.7h-2.7zM153.8 856.0h2.7v2.7h-2.7zM250.2 858.4h2.7v2.7h-2.7zM151.4 860.8h2.7v2.7h-2.7zM252.6 868.0h2.7v2.7h-2.7zM149.0 872.8h2.7v2.7h-2.7zM149.0 875.2h2.7v2.7h-2.7zM149.0 887.3h2.7v2.7h-2.7zM149.0 889.7h2.7v2.7h-2.7zM252.6 889.7h2.7v2.7h-2.7zM151.4 899.3h2.7v2.7h-2.7zM250.2 899.3h2.7v2.7h-2.7zM153.8 906.5h2.7v2.7h-2.7zM156.2 911.3h2.7v2.7h-2.7zM161.0 918.5h2.7v2.7h-2.7zM163.4 920.9h2.7v2.7h-2.7zM238.1 920.9h2.7v2.7h-2.7zM165.8 923.4h2.7v2.7h-2.7zM235.7 923.4h2.7v2.7h-2.7zM168.3 925.8h2.7v2.7h-2.7zM233.3 925.8h2.7v2.7h-2.7zM170.7 928.2h2.7v2.7h-2.7zM177.9 933.0h2.7v2.7h-2.7zM192.4 937.8h2.7v2.7h-2.7zM206.8 937.8h5.1v2.7h-5.1z"/>
<path fill="#00ff55" d="M197.2 822.3h12.3v2.7h-12.3zM187.5 824.7h2.7v2.7h-2.7zM223.7 827.1h2.7v2.7h-2.7zM173.1 831.9h2.7v2.7h-2.7zM230.9 831.9h2.7v2.7h-2.7zM161.0 844.0h2.7v2.7h-2.7zM242.9 844.0h2.7v2.7h-2.7zM245.4 848.8h2.7v2.7h-2.7zM156.2 851.2h2.7v2.7h-2.7zM247.8 853.6h2.7v2.7h-2.7zM151.4 863.2h2.7v2.7h-2.7zM252.6 870.4h2.7v2.7h-2.7zM252.6 872.8h2.7v2.7h-2.7zM149.0 877.6h2.7v2.7h-2.7zM149.0 880.0h2.7v2.7h-2.7zM149.0 882.4h2.7v2.7h-2.7zM149.0 884.9h2.7v2.7h-2.7zM252.6 884.9h2.7v2.7h-2.7zM252.6 887.3h2.7v2.7h-2.7zM151.4 896.9h2.7v2.7h-2.7zM250.2 896.9h2.7v2.7h-2.7zM153.8 904.1h2.7v2.7h-2.7zM247.8 904.1h2.7v2.7h-2.7zM245.4 908.9h2.7v2.7h-2.7zM158.6 913.7h2.7v2.7h-2.7zM242.9 913.7h2.7v2.7h-2.7zM175.5 930.6h2.7v2.7h-2.7zM226.1 930.6h2.7v2.7h-2.7zM180.3 933.0h2.7v2.7h-2.7zM221.3 933.0h2.7v2.7h-2.7zM185.1 935.4h2.7v2.7h-2.7zM216.4 935.4h2.7v2.7h-2.7zM194.8 937.8h12.3v2.7h-12.3z"/>
<path fill="#00ff40" d="M189.9 824.7h2.7v2.7h-2.7zM216.4 824.7h2.7v2.7h-2.7zM182.7 827.1h2.7v2.7h-2.7zM221.3 827.1h2.7v2.7h-2.7zM177.9 829.5h2.7v2.7h-2.7zM226.1 829.5h2.7v2.7h-2.7zM170.7 834.3h2.7v2.7h-2.7zM233.3 834.3h2.7v2.7h-2.7zM168.3 836.7h2.7v2.7h-2.7zM235.7 836.7h2.7v2.7h-2.7zM165.8 839.1h2.7v2.7h-2.7zM238.1 839.1h2.7v2.7h-2.7zM163.4 841.5h2.7v2.7h-2.7zM240.5 841.5h2.7v2.7h-2.7zM158.6 848.8h2.7v2.7h-2.7zM156.2 853.6h2.7v2.7h-2.7zM153.8 858.4h2.7v2.7h-2.7zM250.2 860.8h2.7v2.7h-2.7zM151.4 865.6h2.7v2.7h-2.7zM252.6 875.2h2.7v2.7h-2.7zM252.6 877.6h2.7v2.7h-2.7zM252.6 880.0h2.7v2.7h-2.7zM252.6 882.4h2.7v2.7h-2.7zM151.4 894.5h2.7v2.7h-2.7zM156.2 908.9h2.7v2.7h-2.7zM161.0 916.1h2.7v2.7h-2.7zM240.5 916.1h2.7v2.7h-2.7zM173.1 928.2h2.7v2.7h-2.7zM228.5 928.2h2.7v2.7h-2.7zM187.5 935.4h2.7v2.7h-2.7zM214.0 935.4h2.7v2.7h-2.7z"/>
<path fill="#00ff2b" d="M192.4 824.7h2.7v2.7h-2.7zM211.6 824.7h5.1v2.7h-5.1zM185.1 827.1h2.7v2.7h-2.7zM175.5 831.9h2.7v2.7h-2.7zM161.0 846.4h2.7v2.7h-2.7zM242.9 846.4h2.7v2.7h-2.7zM245.4 851.2h2.7v2.7h-2.7zM247.8 856.0h2.7v2.7h-2.7zM153.8 860.8h2.7v2.7h-2.7zM250.2 863.2h2.7v2.7h-2.7zM151.4 868.0h2.7v2.7h-2.7zM151.4 870.4h2.7v2.7h-2.7zM151.4 892.1h2.7v2.7h-2.7zM250.2 894.5h2.7v2.7h-2.7zM153.8 901.7h2.7v2.7h-2.7zM247.8 901.7h2.7v2.7h-2.7zM156.2 906.5h2.7v2.7h-2.7zM245.4 906.5h2.7v2.7h-2.7zM158.6 911.3h2.7v2.7h-2.7zM242.9 911.3h2.7v2.7h-2.7zM163.4 918.5h2.7v2.7h-2.7zM238.1 918.5h2.7v2.7h-2.7zM165.8 920.9h2.7v2.7h-2.7zM235.7 920.9h2.7v2.7h-2.7zM168.3 923.4h2.7v2.7h-2.7zM233.3 923.4h2.7v2.7h-2.7zM170.7 925.8h2.7v2.7h-2.7zM230.9 925.8h2.7v2.7h-2.7zM177.9 930.6h2.7v2.7h-2.7zM223.7 930.6h2.7v2.7h-2.7zM182.7 933.0h2.7v2.7h-2.7zM218.9 933.0h2.7v2.7h-2.7zM189.9 935.4h2.7v2.7h-2.7zM211.6 935.4h2.7v2.7h-2.7z"/>
<path fill="#00ff15" d="M194.8 824.7h5.1v2.7h-5.1zM206.8 824.7h5.1v2.7h-5.1zM218.9 827.1h2.7v2.7h-2.7zM180.3 829.5h2.7v2.7h-2.7zM223.7 829.5h2.7v2.7h-2.7zM228.5 831.9h2.7v2.7h-2.7zM173.1 834.3h2.7v2.7h-2.7zM230.9 834.3h2.7v2.7h-2.7zM170.7 836.7h2.7v2.7h-2.7zM163.4 844.0h2.7v2.7h-2.7zM240.5 844.0h2.7v2.7h-2.7zM158.6 851.2h2.7v2.7h-2.7zM156.2 856.0h2.7v2.7h-2.7zM247.8 858.4h2.7v2.7h-2.7zM250.2 865.6h2.7v2.7h-2.7zM151.4 872.8h2.7v2.7h-2.7zM151.4 875.2h2.7v2.7h-2.7zM151.4 887.3h2.7v2.7h-2.7zM151.4 889.7h2.7v2.7h-2.7zM250.2 889.7h2.7v2.7h-2.7zM250.2 892.1h2.7v2.7h-2.7zM153.8 899.3h2.7v2.7h-2.7zM247.8 899.3h2.7v2.7h-2.7zM161.0 913.7h2.7v2.7h-2.7zM240.5 913.7h2.7v2.7h-2.7zM175.5 928.2h2.7v2.7h-2.7zM226.1 928.2h2.7v2.7h-2.7zM185.1 933.0h2.7v2.7h-2.7zM216.4 933.0h2.7v2.7h-2.7zM192.4 935.4h5.1v2.7h-5.1zM206.8 935.4h5.1v2.7h-5.1z"/>
<path fill="#00ff00" d="M199.6 824.7h7.5v2.7h-7.5zM187.5 827.1h5.1v2.7h-5.1zM216.4 827.1h2.7v2.7h-2.7zM182.7 829.5h2.7v2.7h-2.7zM177.9 831.9h2.7v2.7h-2.7zM226.1 831.9h2.7v2.7h-2.7zM233.3 836.7h2.7v2.7h-2.7zM168.3 839.1h2.7v2.7h-2.7zM235.7 839.1h2.7v2.7h-2.7zM165.8 841.5h2.7v2.7h-2.7zM238.1 841.5h2.7v2.7h-2.7zM161.0 848.8h2.7v2.7h-2.7zM242.9 848.8h2.7v2.7h-2.7zM245.4 853.6h2.7v2.7h-2.7zM156.2 858.4h2.7v2.7h-2.7zM247.8 860.8h2.7v2.7h-2.7zM153.8 863.2h2.7v2.7h-2.7zM153.8 865.6h2.7v2.7h-2.7zM250.2 868.0h2.7v2.7h-2.7zM250.2 870.4h2.7v2.7h-2.7zM151.4 877.6h2.7v2.7h-2.7zM151.4 880.0h2.7v2.7h-2.7zM151.4 882.4h2.7v2.7h-2.7zM151.4 884.9h2.7v2.7h-2.7zM250.2 884.9h2.7v2.7h-2.7zM250.2 887.3h2.7v2.7h-2.7zM153.8 896.9h2.7v2.7h-2.7zM156.2 904.1h2.7v2.7h-2.7zM245.4 904.1h2.7v2.7h-2.7zM158.6 908.9h2.7v2.7h-2.7zM242.9 908.9h2.7v2.7h-2.7zM163.4 916.1h2.7v2.7h-2.7zM238.1 916.1h2.7v2.7h-2.7zM165.8 918.5h2.7v2.7h-2.7zM170.7 923.4h2.7v2.7h-2.7zM173.1 925.8h2.7v2.7h-2.7zM228.5 925.8h2.7v2.7h-2.7zM180.3 930.6h2.7v2.7h-2.7zM221.3 930.6h2.7v2.7h-2.7zM187.5 933.0h2.7v2.7h-2.7zM214.0 933.0h2.7v2.7h-2.7zM197.2 935.4h9.9v2.7h-9.9z"/>
<path fill="#15ff00" d="M192.4 827.1h2.7v2.7h-2.7zM211.6 827.1h5.1v2.7h-5.1zM185.1 829.5h2.7v2.7h-2.7zM221.3 829.5h2.7v2.7h-2.7zM180.3 831.9h2.7v2.7h-2.7zM175.5 834.3h2.7v2.7h-2.7zM228.5 834.3h2.7v2.7h-2.7zM173.1 836.7h2.7v2.7h-2.7zM165.8 844.0h2.7v2.7h-2.7zM238.1 844.0h2.7v2.7h-2.7zM163.4 846.4h2.7v2.7h-2.7zM240.5 846.4h2.7v2.7h-2.7zM242.9 851.2h2.7v2.7h-2.7zM158.6 853.6h2.7v2.7h-2.7zM245.4 856.0h2.7v2.7h-2.7zM247.8 863.2h2.7v2.7h-2.7zM153.8 868.0h2.7v2.7h-2.7zM250.2 872.8h2.7v2.7h-2.7zM250.2 875.2h2.7v2.7h-2.7zM250.2 877.6h2.7v2.7h-2.7zM250.2 880.0h2.7v2.7h-2.7zM250.2 882.4h2.7v2.7h-2.7zM153.8 892.1h2.7v2.7h-2.7zM153.8 894.5h2.7v2.7h-2.7zM247.8 894.5h2.7v2.7h-2.7zM247.8 896.9h2.7v2.7h-2.7zM156.2 901.7h2.7v2.7h-2.7zM245.4 901.7h2.7v2.7h-2.7zM158.6 906.5h2.7v2.7h-2.7zM161.0 911.3h2.7v2.7h-2.7zM240.5 911.3h2.7v2.7h-2.7zM235.7 918.5h2.7v2.7h-2.7zM168.3 920.9h2.7v2.7h-2.7zM233.3 920.9h2.7v2.7h-2.7zM230.9 923.4h2.7v2.7h-2.7zM177.9 928.2h2.7v2.7h-2.7zM223.7 928.2h2.7v2.7h-2.7zM182.7 930.6h2.7v2.7h-2.7zM218.9 930.6h2.7v2.7h-2.7zM189.9 933.0h2.7v2.7h-2.7zM211.6 933.0h2.7v2.7h-2.7z"/>
<path fill="#2aff00" d="M194.8 827.1h17.2v2.7h-17.2zM187.5 829.5h2.7v2.7h-2.7zM218.9 829.5h2.7v2.7h-2.7zM223.7 831.9h2.7v2.7h-2.7zM177.9 834.3h2.7v2.7h-2.7zM230.9 836.7h2.7v2.7h-2.7zM170.7 839.1h2.7v2.7h-2.7zM233.3 839.1h2.7v2.7h-2.7zM168.3 841.5h2.7v2.7h-2.7zM235.7 841.5h2.7v2.7h-2.7zM240.5 848.8h2.7v2.7h-2.7zM161.0 851.2h2.7v2.7h-2.7zM158.6 856.0h2.7v2.7h-2.7zM245.4 858.4h2.7v2.7h-2.7zM156.2 860.8h2.7v2.7h-2.7zM156.2 863.2h2.7v2.7h-2.7zM247.8 865.6h2.7v2.7h-2.7zM153.8 870.4h2.7v2.7h-2.7zM153.8 872.8h2.7v2.7h-2.7zM153.8 875.2h2.7v2.7h-2.7zM153.8 887.3h2.7v2.7h-2.7zM153.8 889.7h2.7v2.7h-2.7zM247.8 892.1h2.7v2.7h-2.7zM156.2 899.3h2.7v2.7h-2.7zM242.9 906.5h2.7v2.7h-2.7zM161.0 908.9h2.7v2.7h-2.7zM163.4 913.7h2.7v2.7h-2.7zM238.1 913.7h2.7v2.7h-2.7zM165.8 916.1h2.7v2.7h-2.7zM173.1 923.4h2.7v2.7h-2.7zM228.5 923.4h2.7v2.7h-2.7zM175.5 925.8h2.7v2.7h-2.7zM226.1 925.8h2.7v2.7h-2.7zM180.3 928.2h2.7v2.7h-2.7zM221.3 928.2h2.7v2.7h-2.7zM185.1 930.6h2.7v2.7h-2.7zM216.4 930.6h2.7v2.7h-2.7zM192.4 933.0h5.1v2.7h-5.1zM206.8 933.0h5.1v2.7h-5.1z"/>
<path fill="#40ff00" d="M189.9 829.5h2.7v2.7h-2.7zM214.0 829.5h5.1v2.7h-5.1zM182.7 831.9h2.7v2.7h-2.7zM221.3 831.9h2.7v2.7h-2.7zM226.1 834.3h2.7v2.7h-2.7zM175.5 836.7h2.7v2.7h-2.7zM228.5 836.7h2.7v2.7h-2.7zM173.1 839.1h2.7v2.7h-2.7zM165.8 846.4h2.7v2.7h-2.7zM238.1 846.4h2.7v2.7h-2.7zM163.4 848.8h2.7v2.7h-2.7zM161.0 853.6h2.7v2.7h-2.7zM242.9 853.6h2.7v2.7h-2.7zM158.6 858.4h2.7v2.7h-2.7zM245.4 860.8h2.7v2.7h-2.7zM156.2 865.6h2.7v2.7h-2.7zM247.8 868.0h2.7v2.7h-2.7zM247.8 870.4h2.7v2.7h-2.7zM153.8 877.6h2.7v2.7h-2.7zM153.8 880.0h2.7v2.7h-2.7zM153.8 882.4h2.7v2.7h-2.7zM153.8 884.9h2.7v2.7h-2.7zM247.8 887.3h2.7v2.7h-2.7zM247.8 889.7h2.7v2.7h-2.7zM156.2 896.9h2.7v2.7h-2.7zM245.4 899.3h2.7v2.7h-2.7zM158.6 904.1h2.7v2.7h-2.7zM242.9 904.1h2.7v2.7h-2.7zM240.5 908.9h2.7v2.7h-2.7zM163.4 911.3h2.7v2.7h-2.7zM235.7 916.1h2.7v2.7h-2.7zM168.3 918.5h2.7v2.7h-2.7zM233.3 918.5h2.7v2.7h-2.7zM170.7 920.9h2.7v2.7h-2.7zM230.9 920.9h2.7v2.7h-2.7zM177.9 925.8h2.7v2.7h-2.7zM223.7 925.8h2.7v2.7h-2.7zM182.7 928.2h2.7v2.7h-2.7zM187.5 930.6h2.7v2.7h-2.7zM214.0 930.6h2.7v2.7h-2.7zM197.2 933.0h9.9v2.7h-9.9z"/>
<path fill="#55ff00" d="M192.4 829.5h5.1v2.7h-5.1zM209.2 829.5h5.1v2.7h-5.1zM185.1 831.9h2.7v2.7h-2.7zM218.9 831.9h2.7v2.7h-2.7zM180.3 834.3h2.7v2.7h-2.7zM223.7 834.3h2.7v2.7h-2.7zM230.9 839.1h2.7v2.7h-2.7zM170.7 841.5h2.7v2.7h-2.7zM233.3 841.5h2.7v2.7h-2.7zM168.3 844.0h2.7v2.7h-2.7zM235.7 844.0h2.7v2.7h-2.7zM163.4 851.2h2.7v2.7h-2.7zM240.5 851.2h2.7v2.7h-2.7zM161.0 856.0h2.7v2.7h-2.7zM242.9 856.0h2.7v2.7h-2.7zM158.6 860.8h2.7v2.7h-2.7zM245.4 863.2h2.7v2.7h-2.7zM156.2 868.0h2.7v2.7h-2.7zM247.8 872.8h2.7v2.7h-2.7zM247.8 875.2h2.7v2.7h-2.7zM247.8 877.6h2.7v2.7h-2.7zM247.8 880.0h2.7v2.7h-2.7zM247.8 882.4h2.7v2.7h-2.7zM247.8 884.9h2.7v2.7h-2.7zM156.2 892.1h2.7v2.7h-2.7zM156.2 894.5h2.7v2.7h-2.7zM245.4 896.9h2.7v2.7h-2.7zM158.6 901.7h2.7v2.7h-2.7zM242.9 901.7h2.7v2.7h-2.7zM161.0 906.5h2.7v2.7h-2.7zM240.5 906.5h2.7v2.7h-2.7zM238.1 911.3h2.7v2.7h-2.7zM165.8 913.7h2.7v2.7h-2.7zM168.3 916.1h2.7v2.7h-2.7zM173.1 920.9h2.7v2.7h-2.7zM175.5 923.4h2.7v2.7h-2.7zM226.1 923.4h2.7v2.7h-2.7zM218.9 928.2h2.7v2.7h-2.7zM189.9 930.6h5.1v2.7h-5.1zM209.2 930.6h5.1v2.7h-5.1z"/>
<path fill="#6aff00" d="M197.2 829.5h12.3v2.7h-12.3zM187.5 831.9h2.7v2.7h-2.7zM216.4 831.9h2.7v2.7h-2.7zM182.7 834.3h2.7v2.7h-2.7zM221.3 834.3h2.7v2.7h-2.7zM177.9 836.7h2.7v2.7h-2.7zM226.1 836.7h2.7v2.7h-2.7zM175.5 839.1h2.7v2.7h-2.7zM228.5 839.1h2.7v2.7h-2.7zM168.3 846.4h2.7v2.7h-2.7zM235.7 846.4h2.7v2.7h-2.7zM165.8 848.8h2.7v2.7h-2.7zM238.1 848.8h2.7v2.7h-2.7zM240.5 853.6h2.7v2.7h-2.7zM242.9 858.4h2.7v2.7h-2.7zM158.6 863.2h2.7v2.7h-2.7zM245.4 865.6h2.7v2.7h-2.7zM156.2 870.4h2.7v2.7h-2.7zM156.2 872.8h2.7v2.7h-2.7zM156.2 875.2h2.7v2.7h-2.7zM156.2 877.6h2.7v2.7h-2.7zM156.2 884.9h2.7v2.7h-2.7zM156.2 887.3h2.7v2.7h-2.7zM156.2 889.7h2.7v2.7h-2.7zM245.4 892.1h2.7v2.7h-2.7zM245.4 894.5h2.7v2.7h-2.7zM158.6 899.3h2.7v2.7h-2.7zM161.0 904.1h2.7v2.7h-2.7zM163.4 908.9h2.7v2.7h-2.7zM235.7 913.7h2.7v2.7h-2.7zM233.3 916.1h2.7v2.7h-2.7zM170.7 918.5h2.7v2.7h-2.7zM230.9 918.5h2.7v2.7h-2.7zM228.5 920.9h2.7v2.7h-2.7zM177.9 923.4h2.7v2.7h-2.7zM180.3 925.8h2.7v2.7h-2.7zM221.3 925.8h2.7v2.7h-2.7zM185.1 928.2h5.1v2.7h-5.1zM216.4 928.2h2.7v2.7h-2.7zM194.8 930.6h14.8v2.7h-14.8z"/>
<path fill="#80ff00" d="M189.9 831.9h5.1v2.7h-5.1zM211.6 831.9h5.1v2.7h-5.1zM185.1 834.3h2.7v2.7h-2.7zM218.9 834.3h2.7v2.7h-2.7zM180.3 836.7h2.7v2.7h-2.7zM223.7 836.7h2.7v2.7h-2.7zM173.1 841.5h2.7v2.7h-2.7zM230.9 841.5h2.7v2.7h-2.7zM170.7 844.0h2.7v2.7h-2.7zM233.3 844.0h2.7v2.7h-2.7zM165.8 851.2h2.7v2.7h-2.7zM238.1 851.2h2.7v2.7h-2.7zM163.4 853.6h2.7v2.7h-2.7zM161.0 858.4h2.7v2.7h-2.7zM242.9 860.8h2.7v2.7h-2.7zM158.6 865.6h2.7v2.7h-2.7zM245.4 868.0h2.7v2.7h-2.7zM245.4 870.4h2.7v2.7h-2.7zM156.2 880.0h2.7v2.7h-2.7zM156.2 882.4h2.7v2.7h-2.7zM245.4 887.3h2.7v2.7h-2.7zM245.4 889.7h2.7v2.7h-2.7zM158.6 894.5h2.7v2.7h-2.7zM158.6 896.9h2.7v2.7h-2.7zM242.9 899.3h2.7v2.7h-2.7zM161.0 901.7h2.7v2.7h-2.7zM240.5 904.1h2.7v2.7h-2.7zM163.4 906.5h2.7v2.7h-2.7zM238.1 908.9h2.7v2.7h-2.7zM165.8 911.3h2.7v2.7h-2.7zM235.7 911.3h2.7v2.7h-2.7zM168.3 913.7h2.7v2.7h-2.7zM170.7 916.1h2.7v2.7h-2.7zM173.1 918.5h2.7v2.7h-2.7zM175.5 920.9h2.7v2.7h-2.7zM226.1 920.9h2.7v2.7h-2.7zM223.7 923.4h2.7v2.7h-2.7zM182.7 925.8h2.7v2.7h-2.7zM218.9 925.8h2.7v2.7h-2.7zM189.9 928.2h2.7v2.7h-2.7zM211.6 928.2h5.1v2.7h-5.1z"/>
<path fill="#95ff00" d="M194.8 831.9h7.5v2.7h-7.5zM204.4 831.9h7.5v2.7h-7.5zM187.5 834.3h2.7v2.7h-2.7zM216.4 834.3h2.7v2.7h-2.7zM182.7 836.7h2.7v2.7h-2.7zM177.9 839.1h2.7v2.7h-2.7zM226.1 839.1h2.7v2.7h-2.7zM175.5 841.5h2.7v2.7h-2.7zM228.5 841.5h2.7v2.7h-2.7zM173.1 844.0h2.7v2.7h-2.7zM170.7 846.4h2.7v2.7h-2.7zM233.3 846.4h2.7v2.7h-2.7zM168.3 848.8h2.7v2.7h-2.7zM235.7 848.8h2.7v2.7h-2.7zM163.4 856.0h2.7v2.7h-2.7zM240.5 856.0h2.7v2.7h-2.7zM161.0 860.8h2.7v2.7h-2.7zM242.9 863.2h2.7v2.7h-2.7zM158.6 868.0h2.7v2.7h-2.7zM158.6 870.4h2.7v2.7h-2.7zM245.4 872.8h2.7v2.7h-2.7zM245.4 875.2h2.7v2.7h-2.7zM245.4 877.6h2.7v2.7h-2.7zM245.4 880.0h2.7v2.7h-2.7zM245.4 882.4h2.7v2.7h-2.7zM245.4 884.9h2.7v2.7h-2.7zM158.6 889.7h2.7v2.7h-2.7zM158.6 892.1h2.7v2.7h-2.7zM242.9 894.5h2.7v2.7h-2.7zM242.9 896.9h2.7v2.7h-2.7zM161.0 899.3h2.7v2.7h-2.7zM240.5 901.7h2.7v2.7h-2.7zM163.4 904.1h2.7v2.7h-2.7zM238.1 906.5h2.7v2.7h-2.7zM165.8 908.9h2.7v2.7h-2.7zM233.3 913.7h2.7v2.7h-2.7zM230.9 916.1h2.7v2.7h-2.7zM228.5 918.5h2.7v2.7h-2.7zM180.3 923.4h2.7v2.7h-2.7zM221.3 923.4h2.7v2.7h-2.7zM185.1 925.8h2.7v2.7h-2.7zM216.4 925.8h2.7v2.7h-2.7zM192.4 928.2h5.1v2.7h-5.1zM206.8 928.2h5.1v2.7h-5.1z"/>
<path fill="#aaff00" d="M202.0 831.9h2.7v2.7h-2.7zM189.9 834.3h2.7v2.7h-2.7zM214.0 834.3h2.7v2.7h-2.7zM185.1 836.7h2.7v2.7h-2.7zM221.3 836.7h2.7v2.7h-2.7zM180.3 839.1h2.7v2.7h-2.7zM223.7 839.1h2.7v2.7h-2.7zM230.9 844.0h2.7v2.7h-2.7zM168.3 851.2h2.7v2.7h-2.7zM235.7 851.2h2.7v2.7h-2.7zM165.8 853.6h2.7v2.7h-2.7zM238.1 853.6h2.7v2.7h-2.7zM163.4 858.4h2.7v2.7h-2.7zM240.5 858.4h2.7v2.7h-2.7zM161.0 863.2h2.7v2.7h-2.7zM161.0 865.6h2.7v2.7h-2.7zM242.9 865.6h2.7v2.7h-2.7zM242.9 868.0h2.7v2.7h-2.7zM158.6 872.8h2.7v2.7h-2.7zM158.6 875.2h2.7v2.7h-2.7zM158.6 877.6h2.7v2.7h-2.7zM158.6 880.0h2.7v2.7h-2.7zM158.6 882.4h2.7v2.7h-2.7zM158.6 884.9h2.7v2.7h-2.7zM158.6 887.3h2.7v2.7h-2.7zM242.9 892.1h2.7v2.7h-2.7zM161.0 896.9h2.7v2.7h-2.7zM240.5 899.3h2.7v2.7h-2.7zM163.4 901.7h2.7v2.7h-2.7zM238.1 904.1h2.7v2.7h-2.7zM165.8 906.5h2.7v2.7h-2.7zM235.7 908.9h2.7v2.7h-2.7zM168.3 911.3h2.7v2.7h-2.7zM233.3 911.3h2.7v2.7h-2.7zM170.7 913.7h2.7v2.7h-2.7zM173.1 916.1h2.7v2.7h-2.7zM175.5 918.5h2.7v2.7h-2.7zM226.1 918.5h2.7v2.7h-2.7zM177.9 920.9h2.7v2.7h-2.7zM223.7 920.9h2.7v2.7h-2.7zM182.7 923.4h2.7v2.7h-2.7zM218.9 923.4h2.7v2.7h-2.7zM187.5 925.8h2.7v2.7h-2.7zM214.0 925.8h2.7v2.7h-2.7zM197.2 928.2h9.9v2.7h-9.9z"/>
<path fill="#bfff00" d="M192.4 834.3h7.5v2.7h-7.5zM206.8 834.3h7.5v2.7h-7.5zM187.5 836.7h2.7v2.7h-2.7zM216.4 836.7h5.1v2.7h-5.1zM182.7 839.1h2.7v2.7h-2.7zM221.3 839.1h2.7v2.7h-2.7zM177.9 841.5h2.7v2.7h-2.7zM226.1 841.5h2.7v2.7h-2.7zM175.5 844.0h2.7v2.7h-2.7zM228.5 844.0h2.7v2.7h-2.7zM173.1 846.4h2.7v2.7h-2.7zM230.9 846.4h2.7v2.7h-2.7zM170.7 848.8h2.7v2.7h-2.7zM233.3 848.8h2.7v2.7h-2.7zM165.8 856.0h2.7v2.7h-2.7zM238.1 856.0h2.7v2.7h-2.7zM163.4 860.8h2.7v2.7h-2.7zM240.5 860.8h2.7v2.7h-2.7zM240.5 863.2h2.7v2.7h-2.7zM161.0 868.0h2.7v2.7h-2.7zM242.9 870.4h2.7v2.7h-2.7zM242.9 872.8h2.7v2.7h-2.7zM242.9 875.2h2.7v2.7h-2.7zM242.9 884.9h2.7v2.7h-2.7zM242.9 887.3h2.7v2.7h-2.7zM242.9 889.7h2.7v2.7h-2.7zM161.0 892.1h2.7v2.7h-2.7zM161.0 894.5h2.7v2.7h-2.7zM240.5 896.9h2.7v2.7h-2.7zM163.4 899.3h2.7v2.7h-2.7zM238.1 901.7h2.7v2.7h-2.7zM235.7 906.5h2.7v2.7h-2.7zM168.3 908.9h2.7v2.7h-2.7zM170.7 911.3h2.7v2.7h-2.7zM230.9 913.7h2.7v2.7h-2.7zM228.5 916.1h2.7v2.7h-2.7zM177.9 918.5h2.7v2.7h-2.7zM180.3 920.9h2.7v2.7h-2.7zM221.3 920.9h2.7v2.7h-2.7zM185.1 923.4h2.7v2.7h-2.7zM216.4 923.4h2.7v2.7h-2.7zM189.9 925.8h5.1v2.7h-5.1zM209.2 925.8h5.1v2.7h-5.1z"/>
<path fill="#d5ff00" d="M199.6 834.3h7.5v2.7h-7.5zM189.9 836.7h2.7v2.7h-2.7zM214.0 836.7h2.7v2.7h-2.7zM185.1 839.1h2.7v2.7h-2.7zM218.9 839.1h2.7v2.7h-2.7zM180.3 841.5h2.7v2.7h-2.7zM223.7 841.5h2.7v2.7h-2.7zM177.9 844.0h2.7v2.7h-2.7zM170.7 851.2h2.7v2.7h-2.7zM233.3 851.2h2.7v2.7h-2.7zM168.3 853.6h2.7v2.7h-2.7zM235.7 853.6h2.7v2.7h-2.7zM165.8 858.4h2.7v2.7h-2.7zM238.1 858.4h2.7v2.7h-2.7zM163.4 863.2h2.7v2.7h-2.7zM240.5 865.6h2.7v2.7h-2.7zM161.0 870.4h2.7v2.7h-2.7zM161.0 872.8h2.7v2.7h-2.7zM161.0 875.2h2.7v2.7h-2.7zM161.0 877.6h2.7v2.7h-2.7zM242.9 877.6h2.7v2.7h-2.7zM161.0 880.0h2.7v2.7h-2.7zM242.9 880.0h2.7v2.7h-2.7zM161.0 882.4h2.7v2.7h-2.7zM242.9 882.4h2.7v2.7h-2.7zM161.0 884.9h2.7v2.7h-2.7zM161.0 887.3h2.7v2.7h-2.7zM161.0 889.7h2.7v2.7h-2.7zM240.5 892.1h2.7v2.7h-2.7zM240.5 894.5h2.7v2.7h-2.7zM163.4 896.9h2.7v2.7h-2.7zM238.1 899.3h2.7v2.7h-2.7zM165.8 904.1h2.7v2.7h-2.7zM235.7 904.1h2.7v2.7h-2.7zM168.3 906.5h2.7v2.7h-2.7zM233.3 908.9h2.7v2.7h-2.7zM230.9 911.3h2.7v2.7h-2.7zM173.1 913.7h2.7v2.7h-2.7zM228.5 913.7h2.7v2.7h-2.7zM175.5 916.1h2.7v2.7h-2.7zM226.1 916.1h2.7v2.7h-2.7zM223.7 918.5h2.7v2.7h-2.7zM182.7 920.9h2.7v2.7h-2.7zM218.9 920.9h2.7v2.7h-2.7zM187.5 923.4h2.7v2.7h-2.7zM214.0 923.4h2.7v2.7h-2.7zM194.8 925.8h14.8v2.7h-14.8z"/>
<path fill="#eaff00" d="M192.4 836.7h7.5v2.7h-7.5zM206.8 836.7h7.5v2.7h-7.5zM187.5 839.1h2.7v2.7h-2.7zM216.4 839.1h2.7v2.7h-2.7zM182.7 841.5h2.7v2.7h-2.7zM221.3 841.5h2.7v2.7h-2.7zM226.1 844.0h2.7v2.7h-2.7zM175.5 846.4h2.7v2.7h-2.7zM228.5 846.4h2.7v2.7h-2.7zM173.1 848.8h2.7v2.7h-2.7zM230.9 848.8h2.7v2.7h-2.7zM170.7 853.6h2.7v2.7h-2.7zM233.3 853.6h2.7v2.7h-2.7zM168.3 856.0h2.7v2.7h-2.7zM235.7 856.0h2.7v2.7h-2.7zM165.8 860.8h2.7v2.7h-2.7zM238.1 860.8h2.7v2.7h-2.7zM163.4 865.6h2.7v2.7h-2.7zM163.4 868.0h2.7v2.7h-2.7zM240.5 868.0h2.7v2.7h-2.7zM240.5 870.4h2.7v2.7h-2.7zM240.5 887.3h2.7v2.7h-2.7zM240.5 889.7h2.7v2.7h-2.7zM163.4 892.1h2.7v2.7h-2.7zM163.4 894.5h2.7v2.7h-2.7zM238.1 896.9h2.7v2.7h-2.7zM165.8 899.3h2.7v2.7h-2.7zM165.8 901.7h2.7v2.7h-2.7zM235.7 901.7h2.7v2.7h-2.7zM168.3 904.1h2.7v2.7h-2.7zM233.3 906.5h2.7v2.7h-2.7zM170.7 908.9h2.7v2.7h-2.7zM173.1 911.3h2.7v2.7h-2.7zM175.5 913.7h2.7v2.7h-2.7zM177.9 916.1h2.7v2.7h-2.7zM180.3 918.5h2.7v2.7h-2.7zM221.3 918.5h2.7v2.7h-2.7zM185.1 920.9h2.7v2.7h-2.7zM216.4 920.9h2.7v2.7h-2.7zM189.9 923.4h5.1v2.7h-5.1zM209.2 923.4h5.1v2.7h-5.1z"/>
<path fill="#ffff00" d="M199.6 836.7h7.5v2.7h-7.5zM189.9 839.1h5.1v2.7h-5.1zM214.0 839.1h2.7v2.7h-2.7zM185.1 841.5h2.7v2.7h-2.7zM218.9 841.5h2.7v2.7h-2.7zM180.3 844.0h2.7v2.7h-2.7zM223.7 844.0h2.7v2.7h-2.7zM177.9 846.4h2.7v2.7h-2.7zM226.1 846.4h2.7v2.7h-2.7zM175.5 848.8h2.7v2.7h-2.7zM228.5 848.8h2.7v2.7h-2.7zM173.1 851.2h2.7v2.7h-2.7zM230.9 851.2h2.7v2.7h-2.7zM168.3 858.4h2.7v2.7h-2.7zM235.7 858.4h2.7v2.7h-2.7zM165.8 863.2h2.7v2.7h-2.7zM238.1 863.2h2.7v2.7h-2.7zM238.1 865.6h2.7v2.7h-2.7zM163.4 870.4h2.7v2.7h-2.7zM163.4 872.8h2.7v2.7h-2.7zM240.5 872.8h2.7v2.7h-2.7zM163.4 875.2h2.7v2.7h-2.7zM240.5 875.2h2.7v2.7h-2.7zM240.5 877.6h2.7v2.7h-2.7zM240.5 880.0h2.7v2.7h-2.7zM240.5 882.4h2.7v2.7h-2.7zM163.4 884.9h2.7v2.7h-2.7zM240.5 884.9h2.7v2.7h-2.7zM163.4 887.3h2.7v2.7h-2.7zM163.4 889.7h2.7v2.7h-2.7zM238.1 894.5h2.7v2.7h-2.7zM165.8 896.9h2.7v2.7h-2.7zM235.7 899.3h2.7v2.7h-2.7zM168.3 901.7h2.7v2.7h-2.7zM233.3 904.1h2.7v2.7h-2.7zM170.7 906.5h2.7v2.7h-2.7zM173.1 908.9h2.7v2.7h-2.7zM230.9 908.9h2.7v2.7h-2.7zM228.5 911.3h2.7v2.7h-2.7zM226.1 913.7h2.7v2.7h-2.7zM180.3 916.1h2.7v2.7h-2.7zM223.7 916.1h2.7v2.7h-2.7zM182.7 918.5h2.7v2.7h-2.7zM218.9 918.5h2.7v2.7h-2.7zM187.5 920.9h5.1v2.7h-5.1zM214.0 920.9h2.7v2.7h-2.7zM194.8 923.4h14.8v2.7h-14.8z"/>
<path fill="#ffea00" d="M194.8 839.1h7.5v2.7h-7.5zM204.4 839.1h9.9v2.7h-9.9zM187.5 841.5h2.7v2.7h-2.7zM216.4 841.5h2.7v2.7h-2.7zM182.7 844.0h2.7v2.7h-2.7zM221.3 844.0h2.7v2.7h-2.7zM180.3 846.4h2.7v2.7h-2.7zM223.7 846.4h2.7v2.7h-2.7zM177.9 848.8h2.7v2.7h-2.7zM175.5 851.2h2.7v2.7h-2.7zM228.5 851.2h2.7v2.7h-2.7zM173.1 853.6h2.7v2.7h-2.7zM230.9 853.6h2.7v2.7h-2.7zM170.7 856.0h2.7v2.7h-2.7zM233.3 856.0h2.7v2.7h-2.7zM168.3 860.8h2.7v2.7h-2.7zM235.7 860.8h2.7v2.7h-2.7zM165.8 865.6h2.7v2.7h-2.7zM165.8 868.0h2.7v2.7h-2.7zM238.1 868.0h2.7v2.7h-2.7zM238.1 870.4h2.7v2.7h-2.7zM163.4 877.6h2.7v2.7h-2.7zM163.4 880.0h2.7v2.7h-2.7zM163.4 882.4h2.7v2.7h-2.7zM238.1 889.7h2.7v2.7h-2.7zM165.8 892.1h2.7v2.7h-2.7zM238.1 892.1h2.7v2.7h-2.7zM165.8 894.5h2.7v2.7h-2.7zM235.7 896.9h2.7v2.7h-2.7zM168.3 899.3h2.7v2.7h-2.7zM233.3 901.7h2.7v2.7h-2.7zM170.7 904.1h2.7v2.7h-2.7zM230.9 906.5h2.7v2.7h-2.7zM228.5 908.9h2.7v2.7h-2.7zM175.5 911.3h2.7v2.7h-2.7zM226.1 911.3h2.7v2.7h-2.7zM177.9 913.7h2.7v2.7h-2.7zM223.7 913.7h2.7v2.7h-2.7zM182.7 916.1h2.7v2.7h-2.7zM221.3 916.1h2.7v2.7h-2.7zM185.1 918.5h5.1v2.7h-5.1zM216.4 918.5h2.7v2.7h-2.7zM192.4 920.9h5.1v2.7h-5.1zM209.2 920.9h5.1v2.7h-5.1z"/>
<path fill="#ffd500" d="M202.0 839.1h2.7v2.7h-2.7zM189.9 841.5h5.1v2.7h-5.1zM211.6 841.5h5.1v2.7h-5.1zM185.1 844.0h2.7v2.7h-2.7zM218.9 844.0h2.7v2.7h-2.7zM182.7 846.4h2.7v2.7h-2.7zM221.3 846.4h2.7v2.7h-2.7zM226.1 848.8h2.7v2.7h-2.7zM173.1 856.0h2.7v2.7h-2.7zM230.9 856.0h2.7v2.7h-2.7zM170.7 858.4h2.7v2.7h-2.7zM233.3 858.4h2.7v2.7h-2.7zM168.3 863.2h2.7v2.7h-2.7zM235.7 863.2h2.7v2.7h-2.7zM168.3 865.6h2.7v2.7h-2.7zM235.7 865.6h2.7v2.7h-2.7zM165.8 870.4h2.7v2.7h-2.7zM165.8 872.8h2.7v2.7h-2.7zM238.1 872.8h2.7v2.7h-2.7zM165.8 875.2h2.7v2.7h-2.7zM238.1 875.2h2.7v2.7h-2.7zM238.1 877.6h2.7v2.7h-2.7zM238.1 880.0h2.7v2.7h-2.7zM238.1 882.4h2.7v2.7h-2.7zM165.8 884.9h2.7v2.7h-2.7zM238.1 884.9h2.7v2.7h-2.7zM165.8 887.3h2.7v2.7h-2.7zM238.1 887.3h2.7v2.7h-2.7zM165.8 889.7h2.7v2.7h-2.7zM235.7 894.5h2.7v2.7h-2.7zM168.3 896.9h2.7v2.7h-2.7zM233.3 899.3h2.7v2.7h-2.7zM170.7 901.7h2.7v2.7h-2.7zM230.9 904.1h2.7v2.7h-2.7zM173.1 906.5h2.7v2.7h-2.7zM228.5 906.5h2.7v2.7h-2.7zM175.5 908.9h2.7v2.7h-2.7zM177.9 911.3h2.7v2.7h-2.7zM180.3 913.7h2.7v2.7h-2.7zM221.3 913.7h2.7v2.7h-2.7zM185.1 916.1h2.7v2.7h-2.7zM218.9 916.1h2.7v2.7h-2.7zM189.9 918.5h2.7v2.7h-2.7zM211.6 918.5h5.1v2.7h-5.1zM197.2 920.9h12.3v2.7h-12.3z"/>
<path fill="#ffbf00" d="M194.8 841.5h17.2v2.7h-17.2zM187.5 844.0h5.1v2.7h-5.1zM214.0 844.0h5.1v2.7h-5.1zM185.1 846.4h2.7v2.7h-2.7zM218.9 846.4h2.7v2.7h-2.7zM180.3 848.8h2.7v2.7h-2.7zM223.7 848.8h2.7v2.7h-2.7zM177.9 851.2h2.7v2.7h-2.7zM226.1 851.2h2.7v2.7h-2.7zM175.5 853.6h2.7v2.7h-2.7zM228.5 853.6h2.7v2.7h-2.7zM173.1 858.4h2.7v2.7h-2.7zM230.9 858.4h2.7v2.7h-2.7zM170.7 860.8h2.7v2.7h-2.7zM233.3 860.8h2.7v2.7h-2.7zM170.7 863.2h2.7v2.7h-2.7zM233.3 863.2h2.7v2.7h-2.7zM168.3 868.0h2.7v2.7h-2.7zM235.7 868.0h2.7v2.7h-2.7zM235.7 870.4h2.7v2.7h-2.7zM165.8 877.6h2.7v2.7h-2.7zM165.8 880.0h2.7v2.7h-2.7zM165.8 882.4h2.7v2.7h-2.7zM235.7 889.7h2.7v2.7h-2.7zM168.3 892.1h2.7v2.7h-2.7zM235.7 892.1h2.7v2.7h-2.7zM168.3 894.5h2.7v2.7h-2.7zM233.3 896.9h2.7v2.7h-2.7zM170.7 899.3h2.7v2.7h-2.7zM230.9 901.7h2.7v2.7h-2.7zM173.1 904.1h2.7v2.7h-2.7zM175.5 906.5h2.7v2.7h-2.7zM177.9 908.9h2.7v2.7h-2.7zM226.1 908.9h2.7v2.7h-2.7zM180.3 911.3h2.7v2.7h-2.7zM223.7 911.3h2.7v2.7h-2.7zM182.7 913.7h2.7v2.7h-2.7zM218.9 913.7h2.7v2.7h-2.7zM187.5 916.1h2.7v2.7h-2.7zM216.4 916.1h2.7v2.7h-2.7zM192.4 918.5h7.5v2.7h-7.5zM206.8 918.5h5.1v2.7h-5.1z"/>
<path fill="#ffaa00" d="M192.4 844.0h7.5v2.7h-7.5zM209.2 844.0h5.1v2.7h-5.1zM187.5 846.4h2.7v2.7h-2.7zM216.4 846.4h2.7v2.7h-2.7zM182.7 848.8h5.1v2.7h-5.1zM221.3 848.8h2.7v2.7h-2.7zM180.3 851.2h2.7v2.7h-2.7zM223.7 851.2h2.7v2.7h-2.7zM177.9 853.6h2.7v2.7h-2.7zM226.1 853.6h2.7v2.7h-2.7zM175.5 856.0h2.7v2.7h-2.7zM228.5 856.0h2.7v2.7h-2.7zM173.1 860.8h2.7v2.7h-2.7zM230.9 860.8h2.7v2.7h-2.7zM170.7 865.6h2.7v2.7h-2.7zM233.3 865.6h2.7v2.7h-2.7zM233.3 868.0h2.7v2.7h-2.7zM168.3 870.4h2.7v2.7h-2.7zM168.3 872.8h2.7v2.7h-2.7zM235.7 872.8h2.7v2.7h-2.7zM168.3 875.2h2.7v2.7h-2.7zM235.7 875.2h2.7v2.7h-2.7zM168.3 877.6h2.7v2.7h-2.7zM235.7 877.6h2.7v2.7h-2.7zM168.3 880.0h2.7v2.7h-2.7zM235.7 880.0h2.7v2.7h-2.7zM168.3 882.4h2.7v2.7h-2.7zM235.7 882.4h2.7v2.7h-2.7zM168.3 884.9h2.7v2.7h-2.7zM235.7 884.9h2.7v2.7h-2.7zM168.3 887.3h2.7v2.7h-2.7zM235.7 887.3h2.7v2.7h-2.7zM168.3 889.7h2.7v2.7h-2.7zM233.3 892.1h2.7v2.7h-2.7zM170.7 894.5h2.7v2.7h-2.7zM233.3 894.5h2.7v2.7h-2.7zM170.7 896.9h2.7v2.7h-2.7zM173.1 899.3h2.7v2.7h-2.7zM230.9 899.3h2.7v2.7h-2.7zM173.1 901.7h2.7v2.7h-2.7zM228.5 901.7h2.7v2.7h-2.7zM175.5 904.1h2.7v2.7h-2.7zM228.5 904.1h2.7v2.7h-2.7zM177.9 906.5h2.7v2.7h-2.7zM226.1 906.5h2.7v2.7h-2.7zM180.3 908.9h2.7v2.7h-2.7zM223.7 908.9h2.7v2.7h-2.7zM182.7 911.3h2.7v2.7h-2.7zM221.3 911.3h2.7v2.7h-2.7zM185.1 913.7h5.1v2.7h-5.1zM216.4 913.7h2.7v2.7h-2.7zM189.9 916.1h5.1v2.7h-5.1zM209.2 916.1h7.5v2.7h-7.5zM199.6 918.5h7.5v2.7h-7.5z"/>
<path fill="#ff9500" d="M199.6 844.0h9.9v2.7h-9.9zM189.9 846.4h7.5v2.7h-7.5zM209.2 846.4h7.5v2.7h-7.5zM187.5 848.8h2.7v2.7h-2.7zM216.4 848.8h5.1v2.7h-5.1zM182.7 851.2h2.7v2.7h-2.7zM221.3 851.2h2.7v2.7h-2.7zM180.3 853.6h2.7v2.7h-2.7zM223.7 853.6h2.7v2.7h-2.7zM177.9 856.0h2.7v2.7h-2.7zM226.1 856.0h2.7v2.7h-2.7zM175.5 858.4h2.7v2.7h-2.7zM228.5 858.4h2.7v2.7h-2.7zM175.5 860.8h2.7v2.7h-2.7zM228.5 860.8h2.7v2.7h-2.7zM173.1 863.2h2.7v2.7h-2.7zM230.9 863.2h2.7v2.7h-2.7zM173.1 865.6h2.7v2.7h-2.7zM230.9 865.6h2.7v2.7h-2.7zM170.7 868.0h2.7v2.7h-2.7zM170.7 870.4h2.7v2.7h-2.7zM233.3 870.4h2.7v2.7h-2.7zM170.7 872.8h2.7v2.7h-2.7zM233.3 872.8h2.7v2.7h-2.7zM170.7 875.2h2.7v2.7h-2.7zM233.3 875.2h2.7v2.7h-2.7zM233.3 877.6h2.7v2.7h-2.7zM233.3 880.0h2.7v2.7h-2.7zM233.3 882.4h2.7v2.7h-2.7zM233.3 884.9h2.7v2.7h-2.7zM170.7 887.3h2.7v2.7h-2.7zM233.3 887.3h2.7v2.7h-2.7zM170.7 889.7h2.7v2.7h-2.7zM233.3 889.7h2.7v2.7h-2.7zM170.7 892.1h2.7v2.7h-2.7zM230.9 894.5h2.7v2.7h-2.7zM173.1 896.9h2.7v2.7h-2.7zM230.9 896.9h2.7v2.7h-2.7zM228.5 899.3h2.7v2.7h-2.7zM175.5 901.7h2.7v2.7h-2.7zM177.9 904.1h2.7v2.7h-2.7zM226.1 904.1h2.7v2.7h-2.7zM180.3 906.5h2.7v2.7h-2.7zM223.7 906.5h2.7v2.7h-2.7zM182.7 908.9h2.7v2.7h-2.7zM221.3 908.9h2.7v2.7h-2.7zM185.1 911.3h2.7v2.7h-2.7zM216.4 911.3h5.1v2.7h-5.1zM189.9 913.7h5.1v2.7h-5.1zM211.6 913.7h5.1v2.7h-5.1zM194.8 916.1h14.8v2.7h-14.8z"/>
<path fill="#ff8000" d="M197.2 846.4h12.3v2.7h-12.3zM189.9 848.8h5.1v2.7h-5.1zM211.6 848.8h5.1v2.7h-5.1zM185.1 851.2h5.1v2.7h-5.1zM216.4 851.2h5.1v2.7h-5.1zM182.7 853.6h2.7v2.7h-2.7zM221.3 853.6h2.7v2.7h-2.7zM180.3 856.0h2.7v2.7h-2.7zM223.7 856.0h2.7v2.7h-2.7zM177.9 858.4h2.7v2.7h-2.7zM226.1 858.4h2.7v2.7h-2.7zM177.9 860.8h2.7v2.7h-2.7zM226.1 860.8h2.7v2.7h-2.7zM175.5 863.2h2.7v2.7h-2.7zM228.5 863.2h2.7v2.7h-2.7zM175.5 865.6h2.7v2.7h-2.7zM228.5 865.6h2.7v2.7h-2.7zM173.1 868.0h2.7v2.7h-2.7zM230.9 868.0h2.7v2.7h-2.7zM173.1 870.4h2.7v2.7h-2.7zM230.9 870.4h2.7v2.7h-2.7zM173.1 872.8h2.7v2.7h-2.7zM230.9 872.8h2.7v2.7h-2.7zM170.7 877.6h2.7v2.7h-2.7zM170.7 880.0h2.7v2.7h-2.7zM170.7 882.4h2.7v2.7h-2.7zM170.7 884.9h2.7v2.7h-2.7zM230.9 887.3h2.7v2.7h-2.7zM173.1 889.7h2.7v2.7h-2.7zM230.9 889.7h2.7v2.7h-2.7zM173.1 892.1h2.7v2.7h-2.7zM230.9 892.1h2.7v2.7h-2.7zM173.1 894.5h2.7v2.7h-2.7zM228.5 894.5h2.7v2.7h-2.7zM175.5 896.9h2.7v2.7h-2.7zM228.5 896.9h2.7v2.7h-2.7zM175.5 899.3h2.7v2.7h-2.7zM226.1 899.3h2.7v2.7h-2.7zM177.9 901.7h2.7v2.7h-2.7zM226.1 901.7h2.7v2.7h-2.7zM180.3 904.1h2.7v2.7h-2.7zM223.7 904.1h2.7v2.7h-2.7zM182.7 906.5h2.7v2.7h-2.7zM221.3 906.5h2.7v2.7h-2.7zM185.1 908.9h2.7v2.7h-2.7zM216.4 908.9h5.1v2.7h-5.1zM187.5 911.3h5.1v2.7h-5.1zM211.6 911.3h5.1v2.7h-5.1zM194.8 913.7h17.2v2.7h-17.2z"/>
<path fill="#ff6a00" d="M194.8 848.8h17.2v2.7h-17.2zM189.9 851.2h5.1v2.7h-5.1zM211.6 851.2h5.1v2.7h-5.1zM185.1 853.6h5.1v2.7h-5.1zM216.4 853.6h5.1v2.7h-5.1zM182.7 856.0h5.1v2.7h-5.1zM218.9 856.0h5.1v2.7h-5.1zM180.3 858.4h5.1v2.7h-5.1zM221.3 858.4h5.1v2.7h-5.1zM180.3 860.8h2.7v2.7h-2.7zM223.7 860.8h2.7v2.7h-2.7zM177.9 863.2h2.7v2.7h-2.7zM226.1 863.2h2.7v2.7h-2.7zM175.5 868.0h2.7v2.7h-2.7zM228.5 868.0h2.7v2.7h-2.7zM175.5 870.4h2.7v2.7h-2.7zM228.5 870.4h2.7v2.7h-2.7zM173.1 875.2h2.7v2.7h-2.7zM230.9 875.2h2.7v2.7h-2.7zM173.1 877.6h2.7v2.7h-2.7zM230.9 877.6h2.7v2.7h-2.7zM173.1 880.0h2.7v2.7h-2.7zM230.9 880.0h2.7v2.7h-2.7zM173.1 882.4h2.7v2.7h-2.7zM230.9 882.4h2.7v2.7h-2.7zM173.1 884.9h2.7v2.7h-2.7zM230.9 884.9h2.7v2.7h-2.7zM173.1 887.3h2.7v2.7h-2.7zM175.5 889.7h2.7v2.7h-2.7zM228.5 889.7h2.7v2.7h-2.7zM175.5 892.1h2.7v2.7h-2.7zM228.5 892.1h2.7v2.7h-2.7zM175.5 894.5h2.7v2.7h-2.7zM226.1 894.5h2.7v2.7h-2.7zM177.9 896.9h2.7v2.7h-2.7zM226.1 896.9h2.7v2.7h-2.7zM177.9 899.3h2.7v2.7h-2.7zM223.7 899.3h2.7v2.7h-2.7zM180.3 901.7h2.7v2.7h-2.7zM223.7 901.7h2.7v2.7h-2.7zM182.7 904.1h2.7v2.7h-2.7zM221.3 904.1h2.7v2.7h-2.7zM185.1 906.5h2.7v2.7h-2.7zM216.4 906.5h5.1v2.7h-5.1zM187.5 908.9h5.1v2.7h-5.1zM211.6 908.9h5.1v2.7h-5.1zM192.4 911.3h19.6v2.7h-19.6z"/>
<path fill="#ff5500" d="M194.8 851.2h17.2v2.7h-17.2zM189.9 853.6h5.1v2.7h-5.1zM211.6 853.6h5.1v2.7h-5.1zM187.5 856.0h2.7v2.7h-2.7zM216.4 856.0h2.7v2.7h-2.7zM185.1 858.4h2.7v2.7h-2.7zM218.9 858.4h2.7v2.7h-2.7zM182.7 860.8h2.7v2.7h-2.7zM221.3 860.8h2.7v2.7h-2.7zM180.3 863.2h2.7v2.7h-2.7zM223.7 863.2h2.7v2.7h-2.7zM177.9 865.6h5.1v2.7h-5.1zM223.7 865.6h5.1v2.7h-5.1zM177.9 868.0h2.7v2.7h-2.7zM226.1 868.0h2.7v2.7h-2.7zM177.9 870.4h2.7v2.7h-2.7zM226.1 870.4h2.7v2.7h-2.7zM175.5 872.8h2.7v2.7h-2.7zM228.5 872.8h2.7v2.7h-2.7zM175.5 875.2h2.7v2.7h-2.7zM228.5 875.2h2.7v2.7h-2.7zM175.5 877.6h2.7v2.7h-2.7zM228.5 877.6h2.7v2.7h-2.7zM175.5 880.0h2.7v2.7h-2.7zM228.5 880.0h2.7v2.7h-2.7zM175.5 882.4h2.7v2.7h-2.7zM228.5 882.4h2.7v2.7h-2.7zM175.5 884.9h2.7v2.7h-2.7zM228.5 884.9h2.7v2.7h-2.7zM175.5 887.3h2.7v2.7h-2.7zM228.5 887.3h2.7v2.7h-2.7zM226.1 889.7h2.7v2.7h-2.7zM177.9 892.1h2.7v2.7h-2.7zM226.1 892.1h2.7v2.7h-2.7zM177.9 894.5h2.7v2.7h-2.7zM223.7 894.5h2.7v2.7h-2.7zM180.3 896.9h2.7v2.7h-2.7zM223.7 896.9h2.7v2.7h-2.7zM180.3 899.3h5.1v2.7h-5.1zM221.3 899.3h2.7v2.7h-2.7zM182.7 901.7h5.1v2.7h-5.1zM218.9 901.7h5.1v2.7h-5.1zM185.1 904.1h5.1v2.7h-5.1zM216.4 904.1h5.1v2.7h-5.1zM187.5 906.5h7.5v2.7h-7.5zM211.6 906.5h5.1v2.7h-5.1zM192.4 908.9h19.6v2.7h-19.6z"/>
<path fill="#ff4000" d="M194.8 853.6h17.2v2.7h-17.2zM189.9 856.0h7.5v2.7h-7.5zM209.2 856.0h7.5v2.7h-7.5zM187.5 858.4h5.1v2.7h-5.1zM214.0 858.4h5.1v2.7h-5.1zM185.1 860.8h2.7v2.7h-2.7zM218.9 860.8h2.7v2.7h-2.7zM182.7 863.2h2.7v2.7h-2.7zM221.3 863.2h2.7v2.7h-2.7zM182.7 865.6h2.7v2.7h-2.7zM221.3 865.6h2.7v2.7h-2.7zM180.3 868.0h2.7v2.7h-2.7zM223.7 868.0h2.7v2.7h-2.7zM180.3 870.4h2.7v2.7h-2.7zM223.7 870.4h2.7v2.7h-2.7zM177.9 872.8h2.7v2.7h-2.7zM226.1 872.8h2.7v2.7h-2.7zM177.9 875.2h2.7v2.7h-2.7zM226.1 875.2h2.7v2.7h-2.7zM177.9 877.6h2.7v2.7h-2.7zM226.1 877.6h2.7v2.7h-2.7zM177.9 880.0h2.7v2.7h-2.7zM226.1 880.0h2.7v2.7h-2.7zM177.9 882.4h2.7v2.7h-2.7zM226.1 882.4h2.7v2.7h-2.7zM177.9 884.9h2.7v2.7h-2.7zM226.1 884.9h2.7v2.7h-2.7zM177.9 887.3h2.7v2.7h-2.7zM226.1 887.3h2.7v2.7h-2.7zM177.9 889.7h5.1v2.7h-5.1zM223.7 889.7h2.7v2.7h-2.7zM180.3 892.1h2.7v2.7h-2.7zM223.7 892.1h2.7v2.7h-2.7zM180.3 894.5h2.7v2.7h-2.7zM221.3 894.5h2.7v2.7h-2.7zM182.7 896.9h2.7v2.7h-2.7zM221.3 896.9h2.7v2.7h-2.7zM185.1 899.3h2.7v2.7h-2.7zM218.9 899.3h2.7v2.7h-2.7zM187.5 901.7h2.7v2.7h-2.7zM216.4 901.7h2.7v2.7h-2.7zM189.9 904.1h5.1v2.7h-5.1zM211.6 904.1h5.1v2.7h-5.1zM194.8 906.5h17.2v2.7h-17.2z"/>
<path fill="#ff2a00" d="M197.2 856.0h12.3v2.7h-12.3zM192.4 858.4h22.0v2.7h-22.0zM187.5 860.8h7.5v2.7h-7.5zM211.6 860.8h7.5v2.7h-7.5zM185.1 863.2h7.5v2.7h-7.5zM214.0 863.2h7.5v2.7h-7.5zM185.1 865.6h5.1v2.7h-5.1zM216.4 865.6h5.1v2.7h-5.1zM182.7 868.0h5.1v2.7h-5.1zM218.9 868.0h5.1v2.7h-5.1zM182.7 870.4h2.7v2.7h-2.7zM221.3 870.4h2.7v2.7h-2.7zM180.3 872.8h5.1v2.7h-5.1zM221.3 872.8h5.1v2.7h-5.1zM180.3 875.2h5.1v2.7h-5.1zM221.3 875.2h5.1v2.7h-5.1zM180.3 877.6h2.7v2.7h-2.7zM223.7 877.6h2.7v2.7h-2.7zM180.3 880.0h2.7v2.7h-2.7zM223.7 880.0h2.7v2.7h-2.7zM180.3 882.4h2.7v2.7h-2.7zM223.7 882.4h2.7v2.7h-2.7zM180.3 884.9h5.1v2.7h-5.1zM221.3 884.9h5.1v2.7h-5.1zM180.3 887.3h5.1v2.7h-5.1zM221.3 887.3h5.1v2.7h-5.1zM182.7 889.7h2.7v2.7h-2.7zM221.3 889.7h2.7v2.7h-2.7zM182.7 892.1h5.1v2.7h-5.1zM218.9 892.1h5.1v2.7h-5.1zM182.7 894.5h5.1v2.7h-5.1zM218.9 894.5h2.7v2.7h-2.7zM185.1 896.9h5.1v2.7h-5.1zM216.4 896.9h5.1v2.7h-5.1zM187.5 899.3h5.1v2.7h-5.1zM211.6 899.3h7.5v2.7h-7.5zM189.9 901.7h9.9v2.7h-9.9zM206.8 901.7h9.9v2.7h-9.9zM194.8 904.1h17.2v2.7h-17.2z"/>
<path fill="#ff1500" d="M194.8 860.8h17.2v2.7h-17.2zM192.4 863.2h22.0v2.7h-22.0zM189.9 865.6h26.8v2.7h-26.8zM187.5 868.0h31.6v2.7h-31.6zM185.1 870.4h36.4v2.7h-36.4zM185.1 872.8h14.8v2.7h-14.8zM206.8 872.8h14.8v2.7h-14.8zM185.1 875.2h12.3v2.7h-12.3zM209.2 875.2h12.3v2.7h-12.3zM182.7 877.6h12.3v2.7h-12.3zM211.6 877.6h12.3v2.7h-12.3zM182.7 880.0h12.3v2.7h-12.3zM211.6 880.0h12.3v2.7h-12.3zM182.7 882.4h12.3v2.7h-12.3zM211.6 882.4h12.3v2.7h-12.3zM185.1 884.9h9.9v2.7h-9.9zM209.2 884.9h12.3v2.7h-12.3zM185.1 887.3h12.3v2.7h-12.3zM209.2 887.3h12.3v2.7h-12.3zM185.1 889.7h36.4v2.7h-36.4zM187.5 892.1h31.6v2.7h-31.6zM187.5 894.5h31.6v2.7h-31.6zM189.9 896.9h26.8v2.7h-26.8zM192.4 899.3h19.6v2.7h-19.6zM199.6 901.7h7.5v2.7h-7.5z"/>
<path fill="#ff0000" d="M199.6 872.8h7.5v2.7h-7.5zM197.2 875.2h12.3v2.7h-12.3zM194.8 877.6h17.2v2.7h-17.2zM194.8 880.0h17.2v2.7h-17.2zM194.8 882.4h17.2v2.7h-17.2zM194.8 884.9h14.8v2.7h-14.8zM197.2 887.3h12.3v2.7h-12.3z"/>
</g>
<g fill="none" stroke="#222" stroke-opacity="0.75" stroke-width="0.7">
<polyline points="196.6,816.0 198.0,815.7 200.0,815.5 202.0,815.4 204.0,815.3 206.0,815.3 208.0,815.4 210.0,815.6 212.0,816.0 213.0,816.1 215.0,816.4 217.0,816.9 218.0,817.1 220.0,817.7 221.0,818.1 223.0,818.7 224.0,819.1 225.9,820.0 227.0,820.4 228.0,821.0 229.9,822.0 231.0,822.5 232.0,823.2 233.2,824.0 234.7,825.0 236.0,826.0 237.0,826.7 238.0,827.5 239.0,828.4 240.0,829.3 241.0,830.2 242.0,831.2 243.0,832.3 244.0,833.4 245.0,834.6 246.0,835.9 246.9,837.0 247.7,838.0 248.4,839.0 249.0,840.1 250.0,841.6 250.9,843.0 251.5,844.0 252.0,845.1 252.9,847.0 253.5,848.0 254.0,849.3 254.8,851.0 255.1,852.0 255.9,854.0 256.3,855.0 256.9,857.0 257.2,858.0 257.8,860.0 258.0,861.2 258.5,863.0 258.8,865.0 259.0,866.3 259.4,868.0 259.6,870.0 259.8,872.0 259.9,874.0 260.0,876.0 260.0,878.0 260.0,880.0 259.9,882.0 259.9,884.0 259.7,886.0 259.5,888.0 259.2,890.0 259.0,891.0 258.7,893.0 258.3,895.0 258.0,896.0 257.6,898.0 257.0,899.9 256.8,901.0 256.0,903.0 255.8,904.0 255.0,905.9 254.7,907.0 254.0,908.4 253.3,910.0 252.8,911.0 252.0,912.7 251.4,914.0 250.8,915.0 250.0,916.4 249.0,917.9 248.4,919.0 247.8,920.0 247.0,921.0 246.0,922.5 245.0,923.8 244.0,925.0 243.2,926.0 242.3,927.0 241.5,928.0 240.5,929.0 239.5,930.0 238.5,931.0 237.4,932.0 236.2,933.0 235.0,934.0 234.0,934.8 233.0,935.6 232.0,936.3 230.9,937.0 229.5,938.0 228.0,938.9 227.0,939.6 226.0,940.0 224.0,941.0 223.0,941.6 221.9,942.0 220.0,942.9 219.0,943.2 217.0,943.9 216.0,944.3 214.0,944.8 213.0,945.0 211.0,945.6 209.0,945.9 207.7,946.0 206.0,946.3 204.0,946.5 202.0,946.6 200.0,946.6 198.0,946.5 196.0,946.3 194.1,946.0 193.0,945.9 191.0,945.6 189.0,945.1 188.0,944.9 186.0,944.4 185.0,944.0 183.0,943.4 182.0,942.9 180.0,942.1 179.0,941.8 177.5,941.0 176.0,940.2 175.0,939.7 173.9,939.0 172.2,938.0 171.0,937.2 170.0,936.6 169.0,935.8 168.0,935.0 166.6,934.0 165.4,933.0 164.3,932.0 163.2,931.0 162.2,930.0 161.2,929.0 160.3,928.0 159.4,927.0 158.5,926.0 157.7,925.0 157.0,924.0 156.0,922.8 155.0,921.3 154.1,920.0 153.4,919.0 152.8,918.0 152.0,916.6 151.1,915.0 150.5,914.0 150.0,912.8 149.1,911.0 148.6,910.0 148.0,908.3 147.4,907.0 147.0,905.7 146.3,904.0 146.0,902.7 145.4,901.0 145.0,899.0 144.6,898.0 144.2,896.0 144.0,894.4 143.7,893.0 143.3,891.0 143.2,889.0 143.0,887.0 143.0,885.7 142.9,884.0 142.8,882.0 142.9,880.0 143.0,878.0 143.0,877.0 143.1,875.0 143.3,873.0 143.6,871.0 144.0,869.3 144.2,868.0 144.5,866.0 145.0,864.6 145.3,863.0 146.0,861.1 146.2,860.0 147.0,858.1 147.3,857.0 148.0,855.3 148.5,854.0 149.0,853.0 150.0,851.0 150.4,850.0 151.0,849.0 152.0,847.2 152.6,846.0 153.2,845.0 154.0,843.9 155.0,842.3 156.0,841.0 156.7,840.0 157.4,839.0 158.2,838.0 159.1,837.0 160.1,836.0 161.0,835.0 162.0,833.9 163.0,832.9 164.0,832.0 165.0,831.0 166.1,830.0 167.3,829.0 168.5,828.0 170.0,827.0 171.0,826.2 172.0,825.5 173.0,824.9 174.4,824.0 176.0,823.1 177.0,822.4 178.0,822.0 180.0,821.0 181.0,820.4 182.2,820.0 184.0,819.2 185.0,818.9 187.0,818.2 188.0,817.9 190.0,817.2 191.3,817.0 193.0,816.5 195.0,816.2 196.6,816.0"/>
<polyline points="199.6,821.0 201.0,820.9 203.0,820.8 205.0,820.8 207.0,820.9 208.4,821.0 210.0,821.2 212.0,821.4 214.0,821.8 215.0,822.0 217.0,822.5 218.6,823.0 220.0,823.4 221.5,824.0 223.0,824.6 224.0,825.1 226.0,826.0 227.0,826.5 228.0,827.1 229.6,828.0 231.0,828.9 232.0,829.5 233.0,830.3 234.0,831.0 235.2,832.0 236.4,833.0 237.5,834.0 238.6,835.0 239.6,836.0 240.5,837.0 241.4,838.0 242.3,839.0 243.1,840.0 244.0,841.2 245.0,842.6 246.0,844.0 246.6,845.0 247.2,846.0 248.0,847.3 248.9,849.0 249.5,850.0 250.0,851.2 250.8,853.0 251.3,854.0 252.0,855.9 252.4,857.0 253.0,858.7 253.4,860.0 254.0,862.0 254.2,863.0 254.7,865.0 255.0,866.5 255.3,868.0 255.6,870.0 255.8,872.0 256.0,874.0 256.1,875.0 256.2,877.0 256.2,879.0 256.2,881.0 256.1,883.0 256.0,884.8 255.9,886.0 255.7,888.0 255.4,890.0 255.1,892.0 254.9,893.0 254.5,895.0 254.0,896.8 253.7,898.0 253.1,900.0 252.8,901.0 252.1,903.0 251.7,904.0 251.0,905.8 250.5,907.0 250.0,908.1 249.1,910.0 248.6,911.0 248.0,912.1 247.0,913.9 246.3,915.0 245.7,916.0 245.0,917.1 244.0,918.5 243.0,919.9 242.1,921.0 241.3,922.0 240.5,923.0 239.6,924.0 238.7,925.0 237.7,926.0 236.7,927.0 235.6,928.0 234.5,929.0 233.3,930.0 232.0,931.0 231.0,931.8 230.0,932.5 229.0,933.2 227.7,934.0 226.0,935.0 225.0,935.6 224.0,936.1 222.1,937.0 221.0,937.5 219.8,938.0 218.0,938.7 217.0,939.0 215.0,939.7 213.8,940.0 212.0,940.5 210.0,940.8 209.0,941.0 207.0,941.3 205.0,941.5 203.0,941.6 201.0,941.6 199.0,941.5 197.0,941.4 195.0,941.1 194.0,941.0 192.0,940.6 190.0,940.2 189.0,939.9 187.0,939.4 186.0,939.0 184.0,938.3 183.0,937.9 181.0,937.0 180.0,936.6 179.0,936.0 177.1,935.0 176.0,934.4 175.0,933.7 173.9,933.0 172.4,932.0 171.1,931.0 170.0,930.1 169.0,929.3 168.0,928.4 167.0,927.5 166.0,926.6 165.0,925.6 164.0,924.5 163.0,923.4 162.0,922.2 161.1,921.0 160.3,920.0 159.5,919.0 158.8,918.0 158.0,916.7 157.0,915.1 156.3,914.0 155.8,913.0 155.0,911.6 154.2,910.0 153.7,909.0 153.0,907.3 152.4,906.0 152.0,904.8 151.3,903.0 151.0,901.9 150.4,900.0 150.0,898.5 149.6,897.0 149.2,895.0 149.0,894.0 148.6,892.0 148.3,890.0 148.1,888.0 148.0,886.1 147.9,885.0 147.9,883.0 147.8,881.0 147.9,879.0 148.0,877.6 148.1,876.0 148.3,874.0 148.6,872.0 148.9,870.0 149.1,869.0 149.5,867.0 150.0,865.2 150.3,864.0 150.9,862.0 151.2,861.0 152.0,859.0 152.3,858.0 153.0,856.4 153.6,855.0 154.1,854.0 155.0,852.2 155.6,851.0 156.2,850.0 157.0,848.6 158.0,847.0 158.6,846.0 159.3,845.0 160.0,844.0 161.0,842.7 162.0,841.4 163.0,840.3 164.0,839.1 165.0,838.1 166.0,837.0 167.0,836.1 168.0,835.1 169.0,834.2 170.0,833.4 171.0,832.6 172.0,831.8 173.1,831.0 174.5,830.0 176.0,829.1 177.0,828.4 178.0,827.8 179.5,827.0 181.0,826.2 182.0,825.8 183.7,825.0 185.0,824.5 186.2,824.0 188.0,823.4 189.2,823.0 191.0,822.5 193.0,822.0 194.0,821.8 196.0,821.4 198.0,821.2 199.6,821.0"/>
<polyline points="194.3,827.0 196.0,826.7 198.0,826.4 200.0,826.2 202.0,826.1 204.0,826.0 206.0,826.1 208.0,826.2 210.0,826.5 212.0,826.8 213.2,827.0 215.0,827.5 217.0,828.0 218.0,828.3 220.0,829.0 221.0,829.5 222.3,830.0 224.0,830.8 225.0,831.3 226.2,832.0 228.0,833.0 229.0,833.7 230.0,834.4 231.0,835.1 232.1,836.0 233.3,837.0 234.5,838.0 235.5,839.0 236.5,840.0 237.5,841.0 238.4,842.0 239.3,843.0 240.1,844.0 241.0,845.2 242.0,846.6 243.0,848.0 243.6,849.0 244.2,850.0 245.0,851.4 245.8,853.0 246.3,854.0 247.0,855.5 247.6,857.0 248.1,858.0 248.8,860.0 249.1,861.0 249.7,863.0 250.0,864.0 250.5,866.0 251.0,868.0 251.1,869.0 251.4,871.0 251.7,873.0 251.9,875.0 252.0,876.0 252.1,878.0 252.1,880.0 252.1,882.0 252.0,884.0 251.9,885.0 251.7,887.0 251.4,889.0 251.1,891.0 251.0,892.0 250.5,894.0 250.0,896.0 249.7,897.0 249.2,899.0 248.8,900.0 248.1,902.0 247.7,903.0 247.0,904.8 246.4,906.0 246.0,907.0 245.0,909.0 244.4,910.0 243.9,911.0 243.0,912.4 242.0,914.0 241.3,915.0 240.6,916.0 239.9,917.0 239.0,918.1 238.0,919.3 237.0,920.4 236.0,921.5 235.0,922.5 234.0,923.5 233.0,924.4 232.0,925.3 231.0,926.1 229.9,927.0 228.5,928.0 227.1,929.0 226.0,929.6 225.0,930.2 223.7,931.0 222.0,931.9 221.0,932.3 219.6,933.0 218.0,933.6 217.0,934.0 215.0,934.6 213.9,935.0 212.0,935.4 210.0,935.9 209.0,936.1 207.0,936.3 205.0,936.5 203.0,936.6 201.0,936.6 199.0,936.5 197.0,936.3 195.0,936.1 194.0,935.9 192.0,935.4 190.0,935.0 189.0,934.6 187.0,934.0 186.0,933.6 184.4,933.0 183.0,932.3 182.0,931.9 180.3,931.0 179.0,930.3 178.0,929.7 176.9,929.0 175.5,928.0 174.1,927.0 173.0,926.1 172.0,925.3 171.0,924.4 170.0,923.5 169.0,922.5 168.0,921.5 167.0,920.4 166.0,919.3 165.0,918.1 164.2,917.0 163.5,916.0 162.8,915.0 162.0,913.9 161.0,912.3 160.3,911.0 159.7,910.0 159.0,908.7 158.2,907.0 157.8,906.0 157.0,904.3 156.5,903.0 156.0,901.7 155.5,900.0 155.0,898.5 154.6,897.0 154.1,895.0 153.9,894.0 153.5,892.0 153.2,890.0 153.0,888.5 152.9,887.0 152.8,885.0 152.7,883.0 152.7,881.0 152.7,879.0 152.9,877.0 153.0,875.2 153.2,874.0 153.5,872.0 153.8,870.0 154.0,869.0 154.5,867.0 155.0,865.1 155.4,864.0 156.0,862.0 156.4,861.0 157.0,859.4 157.6,858.0 158.0,857.0 159.0,855.0 159.6,854.0 160.0,853.0 161.0,851.4 161.9,850.0 162.5,849.0 163.2,848.0 164.0,846.9 165.0,845.6 166.0,844.4 167.0,843.2 168.0,842.1 169.0,841.0 170.0,840.0 171.0,839.1 172.0,838.2 173.0,837.4 174.0,836.6 175.0,835.8 176.1,835.0 177.6,834.0 179.0,833.1 180.0,832.6 181.0,831.9 182.8,831.0 184.0,830.5 185.0,830.0 187.0,829.2 188.0,828.8 190.0,828.1 191.0,827.8 193.0,827.3 194.3,827.0"/>
<polyline points="196.7,834.0 198.0,833.8 200.0,833.6 202.0,833.5 204.0,833.4 206.0,833.5 208.0,833.7 210.0,833.9 211.0,834.1 213.0,834.6 214.7,835.0 216.0,835.4 217.7,836.0 219.0,836.5 220.1,837.0 222.0,837.9 223.0,838.5 224.0,839.1 225.5,840.0 226.9,841.0 228.0,841.8 229.0,842.6 230.0,843.5 231.0,844.4 232.0,845.3 233.0,846.4 234.0,847.5 235.0,848.6 236.0,849.9 236.8,851.0 237.5,852.0 238.2,853.0 239.0,854.4 239.9,856.0 240.4,857.0 241.0,858.1 241.8,860.0 242.2,861.0 243.0,862.9 243.3,864.0 244.0,866.0 244.2,867.0 244.7,869.0 245.0,870.3 245.3,872.0 245.6,874.0 245.8,876.0 245.9,878.0 246.0,880.0 245.9,882.0 245.8,884.0 245.7,886.0 245.4,888.0 245.1,890.0 244.9,891.0 244.5,893.0 244.0,895.0 243.7,896.0 243.1,898.0 242.7,899.0 242.0,900.8 241.5,902.0 241.0,903.1 240.1,905.0 239.5,906.0 239.0,907.0 238.0,908.6 237.1,910.0 236.4,911.0 235.7,912.0 234.9,913.0 234.0,914.1 233.0,915.3 232.0,916.3 231.0,917.4 230.0,918.3 229.0,919.2 228.0,920.1 226.8,921.0 225.4,922.0 224.0,923.0 223.0,923.6 222.0,924.2 220.5,925.0 219.0,925.7 218.0,926.2 216.0,927.0 215.0,927.3 213.0,928.0 212.0,928.2 210.0,928.7 208.3,929.0 207.0,929.2 205.0,929.4 203.0,929.4 201.0,929.4 199.0,929.3 197.0,929.1 196.0,928.9 194.0,928.5 192.0,928.1 191.0,927.7 189.0,927.1 188.0,926.7 186.3,926.0 185.0,925.4 184.0,924.9 182.4,924.0 181.0,923.1 180.0,922.5 179.0,921.8 177.9,921.0 176.7,920.0 175.5,919.0 174.4,918.0 173.4,917.0 172.5,916.0 171.6,915.0 170.7,914.0 169.9,913.0 169.0,911.8 168.0,910.4 167.1,909.0 166.5,908.0 165.9,907.0 165.0,905.3 164.3,904.0 163.9,903.0 163.0,901.0 162.7,900.0 162.0,898.2 161.6,897.0 161.1,895.0 160.8,894.0 160.4,892.0 160.0,890.0 159.9,889.0 159.7,887.0 159.5,885.0 159.4,883.0 159.4,881.0 159.5,879.0 159.6,877.0 159.8,875.0 160.0,873.8 160.3,872.0 160.7,870.0 161.0,868.9 161.5,867.0 162.0,865.5 162.5,864.0 163.0,862.7 163.7,861.0 164.2,860.0 165.0,858.3 165.7,857.0 166.3,856.0 167.0,854.7 168.0,853.2 168.8,852.0 169.6,851.0 170.4,850.0 171.2,849.0 172.0,848.0 173.0,846.9 174.0,845.9 175.0,845.0 176.1,844.0 177.3,843.0 178.6,842.0 179.9,841.0 181.0,840.3 182.0,839.7 183.1,839.0 184.9,838.0 186.0,837.5 187.0,837.0 189.0,836.2 190.0,835.8 192.0,835.1 193.0,834.8 195.0,834.4 196.7,834.0"/>
<polyline points="197.3,844.0 199.0,843.8 201.0,843.5 203.0,843.4 205.0,843.5 207.0,843.6 209.0,843.9 210.0,844.1 212.0,844.6 213.3,845.0 215.0,845.6 216.0,846.0 218.0,847.0 219.0,847.6 220.0,848.1 221.4,849.0 222.8,850.0 224.0,851.0 225.0,851.9 226.0,852.8 227.0,853.8 228.0,854.9 228.9,856.0 229.6,857.0 230.3,858.0 231.0,859.0 232.0,860.6 232.7,862.0 233.2,863.0 234.0,864.6 234.5,866.0 235.0,867.1 235.5,869.0 236.0,870.5 236.3,872.0 236.7,874.0 237.0,875.7 237.1,877.0 237.2,879.0 237.3,881.0 237.2,883.0 237.1,885.0 237.0,886.2 236.7,888.0 236.3,890.0 236.0,891.4 235.5,893.0 235.0,894.8 234.5,896.0 234.0,897.4 233.2,899.0 232.8,900.0 232.0,901.4 231.1,903.0 230.4,904.0 229.7,905.0 229.0,906.0 228.0,907.3 227.0,908.4 226.0,909.4 225.0,910.4 224.0,911.3 223.0,912.2 222.0,913.0 220.6,914.0 219.1,915.0 218.0,915.6 217.0,916.1 215.2,917.0 214.0,917.4 212.5,918.0 211.0,918.4 209.0,919.0 208.0,919.1 206.0,919.4 204.0,919.5 202.0,919.6 200.0,919.5 198.0,919.2 196.5,919.0 195.0,918.6 193.0,918.1 192.0,917.7 190.2,917.0 189.0,916.4 188.0,916.0 186.3,915.0 185.0,914.2 184.0,913.4 183.0,912.7 182.0,911.9 180.9,911.0 179.9,910.0 178.9,909.0 178.0,908.0 177.0,906.8 176.0,905.4 175.0,904.0 174.4,903.0 173.8,902.0 173.0,900.6 172.3,899.0 171.8,898.0 171.0,896.1 170.7,895.0 170.0,893.0 169.8,892.0 169.3,890.0 169.0,888.3 168.8,887.0 168.7,885.0 168.6,883.0 168.6,881.0 168.6,879.0 168.8,877.0 169.0,875.3 169.3,874.0 169.7,872.0 170.0,870.7 170.6,869.0 171.0,867.6 171.7,866.0 172.0,865.0 173.0,863.0 173.6,862.0 174.1,861.0 175.0,859.6 176.0,858.1 176.8,857.0 177.7,856.0 178.5,855.0 179.4,854.0 180.4,853.0 181.5,852.0 182.7,851.0 183.9,850.0 185.0,849.3 186.0,848.6 187.0,848.0 188.8,847.0 190.0,846.4 191.0,845.9 193.0,845.2 194.0,844.9 196.0,844.3 197.3,844.0"/>
</g>
<g><rect x="172.9" y="903.1" width="25.0" height="10.4" fill="#fff" stroke="#777" stroke-width="0.6"/><text x="185.7" y="912.6" font-size="9.7" text-anchor="middle" textLength="23.0" lengthAdjust="spacingAndGlyphs" fill="#111" stroke="#111" stroke-width="0.12">0.828</text></g>
<g><rect x="172.9" y="915.7" width="25.0" height="10.4" fill="#fff" stroke="#777" stroke-width="0.6"/><text x="185.7" y="925.2" font-size="9.7" text-anchor="middle" textLength="23.0" lengthAdjust="spacingAndGlyphs" fill="#111" stroke="#111" stroke-width="0.12">0.662</text></g>
<g><rect x="161.8" y="927.4" width="25.0" height="10.4" fill="#fff" stroke="#777" stroke-width="0.6"/><text x="174.6" y="936.9" font-size="9.7" text-anchor="middle" textLength="17.9" lengthAdjust="spacingAndGlyphs" fill="#111" stroke="#111" stroke-width="0.12">0.33</text></g>
<g><rect x="180.9" y="927.4" width="25.0" height="10.4" fill="#fff" stroke="#777" stroke-width="0.6"/><text x="193.7" y="936.9" font-size="9.7" text-anchor="middle" textLength="23.0" lengthAdjust="spacingAndGlyphs" fill="#111" stroke="#111" stroke-width="0.12">0.497</text></g>
<g><rect x="172.9" y="938.4" width="25.0" height="10.4" fill="#fff" stroke="#777" stroke-width="0.6"/><text x="185.7" y="947.9" font-size="9.7" text-anchor="middle" textLength="23.0" lengthAdjust="spacingAndGlyphs" fill="#111" stroke="#111" stroke-width="0.12">0.166</text></g>
<g clip-path="url(#ce)">
<g clip-path="url(#cpe)">
<line x1="197.9" y1="852.4" x2="197.9" y2="877.8" stroke="#a8b4ff" stroke-width="1.2"/>
<rect x="83.5" y="852.4" width="114.8" height="13.7" fill="#fff" stroke="#99a" stroke-width="0.7"/>
<text x="86" y="863.2" font-size="12.2" fill="#111">Prediction</text>
<text x="152" y="863.2" font-size="12.2" fill="#111">0.993799</text>
</g>
<line x1="197.9" y1="852.4" x2="197.9" y2="877.8" stroke="#a8b4ff" stroke-width="1.2"/>
</g>
<line x1="50.2" y1="983.5" x2="50.2" y2="991.0" stroke="#9a9a9a" stroke-width="0.9"/>
<line x1="121.3" y1="983.5" x2="121.3" y2="991.0" stroke="#9a9a9a" stroke-width="0.9"/>
<line x1="192.4" y1="983.5" x2="192.4" y2="991.0" stroke="#9a9a9a" stroke-width="0.9"/>
<line x1="263.4" y1="983.5" x2="263.4" y2="991.0" stroke="#9a9a9a" stroke-width="0.9"/>
<line x1="334.5" y1="983.5" x2="334.5" y2="991.0" stroke="#9a9a9a" stroke-width="0.9"/>
<line x1="42.2" y1="702.0" x2="50.2" y2="702.0" stroke="#9a9a9a" stroke-width="0.9"/>
<line x1="42.2" y1="772.4" x2="50.2" y2="772.4" stroke="#9a9a9a" stroke-width="0.9"/>
<line x1="42.2" y1="842.8" x2="50.2" y2="842.8" stroke="#9a9a9a" stroke-width="0.9"/>
<line x1="42.2" y1="913.1" x2="50.2" y2="913.1" stroke="#9a9a9a" stroke-width="0.9"/>
<line x1="42.2" y1="983.5" x2="50.2" y2="983.5" stroke="#9a9a9a" stroke-width="0.9"/>
<path d="M50.2 983.5V702.3H334.5" fill="none" stroke="#e4e4e4" stroke-opacity="0.85" stroke-width="1"/>
<text x="50.6" y="1002.2" font-family='"DejaVu Sans", "Liberation Sans", sans-serif' font-size="7.1" font-weight="bold" text-anchor="middle" textLength="16.3" lengthAdjust="spacingAndGlyphs" fill="#111">0.48</text>
<text x="121.7" y="1002.2" font-family='"DejaVu Sans", "Liberation Sans", sans-serif' font-size="7.1" font-weight="bold" text-anchor="middle" textLength="16.3" lengthAdjust="spacingAndGlyphs" fill="#111">1.00</text>
<text x="192.8" y="1002.2" font-family='"DejaVu Sans", "Liberation Sans", sans-serif' font-size="7.1" font-weight="bold" text-anchor="middle" textLength="16.3" lengthAdjust="spacingAndGlyphs" fill="#111">1.52</text>
<text x="263.8" y="1002.2" font-family='"DejaVu Sans", "Liberation Sans", sans-serif' font-size="7.1" font-weight="bold" text-anchor="middle" textLength="16.3" lengthAdjust="spacingAndGlyphs" fill="#111">2.05</text>
<g clip-path="url(#xce)">
<text x="334.9" y="1002.2" font-family='"DejaVu Sans", "Liberation Sans", sans-serif' font-size="7.1" font-weight="bold" text-anchor="middle" textLength="16.3" lengthAdjust="spacingAndGlyphs" fill="#111">2.57</text>
</g>
<text x="39.5" y="703.8" font-family='"DejaVu Sans", "Liberation Sans", sans-serif' font-size="7.1" font-weight="bold" text-anchor="end" textLength="16.3" lengthAdjust="spacingAndGlyphs" fill="#111">2.57</text>
<text x="39.5" y="774.2" font-family='"DejaVu Sans", "Liberation Sans", sans-serif' font-size="7.1" font-weight="bold" text-anchor="end" textLength="16.3" lengthAdjust="spacingAndGlyphs" fill="#111">2.05</text>
<text x="39.5" y="844.5" font-family='"DejaVu Sans", "Liberation Sans", sans-serif' font-size="7.1" font-weight="bold" text-anchor="end" textLength="16.3" lengthAdjust="spacingAndGlyphs" fill="#111">1.52</text>
<text x="39.5" y="914.9" font-family='"DejaVu Sans", "Liberation Sans", sans-serif' font-size="7.1" font-weight="bold" text-anchor="end" textLength="16.3" lengthAdjust="spacingAndGlyphs" fill="#111">1.00</text>
<text x="39.5" y="985.3" font-family='"DejaVu Sans", "Liberation Sans", sans-serif' font-size="7.1" font-weight="bold" text-anchor="end" textLength="16.3" lengthAdjust="spacingAndGlyphs" fill="#111">0.48</text>
<circle cx="50.2" cy="702.0" r="2.3" fill="#f00000"/>
<circle cx="334.5" cy="702.0" r="2.3" fill="#f00000"/>
<circle cx="50.2" cy="983.5" r="2.3" fill="#f00000"/>
<circle cx="334.5" cy="983.5" r="2.3" fill="#f00000"/>
<circle cx="192.3" cy="842.8" r="2.1" fill="#e00000" stroke="#700" stroke-width="0.4"/>
<text x="189.3" y="845.2" font-family='"DejaVu Sans", "Liberation Sans", sans-serif' font-size="7.6" font-weight="bold" text-anchor="end" fill="#301010">3</text>
<text x="192.0" y="696.8" font-size="16.5" text-anchor="middle" fill="#111">Desirability (M35 Xylanase-Pectinase)</text>
<text x="188.4" y="1014.5" font-size="12.6" text-anchor="middle" fill="#222">A: WB</text>
<text transform="translate(16.9,837.1) rotate(-90)" font-size="12.3" text-anchor="middle" fill="#222">B: CP</text>
<text x="1" y="704.6" font-family='"Liberation Serif", "Times New Roman", serif' font-weight="bold" font-size="18" fill="#111">e)</text>
<rect x="394.3" y="702" width="284.9" height="281.3" fill="#0000ff"/>
<g clip-path="url(#cf)">
<g shape-rendering="crispEdges">
<path fill="#0015ff" d="M638.5 875.1h2.7v2.7h-2.7zM497.2 942.4h2.7v2.7h-2.7z"/>
<path fill="#002aff" d="M576.3 875.1h2.7v2.7h-2.7zM648.1 877.5h2.7v2.7h-2.7zM662.4 882.3h2.7v2.7h-2.7zM533.2 896.7h2.7v2.7h-2.7zM516.4 913.6h2.7v2.7h-2.7zM494.9 947.2h2.7v2.7h-2.7zM628.9 973.7h2.7v2.7h-2.7zM626.5 976.1h2.7v2.7h-2.7z"/>
<path fill="#0040ff" d="M590.6 872.7h2.7v2.7h-2.7zM621.7 872.7h2.7v2.7h-2.7zM569.1 877.5h2.7v2.7h-2.7zM561.9 879.9h2.7v2.7h-2.7zM655.3 879.9h2.7v2.7h-2.7zM660.0 882.3h2.7v2.7h-2.7zM662.4 884.7h2.7v2.7h-2.7zM547.5 887.1h2.7v2.7h-2.7zM530.8 899.2h2.7v2.7h-2.7zM662.4 906.4h2.7v2.7h-2.7zM509.2 923.2h2.7v2.7h-2.7zM657.7 925.6h2.7v2.7h-2.7zM504.4 930.4h2.7v2.7h-2.7zM487.7 964.1h2.7v2.7h-2.7zM485.3 971.3h2.7v2.7h-2.7zM482.9 978.5h2.7v2.7h-2.7zM482.9 980.9h2.7v2.7h-2.7z"/>
<path fill="#0055ff" d="M593.0 872.7h2.7v2.7h-2.7zM619.3 872.7h2.7v2.7h-2.7zM578.6 875.1h2.7v2.7h-2.7zM636.1 875.1h2.7v2.7h-2.7zM645.7 877.5h2.7v2.7h-2.7zM652.9 879.9h2.7v2.7h-2.7zM557.1 882.3h2.7v2.7h-2.7zM552.3 884.7h2.7v2.7h-2.7zM662.4 887.1h2.7v2.7h-2.7zM540.3 891.9h2.7v2.7h-2.7zM528.4 901.6h2.7v2.7h-2.7zM526.0 904.0h2.7v2.7h-2.7zM662.4 904.0h2.7v2.7h-2.7zM523.6 906.4h2.7v2.7h-2.7zM521.2 908.8h2.7v2.7h-2.7zM518.8 911.2h2.7v2.7h-2.7zM652.9 937.6h2.7v2.7h-2.7z"/>
<path fill="#006aff" d="M595.4 872.7h7.5v2.7h-7.5zM612.2 872.7h7.5v2.7h-7.5zM633.7 875.1h2.7v2.7h-2.7zM657.7 882.3h2.7v2.7h-2.7zM660.0 884.7h2.7v2.7h-2.7zM662.4 889.5h2.7v2.7h-2.7zM662.4 891.9h2.7v2.7h-2.7zM662.4 894.3h2.7v2.7h-2.7zM662.4 899.2h2.7v2.7h-2.7zM662.4 901.6h2.7v2.7h-2.7zM660.0 916.0h2.7v2.7h-2.7zM511.6 920.8h2.7v2.7h-2.7zM502.0 935.2h2.7v2.7h-2.7zM650.5 942.4h2.7v2.7h-2.7zM648.1 947.2h2.7v2.7h-2.7zM490.1 959.3h2.7v2.7h-2.7zM487.7 966.5h2.7v2.7h-2.7zM485.3 973.7h2.7v2.7h-2.7zM485.3 976.1h2.7v2.7h-2.7z"/>
<path fill="#0080ff" d="M602.6 872.7h9.9v2.7h-9.9zM581.0 875.1h2.7v2.7h-2.7zM571.5 877.5h2.7v2.7h-2.7zM643.3 877.5h2.7v2.7h-2.7zM564.3 879.9h2.7v2.7h-2.7zM650.5 879.9h2.7v2.7h-2.7zM655.3 882.3h2.7v2.7h-2.7zM657.7 884.7h2.7v2.7h-2.7zM660.0 887.1h2.7v2.7h-2.7zM545.1 889.5h2.7v2.7h-2.7zM537.9 894.3h2.7v2.7h-2.7zM662.4 896.7h2.7v2.7h-2.7zM514.0 918.4h2.7v2.7h-2.7zM506.8 928.0h2.7v2.7h-2.7zM499.6 940.0h2.7v2.7h-2.7zM497.2 944.8h2.7v2.7h-2.7zM494.9 949.6h2.7v2.7h-2.7zM492.5 954.4h2.7v2.7h-2.7zM485.3 978.5h2.7v2.7h-2.7zM485.3 980.9h2.7v2.7h-2.7z"/>
<path fill="#0095ff" d="M583.4 875.1h5.1v2.7h-5.1zM628.9 875.1h5.1v2.7h-5.1zM573.9 877.5h2.7v2.7h-2.7zM640.9 877.5h2.7v2.7h-2.7zM566.7 879.9h2.7v2.7h-2.7zM648.1 879.9h2.7v2.7h-2.7zM559.5 882.3h2.7v2.7h-2.7zM652.9 882.3h2.7v2.7h-2.7zM554.7 884.7h2.7v2.7h-2.7zM549.9 887.1h2.7v2.7h-2.7zM660.0 889.5h2.7v2.7h-2.7zM542.7 891.9h2.7v2.7h-2.7zM535.6 896.7h2.7v2.7h-2.7zM533.2 899.2h2.7v2.7h-2.7zM660.0 913.6h2.7v2.7h-2.7zM516.4 916.0h2.7v2.7h-2.7zM657.7 923.2h2.7v2.7h-2.7zM509.2 925.6h2.7v2.7h-2.7zM655.3 930.4h2.7v2.7h-2.7zM504.4 932.8h2.7v2.7h-2.7zM490.1 961.7h2.7v2.7h-2.7zM638.5 961.7h2.7v2.7h-2.7zM487.7 968.9h2.7v2.7h-2.7zM487.7 971.3h2.7v2.7h-2.7z"/>
<path fill="#00aaff" d="M588.2 875.1h2.7v2.7h-2.7zM626.5 875.1h2.7v2.7h-2.7zM576.3 877.5h2.7v2.7h-2.7zM638.5 877.5h2.7v2.7h-2.7zM645.7 879.9h2.7v2.7h-2.7zM561.9 882.3h2.7v2.7h-2.7zM655.3 884.7h2.7v2.7h-2.7zM657.7 887.1h2.7v2.7h-2.7zM547.5 889.5h2.7v2.7h-2.7zM660.0 891.9h2.7v2.7h-2.7zM540.3 894.3h2.7v2.7h-2.7zM660.0 894.3h2.7v2.7h-2.7zM530.8 901.6h2.7v2.7h-2.7zM528.4 904.0h2.7v2.7h-2.7zM526.0 906.4h2.7v2.7h-2.7zM523.6 908.8h2.7v2.7h-2.7zM521.2 911.2h2.7v2.7h-2.7zM660.0 911.2h2.7v2.7h-2.7zM518.8 913.6h2.7v2.7h-2.7zM511.6 923.2h2.7v2.7h-2.7zM502.0 937.6h2.7v2.7h-2.7zM499.6 942.4h2.7v2.7h-2.7zM643.3 954.4h2.7v2.7h-2.7zM492.5 956.9h2.7v2.7h-2.7zM490.1 964.1h2.7v2.7h-2.7zM487.7 973.7h2.7v2.7h-2.7zM487.7 976.1h2.7v2.7h-2.7zM487.7 978.5h2.7v2.7h-2.7zM487.7 980.9h2.7v2.7h-2.7z"/>
<path fill="#00bfff" d="M590.6 875.1h7.5v2.7h-7.5zM619.3 875.1h7.5v2.7h-7.5zM578.6 877.5h2.7v2.7h-2.7zM636.1 877.5h2.7v2.7h-2.7zM569.1 879.9h2.7v2.7h-2.7zM643.3 879.9h2.7v2.7h-2.7zM650.5 882.3h2.7v2.7h-2.7zM557.1 884.7h2.7v2.7h-2.7zM652.9 884.7h2.7v2.7h-2.7zM552.3 887.1h2.7v2.7h-2.7zM655.3 887.1h2.7v2.7h-2.7zM657.7 889.5h2.7v2.7h-2.7zM545.1 891.9h2.7v2.7h-2.7zM537.9 896.7h2.7v2.7h-2.7zM660.0 896.7h2.7v2.7h-2.7zM660.0 899.2h2.7v2.7h-2.7zM660.0 901.6h2.7v2.7h-2.7zM660.0 904.0h2.7v2.7h-2.7zM660.0 906.4h2.7v2.7h-2.7zM660.0 908.8h2.7v2.7h-2.7zM514.0 920.8h2.7v2.7h-2.7zM657.7 920.8h2.7v2.7h-2.7zM506.8 930.4h2.7v2.7h-2.7zM504.4 935.2h2.7v2.7h-2.7zM652.9 935.2h2.7v2.7h-2.7zM497.2 947.2h2.7v2.7h-2.7zM494.9 952.0h2.7v2.7h-2.7zM636.1 964.1h2.7v2.7h-2.7zM490.1 966.5h2.7v2.7h-2.7z"/>
<path fill="#00d4ff" d="M597.8 875.1h21.8v2.7h-21.8zM581.0 877.5h5.1v2.7h-5.1zM633.7 877.5h2.7v2.7h-2.7zM571.5 879.9h2.7v2.7h-2.7zM564.3 882.3h2.7v2.7h-2.7zM648.1 882.3h2.7v2.7h-2.7zM559.5 884.7h2.7v2.7h-2.7zM554.7 887.1h2.7v2.7h-2.7zM549.9 889.5h2.7v2.7h-2.7zM657.7 891.9h2.7v2.7h-2.7zM542.7 894.3h2.7v2.7h-2.7zM535.6 899.2h2.7v2.7h-2.7zM533.2 901.6h2.7v2.7h-2.7zM521.2 913.6h2.7v2.7h-2.7zM518.8 916.0h2.7v2.7h-2.7zM516.4 918.4h2.7v2.7h-2.7zM657.7 918.4h2.7v2.7h-2.7zM509.2 928.0h2.7v2.7h-2.7zM655.3 928.0h2.7v2.7h-2.7zM502.0 940.0h2.7v2.7h-2.7zM650.5 940.0h2.7v2.7h-2.7zM499.6 944.8h2.7v2.7h-2.7zM648.1 944.8h2.7v2.7h-2.7zM497.2 949.6h2.7v2.7h-2.7zM645.7 949.6h2.7v2.7h-2.7zM494.9 954.4h2.7v2.7h-2.7zM492.5 959.3h2.7v2.7h-2.7zM633.7 966.5h2.7v2.7h-2.7zM490.1 968.9h2.7v2.7h-2.7zM490.1 971.3h2.7v2.7h-2.7zM490.1 978.5h2.7v2.7h-2.7zM490.1 980.9h2.7v2.7h-2.7zM619.3 980.9h2.7v2.7h-2.7z"/>
<path fill="#00eaff" d="M585.8 877.5h5.1v2.7h-5.1zM628.9 877.5h5.1v2.7h-5.1zM573.9 879.9h5.1v2.7h-5.1zM640.9 879.9h2.7v2.7h-2.7zM566.7 882.3h2.7v2.7h-2.7zM645.7 882.3h2.7v2.7h-2.7zM561.9 884.7h2.7v2.7h-2.7zM650.5 884.7h2.7v2.7h-2.7zM652.9 887.1h2.7v2.7h-2.7zM552.3 889.5h2.7v2.7h-2.7zM655.3 889.5h2.7v2.7h-2.7zM547.5 891.9h2.7v2.7h-2.7zM657.7 894.3h2.7v2.7h-2.7zM540.3 896.7h2.7v2.7h-2.7zM657.7 896.7h2.7v2.7h-2.7zM530.8 904.0h2.7v2.7h-2.7zM528.4 906.4h2.7v2.7h-2.7zM526.0 908.8h2.7v2.7h-2.7zM523.6 911.2h2.7v2.7h-2.7zM657.7 916.0h2.7v2.7h-2.7zM514.0 923.2h2.7v2.7h-2.7zM511.6 925.6h2.7v2.7h-2.7zM506.8 932.8h2.7v2.7h-2.7zM504.4 937.6h2.7v2.7h-2.7zM640.9 956.9h2.7v2.7h-2.7zM492.5 961.7h2.7v2.7h-2.7zM492.5 964.1h2.7v2.7h-2.7zM631.3 968.9h2.7v2.7h-2.7zM490.1 973.7h2.7v2.7h-2.7zM490.1 976.1h2.7v2.7h-2.7zM621.7 978.5h2.7v2.7h-2.7z"/>
<path fill="#00ffff" d="M590.6 877.5h7.5v2.7h-7.5zM621.7 877.5h7.5v2.7h-7.5zM578.6 879.9h2.7v2.7h-2.7zM638.5 879.9h2.7v2.7h-2.7zM569.1 882.3h5.1v2.7h-5.1zM643.3 882.3h2.7v2.7h-2.7zM564.3 884.7h2.7v2.7h-2.7zM648.1 884.7h2.7v2.7h-2.7zM557.1 887.1h2.7v2.7h-2.7zM650.5 887.1h2.7v2.7h-2.7zM652.9 889.5h2.7v2.7h-2.7zM549.9 891.9h2.7v2.7h-2.7zM655.3 891.9h2.7v2.7h-2.7zM545.1 894.3h2.7v2.7h-2.7zM537.9 899.2h2.7v2.7h-2.7zM657.7 899.2h2.7v2.7h-2.7zM535.6 901.6h2.7v2.7h-2.7zM657.7 901.6h2.7v2.7h-2.7zM533.2 904.0h2.7v2.7h-2.7zM657.7 904.0h2.7v2.7h-2.7zM657.7 908.8h2.7v2.7h-2.7zM657.7 911.2h2.7v2.7h-2.7zM657.7 913.6h2.7v2.7h-2.7zM521.2 916.0h2.7v2.7h-2.7zM518.8 918.4h2.7v2.7h-2.7zM516.4 920.8h2.7v2.7h-2.7zM655.3 925.6h2.7v2.7h-2.7zM511.6 928.0h2.7v2.7h-2.7zM509.2 930.4h2.7v2.7h-2.7zM652.9 932.8h2.7v2.7h-2.7zM506.8 935.2h2.7v2.7h-2.7zM502.0 942.4h2.7v2.7h-2.7zM499.6 947.2h2.7v2.7h-2.7zM497.2 952.0h2.7v2.7h-2.7zM494.9 956.9h2.7v2.7h-2.7zM492.5 966.5h2.7v2.7h-2.7zM628.9 971.3h2.7v2.7h-2.7zM626.5 973.7h2.7v2.7h-2.7zM624.1 976.1h2.7v2.7h-2.7zM492.5 978.5h2.7v2.7h-2.7zM492.5 980.9h2.7v2.7h-2.7z"/>
<path fill="#00ffea" d="M597.8 877.5h24.2v2.7h-24.2zM581.0 879.9h5.1v2.7h-5.1zM633.7 879.9h5.1v2.7h-5.1zM573.9 882.3h2.7v2.7h-2.7zM640.9 882.3h2.7v2.7h-2.7zM566.7 884.7h2.7v2.7h-2.7zM645.7 884.7h2.7v2.7h-2.7zM559.5 887.1h2.7v2.7h-2.7zM554.7 889.5h2.7v2.7h-2.7zM652.9 891.9h2.7v2.7h-2.7zM547.5 894.3h2.7v2.7h-2.7zM655.3 894.3h2.7v2.7h-2.7zM542.7 896.7h2.7v2.7h-2.7zM655.3 896.7h2.7v2.7h-2.7zM540.3 899.2h2.7v2.7h-2.7zM530.8 906.4h2.7v2.7h-2.7zM657.7 906.4h2.7v2.7h-2.7zM528.4 908.8h2.7v2.7h-2.7zM526.0 911.2h2.7v2.7h-2.7zM523.6 913.6h2.7v2.7h-2.7zM516.4 923.2h2.7v2.7h-2.7zM655.3 923.2h2.7v2.7h-2.7zM514.0 925.6h2.7v2.7h-2.7zM652.9 930.4h2.7v2.7h-2.7zM509.2 932.8h2.7v2.7h-2.7zM650.5 937.6h2.7v2.7h-2.7zM504.4 940.0h2.7v2.7h-2.7zM502.0 944.8h2.7v2.7h-2.7zM499.6 949.6h2.7v2.7h-2.7zM643.3 952.0h2.7v2.7h-2.7zM497.2 954.4h2.7v2.7h-2.7zM494.9 959.3h2.7v2.7h-2.7zM638.5 959.3h2.7v2.7h-2.7zM492.5 968.9h2.7v2.7h-2.7zM492.5 971.3h2.7v2.7h-2.7zM492.5 973.7h2.7v2.7h-2.7zM492.5 976.1h2.7v2.7h-2.7z"/>
<path fill="#00ffd4" d="M585.8 879.9h7.5v2.7h-7.5zM628.9 879.9h5.1v2.7h-5.1zM576.3 882.3h5.1v2.7h-5.1zM638.5 882.3h2.7v2.7h-2.7zM569.1 884.7h2.7v2.7h-2.7zM643.3 884.7h2.7v2.7h-2.7zM561.9 887.1h5.1v2.7h-5.1zM648.1 887.1h2.7v2.7h-2.7zM557.1 889.5h2.7v2.7h-2.7zM650.5 889.5h2.7v2.7h-2.7zM552.3 891.9h2.7v2.7h-2.7zM652.9 894.3h2.7v2.7h-2.7zM545.1 896.7h2.7v2.7h-2.7zM655.3 899.2h2.7v2.7h-2.7zM537.9 901.6h2.7v2.7h-2.7zM535.6 904.0h2.7v2.7h-2.7zM533.2 906.4h2.7v2.7h-2.7zM530.8 908.8h2.7v2.7h-2.7zM523.6 916.0h2.7v2.7h-2.7zM521.2 918.4h2.7v2.7h-2.7zM655.3 918.4h2.7v2.7h-2.7zM518.8 920.8h2.7v2.7h-2.7zM655.3 920.8h2.7v2.7h-2.7zM511.6 930.4h2.7v2.7h-2.7zM506.8 937.6h2.7v2.7h-2.7zM504.4 942.4h2.7v2.7h-2.7zM648.1 942.4h2.7v2.7h-2.7zM645.7 947.2h2.7v2.7h-2.7zM494.9 961.7h2.7v2.7h-2.7zM636.1 961.7h2.7v2.7h-2.7zM494.9 964.1h2.7v2.7h-2.7zM494.9 978.5h2.7v2.7h-2.7zM494.9 980.9h2.7v2.7h-2.7z"/>
<path fill="#00ffbf" d="M593.0 879.9h12.3v2.7h-12.3zM617.0 879.9h12.3v2.7h-12.3zM581.0 882.3h5.1v2.7h-5.1zM636.1 882.3h2.7v2.7h-2.7zM571.5 884.7h5.1v2.7h-5.1zM640.9 884.7h2.7v2.7h-2.7zM566.7 887.1h2.7v2.7h-2.7zM645.7 887.1h2.7v2.7h-2.7zM559.5 889.5h2.7v2.7h-2.7zM648.1 889.5h2.7v2.7h-2.7zM554.7 891.9h2.7v2.7h-2.7zM650.5 891.9h2.7v2.7h-2.7zM549.9 894.3h2.7v2.7h-2.7zM547.5 896.7h2.7v2.7h-2.7zM652.9 896.7h2.7v2.7h-2.7zM542.7 899.2h2.7v2.7h-2.7zM540.3 901.6h2.7v2.7h-2.7zM655.3 901.6h2.7v2.7h-2.7zM537.9 904.0h2.7v2.7h-2.7zM655.3 904.0h2.7v2.7h-2.7zM655.3 906.4h2.7v2.7h-2.7zM655.3 908.8h2.7v2.7h-2.7zM528.4 911.2h2.7v2.7h-2.7zM655.3 911.2h2.7v2.7h-2.7zM526.0 913.6h2.7v2.7h-2.7zM655.3 913.6h2.7v2.7h-2.7zM655.3 916.0h2.7v2.7h-2.7zM518.8 923.2h2.7v2.7h-2.7zM516.4 925.6h2.7v2.7h-2.7zM514.0 928.0h2.7v2.7h-2.7zM652.9 928.0h2.7v2.7h-2.7zM511.6 932.8h2.7v2.7h-2.7zM509.2 935.2h2.7v2.7h-2.7zM650.5 935.2h2.7v2.7h-2.7zM506.8 940.0h2.7v2.7h-2.7zM502.0 947.2h2.7v2.7h-2.7zM499.6 952.0h2.7v2.7h-2.7zM640.9 954.4h2.7v2.7h-2.7zM497.2 956.9h2.7v2.7h-2.7zM633.7 964.1h2.7v2.7h-2.7zM494.9 966.5h2.7v2.7h-2.7zM494.9 968.9h2.7v2.7h-2.7zM494.9 971.3h2.7v2.7h-2.7zM494.9 973.7h2.7v2.7h-2.7zM494.9 976.1h2.7v2.7h-2.7zM617.0 980.9h2.7v2.7h-2.7z"/>
<path fill="#00ffaa" d="M605.0 879.9h12.3v2.7h-12.3zM585.8 882.3h5.1v2.7h-5.1zM631.3 882.3h5.1v2.7h-5.1zM576.3 884.7h5.1v2.7h-5.1zM638.5 884.7h2.7v2.7h-2.7zM569.1 887.1h2.7v2.7h-2.7zM643.3 887.1h2.7v2.7h-2.7zM561.9 889.5h5.1v2.7h-5.1zM645.7 889.5h2.7v2.7h-2.7zM557.1 891.9h2.7v2.7h-2.7zM648.1 891.9h2.7v2.7h-2.7zM552.3 894.3h2.7v2.7h-2.7zM650.5 894.3h2.7v2.7h-2.7zM549.9 896.7h2.7v2.7h-2.7zM545.1 899.2h2.7v2.7h-2.7zM652.9 899.2h2.7v2.7h-2.7zM542.7 901.6h2.7v2.7h-2.7zM535.6 906.4h2.7v2.7h-2.7zM533.2 908.8h2.7v2.7h-2.7zM530.8 911.2h2.7v2.7h-2.7zM528.4 913.6h2.7v2.7h-2.7zM526.0 916.0h2.7v2.7h-2.7zM523.6 918.4h2.7v2.7h-2.7zM521.2 920.8h2.7v2.7h-2.7zM652.9 925.6h2.7v2.7h-2.7zM516.4 928.0h2.7v2.7h-2.7zM514.0 930.4h2.7v2.7h-2.7zM650.5 932.8h2.7v2.7h-2.7zM509.2 937.6h2.7v2.7h-2.7zM648.1 940.0h2.7v2.7h-2.7zM506.8 942.4h2.7v2.7h-2.7zM504.4 944.8h2.7v2.7h-2.7zM645.7 944.8h2.7v2.7h-2.7zM502.0 949.6h2.7v2.7h-2.7zM643.3 949.6h2.7v2.7h-2.7zM499.6 954.4h2.7v2.7h-2.7zM638.5 956.9h2.7v2.7h-2.7zM497.2 959.3h2.7v2.7h-2.7zM497.2 961.7h2.7v2.7h-2.7zM631.3 966.5h2.7v2.7h-2.7zM628.9 968.9h2.7v2.7h-2.7zM621.7 976.1h2.7v2.7h-2.7zM497.2 978.5h2.7v2.7h-2.7zM619.3 978.5h2.7v2.7h-2.7zM497.2 980.9h2.7v2.7h-2.7z"/>
<path fill="#00ff95" d="M590.6 882.3h12.3v2.7h-12.3zM619.3 882.3h12.3v2.7h-12.3zM581.0 884.7h5.1v2.7h-5.1zM636.1 884.7h2.7v2.7h-2.7zM571.5 887.1h5.1v2.7h-5.1zM640.9 887.1h2.7v2.7h-2.7zM566.7 889.5h2.7v2.7h-2.7zM559.5 891.9h5.1v2.7h-5.1zM554.7 894.3h5.1v2.7h-5.1zM552.3 896.7h2.7v2.7h-2.7zM650.5 896.7h2.7v2.7h-2.7zM547.5 899.2h2.7v2.7h-2.7zM545.1 901.6h2.7v2.7h-2.7zM652.9 901.6h2.7v2.7h-2.7zM540.3 904.0h2.7v2.7h-2.7zM652.9 904.0h2.7v2.7h-2.7zM537.9 906.4h2.7v2.7h-2.7zM535.6 908.8h2.7v2.7h-2.7zM533.2 911.2h2.7v2.7h-2.7zM530.8 913.6h2.7v2.7h-2.7zM528.4 916.0h2.7v2.7h-2.7zM526.0 918.4h2.7v2.7h-2.7zM523.6 920.8h2.7v2.7h-2.7zM652.9 920.8h2.7v2.7h-2.7zM521.2 923.2h2.7v2.7h-2.7zM652.9 923.2h2.7v2.7h-2.7zM518.8 925.6h2.7v2.7h-2.7zM514.0 932.8h2.7v2.7h-2.7zM511.6 935.2h2.7v2.7h-2.7zM509.2 940.0h2.7v2.7h-2.7zM504.4 947.2h2.7v2.7h-2.7zM502.0 952.0h2.7v2.7h-2.7zM499.6 956.9h2.7v2.7h-2.7zM497.2 964.1h2.7v2.7h-2.7zM497.2 966.5h2.7v2.7h-2.7zM497.2 968.9h2.7v2.7h-2.7zM497.2 971.3h2.7v2.7h-2.7zM626.5 971.3h2.7v2.7h-2.7zM497.2 973.7h2.7v2.7h-2.7zM624.1 973.7h2.7v2.7h-2.7zM497.2 976.1h2.7v2.7h-2.7zM499.6 980.9h2.7v2.7h-2.7z"/>
<path fill="#00ff80" d="M602.6 882.3h17.1v2.7h-17.1zM585.8 884.7h7.5v2.7h-7.5zM631.3 884.7h5.1v2.7h-5.1zM576.3 887.1h5.1v2.7h-5.1zM638.5 887.1h2.7v2.7h-2.7zM569.1 889.5h5.1v2.7h-5.1zM643.3 889.5h2.7v2.7h-2.7zM564.3 891.9h2.7v2.7h-2.7zM645.7 891.9h2.7v2.7h-2.7zM559.5 894.3h2.7v2.7h-2.7zM648.1 894.3h2.7v2.7h-2.7zM554.7 896.7h2.7v2.7h-2.7zM549.9 899.2h2.7v2.7h-2.7zM650.5 899.2h2.7v2.7h-2.7zM547.5 901.6h2.7v2.7h-2.7zM542.7 904.0h2.7v2.7h-2.7zM540.3 906.4h2.7v2.7h-2.7zM652.9 906.4h2.7v2.7h-2.7zM537.9 908.8h2.7v2.7h-2.7zM652.9 908.8h2.7v2.7h-2.7zM652.9 911.2h2.7v2.7h-2.7zM652.9 913.6h2.7v2.7h-2.7zM652.9 916.0h2.7v2.7h-2.7zM652.9 918.4h2.7v2.7h-2.7zM521.2 925.6h2.7v2.7h-2.7zM518.8 928.0h2.7v2.7h-2.7zM516.4 930.4h2.7v2.7h-2.7zM650.5 930.4h2.7v2.7h-2.7zM514.0 935.2h2.7v2.7h-2.7zM511.6 937.6h2.7v2.7h-2.7zM648.1 937.6h2.7v2.7h-2.7zM509.2 942.4h2.7v2.7h-2.7zM645.7 942.4h2.7v2.7h-2.7zM506.8 944.8h2.7v2.7h-2.7zM643.3 947.2h2.7v2.7h-2.7zM504.4 949.6h2.7v2.7h-2.7zM640.9 952.0h2.7v2.7h-2.7zM502.0 954.4h2.7v2.7h-2.7zM499.6 959.3h2.7v2.7h-2.7zM636.1 959.3h2.7v2.7h-2.7zM499.6 978.5h2.7v2.7h-2.7z"/>
<path fill="#00ff6a" d="M593.0 884.7h14.7v2.7h-14.7zM617.0 884.7h14.7v2.7h-14.7zM581.0 887.1h7.5v2.7h-7.5zM636.1 887.1h2.7v2.7h-2.7zM573.9 889.5h5.1v2.7h-5.1zM640.9 889.5h2.7v2.7h-2.7zM566.7 891.9h5.1v2.7h-5.1zM643.3 891.9h2.7v2.7h-2.7zM561.9 894.3h2.7v2.7h-2.7zM645.7 894.3h2.7v2.7h-2.7zM557.1 896.7h2.7v2.7h-2.7zM648.1 896.7h2.7v2.7h-2.7zM552.3 899.2h2.7v2.7h-2.7zM549.9 901.6h2.7v2.7h-2.7zM650.5 901.6h2.7v2.7h-2.7zM545.1 904.0h2.7v2.7h-2.7zM650.5 904.0h2.7v2.7h-2.7zM542.7 906.4h2.7v2.7h-2.7zM535.6 911.2h2.7v2.7h-2.7zM533.2 913.6h2.7v2.7h-2.7zM530.8 916.0h2.7v2.7h-2.7zM528.4 918.4h2.7v2.7h-2.7zM526.0 920.8h2.7v2.7h-2.7zM523.6 923.2h2.7v2.7h-2.7zM650.5 925.6h2.7v2.7h-2.7zM521.2 928.0h2.7v2.7h-2.7zM650.5 928.0h2.7v2.7h-2.7zM518.8 930.4h2.7v2.7h-2.7zM516.4 932.8h2.7v2.7h-2.7zM648.1 935.2h2.7v2.7h-2.7zM514.0 937.6h2.7v2.7h-2.7zM511.6 940.0h2.7v2.7h-2.7zM509.2 944.8h2.7v2.7h-2.7zM506.8 947.2h2.7v2.7h-2.7zM504.4 952.0h2.7v2.7h-2.7zM638.5 954.4h2.7v2.7h-2.7zM502.0 956.9h2.7v2.7h-2.7zM499.6 961.7h2.7v2.7h-2.7zM633.7 961.7h2.7v2.7h-2.7zM499.6 964.1h2.7v2.7h-2.7zM631.3 964.1h2.7v2.7h-2.7zM499.6 966.5h2.7v2.7h-2.7zM499.6 968.9h2.7v2.7h-2.7zM499.6 971.3h2.7v2.7h-2.7zM499.6 973.7h2.7v2.7h-2.7zM499.6 976.1h2.7v2.7h-2.7zM617.0 978.5h2.7v2.7h-2.7zM502.0 980.9h2.7v2.7h-2.7zM614.6 980.9h2.7v2.7h-2.7z"/>
<path fill="#00ff55" d="M607.4 884.7h9.9v2.7h-9.9zM588.2 887.1h7.5v2.7h-7.5zM631.3 887.1h5.1v2.7h-5.1zM578.6 889.5h5.1v2.7h-5.1zM638.5 889.5h2.7v2.7h-2.7zM571.5 891.9h5.1v2.7h-5.1zM640.9 891.9h2.7v2.7h-2.7zM564.3 894.3h5.1v2.7h-5.1zM643.3 894.3h2.7v2.7h-2.7zM559.5 896.7h5.1v2.7h-5.1zM645.7 896.7h2.7v2.7h-2.7zM554.7 899.2h5.1v2.7h-5.1zM648.1 899.2h2.7v2.7h-2.7zM552.3 901.6h2.7v2.7h-2.7zM648.1 901.6h2.7v2.7h-2.7zM547.5 904.0h2.7v2.7h-2.7zM545.1 906.4h2.7v2.7h-2.7zM650.5 906.4h2.7v2.7h-2.7zM540.3 908.8h2.7v2.7h-2.7zM650.5 908.8h2.7v2.7h-2.7zM537.9 911.2h2.7v2.7h-2.7zM650.5 911.2h2.7v2.7h-2.7zM535.6 913.6h2.7v2.7h-2.7zM533.2 916.0h2.7v2.7h-2.7zM530.8 918.4h2.7v2.7h-2.7zM650.5 918.4h2.7v2.7h-2.7zM528.4 920.8h2.7v2.7h-2.7zM650.5 920.8h2.7v2.7h-2.7zM526.0 923.2h2.7v2.7h-2.7zM650.5 923.2h2.7v2.7h-2.7zM523.6 925.6h2.7v2.7h-2.7zM518.8 932.8h2.7v2.7h-2.7zM648.1 932.8h2.7v2.7h-2.7zM516.4 935.2h2.7v2.7h-2.7zM514.0 940.0h2.7v2.7h-2.7zM645.7 940.0h2.7v2.7h-2.7zM511.6 942.4h2.7v2.7h-2.7zM643.3 944.8h2.7v2.7h-2.7zM509.2 947.2h2.7v2.7h-2.7zM506.8 949.6h2.7v2.7h-2.7zM640.9 949.6h2.7v2.7h-2.7zM504.4 954.4h2.7v2.7h-2.7zM502.0 959.3h2.7v2.7h-2.7zM628.9 966.5h2.7v2.7h-2.7zM626.5 968.9h2.7v2.7h-2.7zM624.1 971.3h2.7v2.7h-2.7zM621.7 973.7h2.7v2.7h-2.7zM502.0 976.1h2.7v2.7h-2.7zM619.3 976.1h2.7v2.7h-2.7zM502.0 978.5h2.7v2.7h-2.7z"/>
<path fill="#00ff40" d="M595.4 887.1h36.2v2.7h-36.2zM583.4 889.5h7.5v2.7h-7.5zM636.1 889.5h2.7v2.7h-2.7zM576.3 891.9h5.1v2.7h-5.1zM638.5 891.9h2.7v2.7h-2.7zM569.1 894.3h5.1v2.7h-5.1zM564.3 896.7h2.7v2.7h-2.7zM643.3 896.7h2.7v2.7h-2.7zM559.5 899.2h2.7v2.7h-2.7zM645.7 899.2h2.7v2.7h-2.7zM554.7 901.6h2.7v2.7h-2.7zM549.9 904.0h2.7v2.7h-2.7zM648.1 904.0h2.7v2.7h-2.7zM547.5 906.4h2.7v2.7h-2.7zM542.7 908.8h5.1v2.7h-5.1zM540.3 911.2h2.7v2.7h-2.7zM537.9 913.6h2.7v2.7h-2.7zM650.5 913.6h2.7v2.7h-2.7zM535.6 916.0h2.7v2.7h-2.7zM650.5 916.0h2.7v2.7h-2.7zM533.2 918.4h2.7v2.7h-2.7zM530.8 920.8h2.7v2.7h-2.7zM528.4 923.2h2.7v2.7h-2.7zM526.0 925.6h2.7v2.7h-2.7zM523.6 928.0h2.7v2.7h-2.7zM521.2 930.4h2.7v2.7h-2.7zM648.1 930.4h2.7v2.7h-2.7zM518.8 935.2h2.7v2.7h-2.7zM516.4 937.6h2.7v2.7h-2.7zM645.7 937.6h2.7v2.7h-2.7zM514.0 942.4h2.7v2.7h-2.7zM511.6 944.8h2.7v2.7h-2.7zM509.2 949.6h2.7v2.7h-2.7zM506.8 952.0h2.7v2.7h-2.7zM506.8 954.4h2.7v2.7h-2.7zM504.4 956.9h2.7v2.7h-2.7zM636.1 956.9h2.7v2.7h-2.7zM504.4 959.3h2.7v2.7h-2.7zM633.7 959.3h2.7v2.7h-2.7zM502.0 961.7h2.7v2.7h-2.7zM502.0 964.1h2.7v2.7h-2.7zM502.0 966.5h2.7v2.7h-2.7zM502.0 968.9h2.7v2.7h-2.7zM502.0 971.3h2.7v2.7h-2.7zM502.0 973.7h2.7v2.7h-2.7zM504.4 978.5h2.7v2.7h-2.7zM504.4 980.9h2.7v2.7h-2.7zM612.2 980.9h2.7v2.7h-2.7z"/>
<path fill="#00ff2b" d="M590.6 889.5h12.3v2.7h-12.3zM626.5 889.5h9.9v2.7h-9.9zM581.0 891.9h7.5v2.7h-7.5zM573.9 894.3h5.1v2.7h-5.1zM640.9 894.3h2.7v2.7h-2.7zM566.7 896.7h5.1v2.7h-5.1zM561.9 899.2h5.1v2.7h-5.1zM557.1 901.6h5.1v2.7h-5.1zM645.7 901.6h2.7v2.7h-2.7zM552.3 904.0h5.1v2.7h-5.1zM549.9 906.4h2.7v2.7h-2.7zM648.1 906.4h2.7v2.7h-2.7zM547.5 908.8h2.7v2.7h-2.7zM648.1 908.8h2.7v2.7h-2.7zM542.7 911.2h2.7v2.7h-2.7zM648.1 911.2h2.7v2.7h-2.7zM540.3 913.6h2.7v2.7h-2.7zM537.9 916.0h2.7v2.7h-2.7zM535.6 918.4h2.7v2.7h-2.7zM533.2 920.8h2.7v2.7h-2.7zM530.8 923.2h2.7v2.7h-2.7zM528.4 925.6h2.7v2.7h-2.7zM648.1 925.6h2.7v2.7h-2.7zM526.0 928.0h2.7v2.7h-2.7zM648.1 928.0h2.7v2.7h-2.7zM523.6 930.4h2.7v2.7h-2.7zM521.2 932.8h2.7v2.7h-2.7zM645.7 935.2h2.7v2.7h-2.7zM518.8 937.6h2.7v2.7h-2.7zM516.4 940.0h2.7v2.7h-2.7zM643.3 942.4h2.7v2.7h-2.7zM514.0 944.8h2.7v2.7h-2.7zM511.6 947.2h2.7v2.7h-2.7zM640.9 947.2h2.7v2.7h-2.7zM509.2 952.0h2.7v2.7h-2.7zM638.5 952.0h2.7v2.7h-2.7zM506.8 956.9h2.7v2.7h-2.7zM504.4 961.7h2.7v2.7h-2.7zM631.3 961.7h2.7v2.7h-2.7zM504.4 973.7h2.7v2.7h-2.7zM504.4 976.1h2.7v2.7h-2.7zM614.6 978.5h2.7v2.7h-2.7zM506.8 980.9h2.7v2.7h-2.7z"/>
<path fill="#00ff15" d="M602.6 889.5h24.2v2.7h-24.2zM588.2 891.9h7.5v2.7h-7.5zM633.7 891.9h5.1v2.7h-5.1zM578.6 894.3h5.1v2.7h-5.1zM638.5 894.3h2.7v2.7h-2.7zM571.5 896.7h5.1v2.7h-5.1zM640.9 896.7h2.7v2.7h-2.7zM566.7 899.2h2.7v2.7h-2.7zM643.3 899.2h2.7v2.7h-2.7zM561.9 901.6h2.7v2.7h-2.7zM643.3 901.6h2.7v2.7h-2.7zM557.1 904.0h2.7v2.7h-2.7zM645.7 904.0h2.7v2.7h-2.7zM552.3 906.4h5.1v2.7h-5.1zM645.7 906.4h2.7v2.7h-2.7zM549.9 908.8h2.7v2.7h-2.7zM545.1 911.2h5.1v2.7h-5.1zM542.7 913.6h2.7v2.7h-2.7zM648.1 913.6h2.7v2.7h-2.7zM540.3 916.0h2.7v2.7h-2.7zM648.1 916.0h2.7v2.7h-2.7zM537.9 918.4h2.7v2.7h-2.7zM648.1 918.4h2.7v2.7h-2.7zM535.6 920.8h2.7v2.7h-2.7zM648.1 920.8h2.7v2.7h-2.7zM533.2 923.2h2.7v2.7h-2.7zM648.1 923.2h2.7v2.7h-2.7zM530.8 925.6h2.7v2.7h-2.7zM528.4 928.0h2.7v2.7h-2.7zM526.0 930.4h2.7v2.7h-2.7zM523.6 932.8h2.7v2.7h-2.7zM645.7 932.8h2.7v2.7h-2.7zM521.2 935.2h2.7v2.7h-2.7zM521.2 937.6h2.7v2.7h-2.7zM518.8 940.0h2.7v2.7h-2.7zM643.3 940.0h2.7v2.7h-2.7zM516.4 942.4h2.7v2.7h-2.7zM514.0 947.2h2.7v2.7h-2.7zM511.6 949.6h2.7v2.7h-2.7zM511.6 952.0h2.7v2.7h-2.7zM509.2 954.4h2.7v2.7h-2.7zM636.1 954.4h2.7v2.7h-2.7zM506.8 959.3h2.7v2.7h-2.7zM504.4 964.1h2.7v2.7h-2.7zM628.9 964.1h2.7v2.7h-2.7zM504.4 966.5h2.7v2.7h-2.7zM626.5 966.5h2.7v2.7h-2.7zM504.4 968.9h2.7v2.7h-2.7zM624.1 968.9h2.7v2.7h-2.7zM504.4 971.3h2.7v2.7h-2.7zM621.7 971.3h2.7v2.7h-2.7zM619.3 973.7h2.7v2.7h-2.7zM617.0 976.1h2.7v2.7h-2.7zM506.8 978.5h2.7v2.7h-2.7z"/>
<path fill="#00ff00" d="M595.4 891.9h38.6v2.7h-38.6zM583.4 894.3h9.9v2.7h-9.9zM636.1 894.3h2.7v2.7h-2.7zM576.3 896.7h7.5v2.7h-7.5zM638.5 896.7h2.7v2.7h-2.7zM569.1 899.2h7.5v2.7h-7.5zM640.9 899.2h2.7v2.7h-2.7zM564.3 901.6h5.1v2.7h-5.1zM559.5 904.0h5.1v2.7h-5.1zM643.3 904.0h2.7v2.7h-2.7zM557.1 906.4h2.7v2.7h-2.7zM552.3 908.8h2.7v2.7h-2.7zM645.7 908.8h2.7v2.7h-2.7zM549.9 911.2h2.7v2.7h-2.7zM645.7 911.2h2.7v2.7h-2.7zM545.1 913.6h2.7v2.7h-2.7zM542.7 916.0h2.7v2.7h-2.7zM540.3 918.4h2.7v2.7h-2.7zM537.9 920.8h2.7v2.7h-2.7zM535.6 923.2h2.7v2.7h-2.7zM533.2 925.6h2.7v2.7h-2.7zM530.8 928.0h2.7v2.7h-2.7zM645.7 928.0h2.7v2.7h-2.7zM528.4 930.4h2.7v2.7h-2.7zM645.7 930.4h2.7v2.7h-2.7zM526.0 932.8h2.7v2.7h-2.7zM523.6 935.2h2.7v2.7h-2.7zM643.3 937.6h2.7v2.7h-2.7zM521.2 940.0h2.7v2.7h-2.7zM518.8 942.4h2.7v2.7h-2.7zM516.4 944.8h2.7v2.7h-2.7zM640.9 944.8h2.7v2.7h-2.7zM516.4 947.2h2.7v2.7h-2.7zM514.0 949.6h2.7v2.7h-2.7zM638.5 949.6h2.7v2.7h-2.7zM511.6 954.4h2.7v2.7h-2.7zM509.2 956.9h2.7v2.7h-2.7zM633.7 956.9h2.7v2.7h-2.7zM509.2 959.3h2.7v2.7h-2.7zM506.8 961.7h2.7v2.7h-2.7zM506.8 971.3h2.7v2.7h-2.7zM506.8 973.7h2.7v2.7h-2.7zM506.8 976.1h2.7v2.7h-2.7zM612.2 978.5h2.7v2.7h-2.7zM509.2 980.9h2.7v2.7h-2.7zM609.8 980.9h2.7v2.7h-2.7z"/>
<path fill="#15ff00" d="M593.0 894.3h14.7v2.7h-14.7zM626.5 894.3h9.9v2.7h-9.9zM583.4 896.7h7.5v2.7h-7.5zM636.1 896.7h2.7v2.7h-2.7zM576.3 899.2h5.1v2.7h-5.1zM638.5 899.2h2.7v2.7h-2.7zM569.1 901.6h5.1v2.7h-5.1zM640.9 901.6h2.7v2.7h-2.7zM564.3 904.0h5.1v2.7h-5.1zM559.5 906.4h5.1v2.7h-5.1zM643.3 906.4h2.7v2.7h-2.7zM554.7 908.8h5.1v2.7h-5.1zM552.3 911.2h2.7v2.7h-2.7zM547.5 913.6h5.1v2.7h-5.1zM645.7 913.6h2.7v2.7h-2.7zM545.1 916.0h2.7v2.7h-2.7zM645.7 916.0h2.7v2.7h-2.7zM542.7 918.4h2.7v2.7h-2.7zM645.7 918.4h2.7v2.7h-2.7zM540.3 920.8h2.7v2.7h-2.7zM645.7 920.8h2.7v2.7h-2.7zM537.9 923.2h2.7v2.7h-2.7zM645.7 923.2h2.7v2.7h-2.7zM535.6 925.6h2.7v2.7h-2.7zM645.7 925.6h2.7v2.7h-2.7zM533.2 928.0h2.7v2.7h-2.7zM530.8 930.4h2.7v2.7h-2.7zM528.4 932.8h2.7v2.7h-2.7zM526.0 935.2h2.7v2.7h-2.7zM643.3 935.2h2.7v2.7h-2.7zM523.6 937.6h2.7v2.7h-2.7zM521.2 942.4h2.7v2.7h-2.7zM640.9 942.4h2.7v2.7h-2.7zM518.8 944.8h2.7v2.7h-2.7zM638.5 947.2h2.7v2.7h-2.7zM516.4 949.6h2.7v2.7h-2.7zM514.0 952.0h2.7v2.7h-2.7zM636.1 952.0h2.7v2.7h-2.7zM511.6 956.9h2.7v2.7h-2.7zM631.3 959.3h2.7v2.7h-2.7zM509.2 961.7h2.7v2.7h-2.7zM628.9 961.7h2.7v2.7h-2.7zM506.8 964.1h2.7v2.7h-2.7zM506.8 966.5h2.7v2.7h-2.7zM506.8 968.9h2.7v2.7h-2.7zM617.0 973.7h2.7v2.7h-2.7zM509.2 976.1h2.7v2.7h-2.7zM614.6 976.1h2.7v2.7h-2.7zM509.2 978.5h2.7v2.7h-2.7zM511.6 980.9h2.7v2.7h-2.7z"/>
<path fill="#2aff00" d="M607.4 894.3h19.5v2.7h-19.5zM590.6 896.7h12.3v2.7h-12.3zM633.7 896.7h2.7v2.7h-2.7zM581.0 899.2h7.5v2.7h-7.5zM636.1 899.2h2.7v2.7h-2.7zM573.9 901.6h7.5v2.7h-7.5zM638.5 901.6h2.7v2.7h-2.7zM569.1 904.0h5.1v2.7h-5.1zM640.9 904.0h2.7v2.7h-2.7zM564.3 906.4h5.1v2.7h-5.1zM640.9 906.4h2.7v2.7h-2.7zM559.5 908.8h5.1v2.7h-5.1zM643.3 908.8h2.7v2.7h-2.7zM554.7 911.2h5.1v2.7h-5.1zM643.3 911.2h2.7v2.7h-2.7zM552.3 913.6h2.7v2.7h-2.7zM643.3 913.6h2.7v2.7h-2.7zM547.5 916.0h5.1v2.7h-5.1zM545.1 918.4h2.7v2.7h-2.7zM542.7 920.8h2.7v2.7h-2.7zM540.3 923.2h2.7v2.7h-2.7zM537.9 925.6h2.7v2.7h-2.7zM535.6 928.0h2.7v2.7h-2.7zM533.2 930.4h2.7v2.7h-2.7zM643.3 930.4h2.7v2.7h-2.7zM530.8 932.8h2.7v2.7h-2.7zM643.3 932.8h2.7v2.7h-2.7zM528.4 935.2h2.7v2.7h-2.7zM526.0 937.6h2.7v2.7h-2.7zM523.6 940.0h2.7v2.7h-2.7zM640.9 940.0h2.7v2.7h-2.7zM523.6 942.4h2.7v2.7h-2.7zM521.2 944.8h2.7v2.7h-2.7zM518.8 947.2h2.7v2.7h-2.7zM518.8 949.6h2.7v2.7h-2.7zM516.4 952.0h2.7v2.7h-2.7zM514.0 954.4h2.7v2.7h-2.7zM633.7 954.4h2.7v2.7h-2.7zM514.0 956.9h2.7v2.7h-2.7zM511.6 959.3h2.7v2.7h-2.7zM511.6 961.7h2.7v2.7h-2.7zM509.2 964.1h2.7v2.7h-2.7zM626.5 964.1h2.7v2.7h-2.7zM509.2 966.5h2.7v2.7h-2.7zM624.1 966.5h2.7v2.7h-2.7zM509.2 968.9h2.7v2.7h-2.7zM621.7 968.9h2.7v2.7h-2.7zM509.2 971.3h2.7v2.7h-2.7zM619.3 971.3h2.7v2.7h-2.7zM509.2 973.7h2.7v2.7h-2.7zM511.6 978.5h2.7v2.7h-2.7zM607.4 980.9h2.7v2.7h-2.7z"/>
<path fill="#40ff00" d="M602.6 896.7h31.4v2.7h-31.4zM588.2 899.2h9.9v2.7h-9.9zM633.7 899.2h2.7v2.7h-2.7zM581.0 901.6h7.5v2.7h-7.5zM636.1 901.6h2.7v2.7h-2.7zM573.9 904.0h5.1v2.7h-5.1zM638.5 904.0h2.7v2.7h-2.7zM569.1 906.4h5.1v2.7h-5.1zM564.3 908.8h2.7v2.7h-2.7zM640.9 908.8h2.7v2.7h-2.7zM559.5 911.2h5.1v2.7h-5.1zM554.7 913.6h5.1v2.7h-5.1zM552.3 916.0h2.7v2.7h-2.7zM643.3 916.0h2.7v2.7h-2.7zM547.5 918.4h5.1v2.7h-5.1zM643.3 918.4h2.7v2.7h-2.7zM545.1 920.8h5.1v2.7h-5.1zM643.3 920.8h2.7v2.7h-2.7zM542.7 923.2h2.7v2.7h-2.7zM643.3 923.2h2.7v2.7h-2.7zM540.3 925.6h2.7v2.7h-2.7zM643.3 925.6h2.7v2.7h-2.7zM537.9 928.0h2.7v2.7h-2.7zM643.3 928.0h2.7v2.7h-2.7zM535.6 930.4h2.7v2.7h-2.7zM533.2 932.8h2.7v2.7h-2.7zM530.8 935.2h2.7v2.7h-2.7zM528.4 937.6h2.7v2.7h-2.7zM640.9 937.6h2.7v2.7h-2.7zM526.0 940.0h2.7v2.7h-2.7zM526.0 942.4h2.7v2.7h-2.7zM523.6 944.8h2.7v2.7h-2.7zM638.5 944.8h2.7v2.7h-2.7zM521.2 947.2h2.7v2.7h-2.7zM636.1 949.6h2.7v2.7h-2.7zM518.8 952.0h2.7v2.7h-2.7zM516.4 954.4h2.7v2.7h-2.7zM516.4 956.9h2.7v2.7h-2.7zM631.3 956.9h2.7v2.7h-2.7zM514.0 959.3h2.7v2.7h-2.7zM628.9 959.3h2.7v2.7h-2.7zM511.6 964.1h2.7v2.7h-2.7zM511.6 973.7h2.7v2.7h-2.7zM511.6 976.1h2.7v2.7h-2.7zM612.2 976.1h2.7v2.7h-2.7zM514.0 978.5h2.7v2.7h-2.7zM609.8 978.5h2.7v2.7h-2.7zM514.0 980.9h2.7v2.7h-2.7z"/>
<path fill="#55ff00" d="M597.8 899.2h36.2v2.7h-36.2zM588.2 901.6h9.9v2.7h-9.9zM633.7 901.6h2.7v2.7h-2.7zM578.6 904.0h7.5v2.7h-7.5zM636.1 904.0h2.7v2.7h-2.7zM573.9 906.4h5.1v2.7h-5.1zM638.5 906.4h2.7v2.7h-2.7zM566.7 908.8h7.5v2.7h-7.5zM564.3 911.2h2.7v2.7h-2.7zM640.9 911.2h2.7v2.7h-2.7zM559.5 913.6h5.1v2.7h-5.1zM640.9 913.6h2.7v2.7h-2.7zM554.7 916.0h5.1v2.7h-5.1zM552.3 918.4h2.7v2.7h-2.7zM549.9 920.8h2.7v2.7h-2.7zM545.1 923.2h5.1v2.7h-5.1zM542.7 925.6h2.7v2.7h-2.7zM540.3 928.0h2.7v2.7h-2.7zM537.9 930.4h2.7v2.7h-2.7zM535.6 932.8h2.7v2.7h-2.7zM640.9 932.8h2.7v2.7h-2.7zM533.2 935.2h2.7v2.7h-2.7zM640.9 935.2h2.7v2.7h-2.7zM530.8 937.6h2.7v2.7h-2.7zM528.4 940.0h5.1v2.7h-5.1zM528.4 942.4h2.7v2.7h-2.7zM638.5 942.4h2.7v2.7h-2.7zM526.0 944.8h2.7v2.7h-2.7zM523.6 947.2h2.7v2.7h-2.7zM636.1 947.2h2.7v2.7h-2.7zM521.2 949.6h2.7v2.7h-2.7zM521.2 952.0h2.7v2.7h-2.7zM633.7 952.0h2.7v2.7h-2.7zM518.8 954.4h2.7v2.7h-2.7zM516.4 959.3h2.7v2.7h-2.7zM514.0 961.7h2.7v2.7h-2.7zM626.5 961.7h2.7v2.7h-2.7zM514.0 964.1h2.7v2.7h-2.7zM624.1 964.1h2.7v2.7h-2.7zM511.6 966.5h2.7v2.7h-2.7zM621.7 966.5h2.7v2.7h-2.7zM511.6 968.9h2.7v2.7h-2.7zM619.3 968.9h2.7v2.7h-2.7zM511.6 971.3h2.7v2.7h-2.7zM617.0 971.3h2.7v2.7h-2.7zM614.6 973.7h2.7v2.7h-2.7zM514.0 976.1h2.7v2.7h-2.7zM607.4 978.5h2.7v2.7h-2.7zM516.4 980.9h2.7v2.7h-2.7zM605.0 980.9h2.7v2.7h-2.7z"/>
<path fill="#6aff00" d="M597.8 901.6h36.2v2.7h-36.2zM585.8 904.0h9.9v2.7h-9.9zM633.7 904.0h2.7v2.7h-2.7zM578.6 906.4h7.5v2.7h-7.5zM636.1 906.4h2.7v2.7h-2.7zM573.9 908.8h5.1v2.7h-5.1zM638.5 908.8h2.7v2.7h-2.7zM566.7 911.2h7.5v2.7h-7.5zM638.5 911.2h2.7v2.7h-2.7zM564.3 913.6h5.1v2.7h-5.1zM559.5 916.0h5.1v2.7h-5.1zM640.9 916.0h2.7v2.7h-2.7zM554.7 918.4h5.1v2.7h-5.1zM640.9 918.4h2.7v2.7h-2.7zM552.3 920.8h5.1v2.7h-5.1zM640.9 920.8h2.7v2.7h-2.7zM549.9 923.2h2.7v2.7h-2.7zM640.9 923.2h2.7v2.7h-2.7zM545.1 925.6h5.1v2.7h-5.1zM640.9 925.6h2.7v2.7h-2.7zM542.7 928.0h5.1v2.7h-5.1zM640.9 928.0h2.7v2.7h-2.7zM540.3 930.4h5.1v2.7h-5.1zM640.9 930.4h2.7v2.7h-2.7zM537.9 932.8h2.7v2.7h-2.7zM535.6 935.2h2.7v2.7h-2.7zM533.2 937.6h5.1v2.7h-5.1zM638.5 937.6h2.7v2.7h-2.7zM533.2 940.0h2.7v2.7h-2.7zM638.5 940.0h2.7v2.7h-2.7zM530.8 942.4h2.7v2.7h-2.7zM528.4 944.8h2.7v2.7h-2.7zM636.1 944.8h2.7v2.7h-2.7zM526.0 947.2h2.7v2.7h-2.7zM523.6 949.6h2.7v2.7h-2.7zM633.7 949.6h2.7v2.7h-2.7zM523.6 952.0h2.7v2.7h-2.7zM521.2 954.4h2.7v2.7h-2.7zM631.3 954.4h2.7v2.7h-2.7zM518.8 956.9h2.7v2.7h-2.7zM628.9 956.9h2.7v2.7h-2.7zM518.8 959.3h2.7v2.7h-2.7zM516.4 961.7h2.7v2.7h-2.7zM516.4 964.1h2.7v2.7h-2.7zM514.0 966.5h2.7v2.7h-2.7zM514.0 968.9h2.7v2.7h-2.7zM514.0 971.3h2.7v2.7h-2.7zM514.0 973.7h2.7v2.7h-2.7zM609.8 976.1h2.7v2.7h-2.7zM516.4 978.5h2.7v2.7h-2.7zM518.8 980.9h2.7v2.7h-2.7zM602.6 980.9h2.7v2.7h-2.7z"/>
<path fill="#80ff00" d="M595.4 904.0h19.5v2.7h-19.5zM626.5 904.0h7.5v2.7h-7.5zM585.8 906.4h9.9v2.7h-9.9zM633.7 906.4h2.7v2.7h-2.7zM578.6 908.8h7.5v2.7h-7.5zM636.1 908.8h2.7v2.7h-2.7zM573.9 911.2h5.1v2.7h-5.1zM569.1 913.6h5.1v2.7h-5.1zM638.5 913.6h2.7v2.7h-2.7zM564.3 916.0h5.1v2.7h-5.1zM638.5 916.0h2.7v2.7h-2.7zM559.5 918.4h5.1v2.7h-5.1zM638.5 918.4h2.7v2.7h-2.7zM557.1 920.8h2.7v2.7h-2.7zM552.3 923.2h5.1v2.7h-5.1zM549.9 925.6h2.7v2.7h-2.7zM547.5 928.0h2.7v2.7h-2.7zM545.1 930.4h2.7v2.7h-2.7zM540.3 932.8h5.1v2.7h-5.1zM638.5 932.8h2.7v2.7h-2.7zM537.9 935.2h5.1v2.7h-5.1zM638.5 935.2h2.7v2.7h-2.7zM537.9 937.6h2.7v2.7h-2.7zM535.6 940.0h2.7v2.7h-2.7zM533.2 942.4h2.7v2.7h-2.7zM636.1 942.4h2.7v2.7h-2.7zM530.8 944.8h2.7v2.7h-2.7zM528.4 947.2h2.7v2.7h-2.7zM526.0 949.6h2.7v2.7h-2.7zM526.0 952.0h2.7v2.7h-2.7zM523.6 954.4h2.7v2.7h-2.7zM521.2 956.9h2.7v2.7h-2.7zM521.2 959.3h2.7v2.7h-2.7zM626.5 959.3h2.7v2.7h-2.7zM518.8 961.7h2.7v2.7h-2.7zM624.1 961.7h2.7v2.7h-2.7zM621.7 964.1h2.7v2.7h-2.7zM516.4 966.5h2.7v2.7h-2.7zM619.3 966.5h2.7v2.7h-2.7zM617.0 968.9h2.7v2.7h-2.7zM614.6 971.3h2.7v2.7h-2.7zM516.4 973.7h2.7v2.7h-2.7zM612.2 973.7h2.7v2.7h-2.7zM516.4 976.1h2.7v2.7h-2.7zM518.8 978.5h2.7v2.7h-2.7zM605.0 978.5h2.7v2.7h-2.7z"/>
<path fill="#95ff00" d="M614.6 904.0h12.3v2.7h-12.3zM595.4 906.4h17.1v2.7h-17.1zM631.3 906.4h2.7v2.7h-2.7zM585.8 908.8h9.9v2.7h-9.9zM633.7 908.8h2.7v2.7h-2.7zM578.6 911.2h7.5v2.7h-7.5zM636.1 911.2h2.7v2.7h-2.7zM573.9 913.6h5.1v2.7h-5.1zM636.1 913.6h2.7v2.7h-2.7zM569.1 916.0h5.1v2.7h-5.1zM564.3 918.4h5.1v2.7h-5.1zM559.5 920.8h5.1v2.7h-5.1zM638.5 920.8h2.7v2.7h-2.7zM557.1 923.2h5.1v2.7h-5.1zM638.5 923.2h2.7v2.7h-2.7zM552.3 925.6h5.1v2.7h-5.1zM638.5 925.6h2.7v2.7h-2.7zM549.9 928.0h5.1v2.7h-5.1zM638.5 928.0h2.7v2.7h-2.7zM547.5 930.4h2.7v2.7h-2.7zM638.5 930.4h2.7v2.7h-2.7zM545.1 932.8h2.7v2.7h-2.7zM542.7 935.2h2.7v2.7h-2.7zM540.3 937.6h2.7v2.7h-2.7zM636.1 937.6h2.7v2.7h-2.7zM537.9 940.0h2.7v2.7h-2.7zM636.1 940.0h2.7v2.7h-2.7zM535.6 942.4h2.7v2.7h-2.7zM533.2 944.8h2.7v2.7h-2.7zM633.7 944.8h2.7v2.7h-2.7zM530.8 947.2h2.7v2.7h-2.7zM633.7 947.2h2.7v2.7h-2.7zM528.4 949.6h5.1v2.7h-5.1zM528.4 952.0h2.7v2.7h-2.7zM631.3 952.0h2.7v2.7h-2.7zM526.0 954.4h2.7v2.7h-2.7zM628.9 954.4h2.7v2.7h-2.7zM523.6 956.9h2.7v2.7h-2.7zM523.6 959.3h2.7v2.7h-2.7zM521.2 961.7h2.7v2.7h-2.7zM518.8 964.1h2.7v2.7h-2.7zM518.8 966.5h2.7v2.7h-2.7zM516.4 968.9h2.7v2.7h-2.7zM516.4 971.3h2.7v2.7h-2.7zM518.8 973.7h2.7v2.7h-2.7zM609.8 973.7h2.7v2.7h-2.7zM518.8 976.1h2.7v2.7h-2.7zM607.4 976.1h2.7v2.7h-2.7zM521.2 978.5h2.7v2.7h-2.7zM521.2 980.9h2.7v2.7h-2.7zM600.2 980.9h2.7v2.7h-2.7z"/>
<path fill="#aaff00" d="M612.2 906.4h19.5v2.7h-19.5zM595.4 908.8h17.1v2.7h-17.1zM631.3 908.8h2.7v2.7h-2.7zM585.8 911.2h9.9v2.7h-9.9zM633.7 911.2h2.7v2.7h-2.7zM578.6 913.6h7.5v2.7h-7.5zM633.7 913.6h2.7v2.7h-2.7zM573.9 916.0h7.5v2.7h-7.5zM636.1 916.0h2.7v2.7h-2.7zM569.1 918.4h5.1v2.7h-5.1zM636.1 918.4h2.7v2.7h-2.7zM564.3 920.8h5.1v2.7h-5.1zM636.1 920.8h2.7v2.7h-2.7zM561.9 923.2h2.7v2.7h-2.7zM636.1 923.2h2.7v2.7h-2.7zM557.1 925.6h5.1v2.7h-5.1zM554.7 928.0h2.7v2.7h-2.7zM549.9 930.4h5.1v2.7h-5.1zM636.1 930.4h2.7v2.7h-2.7zM547.5 932.8h5.1v2.7h-5.1zM636.1 932.8h2.7v2.7h-2.7zM545.1 935.2h5.1v2.7h-5.1zM636.1 935.2h2.7v2.7h-2.7zM542.7 937.6h5.1v2.7h-5.1zM540.3 940.0h2.7v2.7h-2.7zM537.9 942.4h2.7v2.7h-2.7zM633.7 942.4h2.7v2.7h-2.7zM535.6 944.8h5.1v2.7h-5.1zM533.2 947.2h5.1v2.7h-5.1zM533.2 949.6h2.7v2.7h-2.7zM631.3 949.6h2.7v2.7h-2.7zM530.8 952.0h2.7v2.7h-2.7zM528.4 954.4h2.7v2.7h-2.7zM526.0 956.9h5.1v2.7h-5.1zM626.5 956.9h2.7v2.7h-2.7zM526.0 959.3h2.7v2.7h-2.7zM624.1 959.3h2.7v2.7h-2.7zM523.6 961.7h2.7v2.7h-2.7zM621.7 961.7h2.7v2.7h-2.7zM521.2 964.1h2.7v2.7h-2.7zM619.3 964.1h2.7v2.7h-2.7zM521.2 966.5h2.7v2.7h-2.7zM617.0 966.5h2.7v2.7h-2.7zM518.8 968.9h2.7v2.7h-2.7zM614.6 968.9h2.7v2.7h-2.7zM518.8 971.3h2.7v2.7h-2.7zM612.2 971.3h2.7v2.7h-2.7zM521.2 976.1h2.7v2.7h-2.7zM605.0 976.1h2.7v2.7h-2.7zM602.6 978.5h2.7v2.7h-2.7zM523.6 980.9h2.7v2.7h-2.7zM597.8 980.9h2.7v2.7h-2.7z"/>
<path fill="#bfff00" d="M612.2 908.8h19.5v2.7h-19.5zM595.4 911.2h17.1v2.7h-17.1zM631.3 911.2h2.7v2.7h-2.7zM585.8 913.6h9.9v2.7h-9.9zM581.0 916.0h7.5v2.7h-7.5zM633.7 916.0h2.7v2.7h-2.7zM573.9 918.4h7.5v2.7h-7.5zM633.7 918.4h2.7v2.7h-2.7zM569.1 920.8h7.5v2.7h-7.5zM564.3 923.2h7.5v2.7h-7.5zM561.9 925.6h5.1v2.7h-5.1zM636.1 925.6h2.7v2.7h-2.7zM557.1 928.0h5.1v2.7h-5.1zM636.1 928.0h2.7v2.7h-2.7zM554.7 930.4h5.1v2.7h-5.1zM552.3 932.8h2.7v2.7h-2.7zM549.9 935.2h2.7v2.7h-2.7zM547.5 937.6h2.7v2.7h-2.7zM633.7 937.6h2.7v2.7h-2.7zM542.7 940.0h5.1v2.7h-5.1zM633.7 940.0h2.7v2.7h-2.7zM540.3 942.4h5.1v2.7h-5.1zM540.3 944.8h2.7v2.7h-2.7zM537.9 947.2h2.7v2.7h-2.7zM631.3 947.2h2.7v2.7h-2.7zM535.6 949.6h2.7v2.7h-2.7zM533.2 952.0h2.7v2.7h-2.7zM628.9 952.0h2.7v2.7h-2.7zM530.8 954.4h2.7v2.7h-2.7zM626.5 954.4h2.7v2.7h-2.7zM530.8 956.9h2.7v2.7h-2.7zM528.4 959.3h2.7v2.7h-2.7zM526.0 961.7h2.7v2.7h-2.7zM523.6 964.1h5.1v2.7h-5.1zM523.6 966.5h2.7v2.7h-2.7zM521.2 968.9h2.7v2.7h-2.7zM521.2 971.3h2.7v2.7h-2.7zM609.8 971.3h2.7v2.7h-2.7zM521.2 973.7h2.7v2.7h-2.7zM607.4 973.7h2.7v2.7h-2.7zM523.6 976.1h2.7v2.7h-2.7zM523.6 978.5h2.7v2.7h-2.7zM600.2 978.5h2.7v2.7h-2.7zM526.0 980.9h2.7v2.7h-2.7z"/>
<path fill="#d5ff00" d="M612.2 911.2h19.5v2.7h-19.5zM595.4 913.6h17.1v2.7h-17.1zM631.3 913.6h2.7v2.7h-2.7zM588.2 916.0h9.9v2.7h-9.9zM631.3 916.0h2.7v2.7h-2.7zM581.0 918.4h7.5v2.7h-7.5zM576.3 920.8h5.1v2.7h-5.1zM633.7 920.8h2.7v2.7h-2.7zM571.5 923.2h5.1v2.7h-5.1zM633.7 923.2h2.7v2.7h-2.7zM566.7 925.6h5.1v2.7h-5.1zM633.7 925.6h2.7v2.7h-2.7zM561.9 928.0h5.1v2.7h-5.1zM633.7 928.0h2.7v2.7h-2.7zM559.5 930.4h5.1v2.7h-5.1zM633.7 930.4h2.7v2.7h-2.7zM554.7 932.8h5.1v2.7h-5.1zM633.7 932.8h2.7v2.7h-2.7zM552.3 935.2h5.1v2.7h-5.1zM633.7 935.2h2.7v2.7h-2.7zM549.9 937.6h5.1v2.7h-5.1zM547.5 940.0h2.7v2.7h-2.7zM545.1 942.4h2.7v2.7h-2.7zM631.3 942.4h2.7v2.7h-2.7zM542.7 944.8h2.7v2.7h-2.7zM631.3 944.8h2.7v2.7h-2.7zM540.3 947.2h2.7v2.7h-2.7zM537.9 949.6h2.7v2.7h-2.7zM628.9 949.6h2.7v2.7h-2.7zM535.6 952.0h5.1v2.7h-5.1zM533.2 954.4h5.1v2.7h-5.1zM533.2 956.9h2.7v2.7h-2.7zM624.1 956.9h2.7v2.7h-2.7zM530.8 959.3h2.7v2.7h-2.7zM621.7 959.3h2.7v2.7h-2.7zM528.4 961.7h2.7v2.7h-2.7zM619.3 961.7h2.7v2.7h-2.7zM528.4 964.1h2.7v2.7h-2.7zM617.0 964.1h2.7v2.7h-2.7zM526.0 966.5h2.7v2.7h-2.7zM614.6 966.5h2.7v2.7h-2.7zM523.6 968.9h2.7v2.7h-2.7zM612.2 968.9h2.7v2.7h-2.7zM523.6 971.3h2.7v2.7h-2.7zM523.6 973.7h2.7v2.7h-2.7zM605.0 973.7h2.7v2.7h-2.7zM602.6 976.1h2.7v2.7h-2.7zM526.0 978.5h2.7v2.7h-2.7zM597.8 978.5h2.7v2.7h-2.7zM528.4 980.9h2.7v2.7h-2.7zM595.4 980.9h2.7v2.7h-2.7z"/>
<path fill="#eaff00" d="M612.2 913.6h19.5v2.7h-19.5zM597.8 916.0h17.1v2.7h-17.1zM628.9 916.0h2.7v2.7h-2.7zM588.2 918.4h9.9v2.7h-9.9zM631.3 918.4h2.7v2.7h-2.7zM581.0 920.8h9.9v2.7h-9.9zM631.3 920.8h2.7v2.7h-2.7zM576.3 923.2h7.5v2.7h-7.5zM631.3 923.2h2.7v2.7h-2.7zM571.5 925.6h7.5v2.7h-7.5zM566.7 928.0h7.5v2.7h-7.5zM564.3 930.4h5.1v2.7h-5.1zM559.5 932.8h5.1v2.7h-5.1zM557.1 935.2h5.1v2.7h-5.1zM631.3 935.2h2.7v2.7h-2.7zM554.7 937.6h2.7v2.7h-2.7zM631.3 937.6h2.7v2.7h-2.7zM549.9 940.0h5.1v2.7h-5.1zM631.3 940.0h2.7v2.7h-2.7zM547.5 942.4h5.1v2.7h-5.1zM545.1 944.8h5.1v2.7h-5.1zM628.9 944.8h2.7v2.7h-2.7zM542.7 947.2h5.1v2.7h-5.1zM628.9 947.2h2.7v2.7h-2.7zM540.3 949.6h5.1v2.7h-5.1zM540.3 952.0h2.7v2.7h-2.7zM626.5 952.0h2.7v2.7h-2.7zM537.9 954.4h2.7v2.7h-2.7zM624.1 954.4h2.7v2.7h-2.7zM535.6 956.9h2.7v2.7h-2.7zM533.2 959.3h2.7v2.7h-2.7zM530.8 961.7h5.1v2.7h-5.1zM530.8 964.1h2.7v2.7h-2.7zM528.4 966.5h2.7v2.7h-2.7zM526.0 968.9h5.1v2.7h-5.1zM609.8 968.9h2.7v2.7h-2.7zM526.0 971.3h2.7v2.7h-2.7zM607.4 971.3h2.7v2.7h-2.7zM526.0 973.7h2.7v2.7h-2.7zM526.0 976.1h2.7v2.7h-2.7zM600.2 976.1h2.7v2.7h-2.7zM528.4 978.5h2.7v2.7h-2.7zM530.8 980.9h2.7v2.7h-2.7zM593.0 980.9h2.7v2.7h-2.7z"/>
<path fill="#ffff00" d="M614.6 916.0h14.7v2.7h-14.7zM597.8 918.4h19.5v2.7h-19.5zM628.9 918.4h2.7v2.7h-2.7zM590.6 920.8h9.9v2.7h-9.9zM628.9 920.8h2.7v2.7h-2.7zM583.4 923.2h7.5v2.7h-7.5zM578.6 925.6h7.5v2.7h-7.5zM631.3 925.6h2.7v2.7h-2.7zM573.9 928.0h5.1v2.7h-5.1zM631.3 928.0h2.7v2.7h-2.7zM569.1 930.4h5.1v2.7h-5.1zM631.3 930.4h2.7v2.7h-2.7zM564.3 932.8h5.1v2.7h-5.1zM631.3 932.8h2.7v2.7h-2.7zM561.9 935.2h5.1v2.7h-5.1zM557.1 937.6h5.1v2.7h-5.1zM554.7 940.0h5.1v2.7h-5.1zM628.9 940.0h2.7v2.7h-2.7zM552.3 942.4h5.1v2.7h-5.1zM628.9 942.4h2.7v2.7h-2.7zM549.9 944.8h5.1v2.7h-5.1zM547.5 947.2h2.7v2.7h-2.7zM626.5 947.2h2.7v2.7h-2.7zM545.1 949.6h2.7v2.7h-2.7zM626.5 949.6h2.7v2.7h-2.7zM542.7 952.0h2.7v2.7h-2.7zM540.3 954.4h5.1v2.7h-5.1zM537.9 956.9h5.1v2.7h-5.1zM621.7 956.9h2.7v2.7h-2.7zM535.6 959.3h5.1v2.7h-5.1zM619.3 959.3h2.7v2.7h-2.7zM535.6 961.7h2.7v2.7h-2.7zM617.0 961.7h2.7v2.7h-2.7zM533.2 964.1h2.7v2.7h-2.7zM614.6 964.1h2.7v2.7h-2.7zM530.8 966.5h5.1v2.7h-5.1zM612.2 966.5h2.7v2.7h-2.7zM530.8 968.9h2.7v2.7h-2.7zM528.4 971.3h2.7v2.7h-2.7zM605.0 971.3h2.7v2.7h-2.7zM528.4 973.7h2.7v2.7h-2.7zM602.6 973.7h2.7v2.7h-2.7zM528.4 976.1h2.7v2.7h-2.7zM597.8 976.1h2.7v2.7h-2.7zM530.8 978.5h2.7v2.7h-2.7zM595.4 978.5h2.7v2.7h-2.7zM533.2 980.9h2.7v2.7h-2.7zM590.6 980.9h2.7v2.7h-2.7z"/>
<path fill="#ffea00" d="M617.0 918.4h12.3v2.7h-12.3zM600.2 920.8h24.2v2.7h-24.2zM590.6 923.2h12.3v2.7h-12.3zM628.9 923.2h2.7v2.7h-2.7zM585.8 925.6h7.5v2.7h-7.5zM628.9 925.6h2.7v2.7h-2.7zM578.6 928.0h7.5v2.7h-7.5zM628.9 928.0h2.7v2.7h-2.7zM573.9 930.4h7.5v2.7h-7.5zM628.9 930.4h2.7v2.7h-2.7zM569.1 932.8h7.5v2.7h-7.5zM628.9 932.8h2.7v2.7h-2.7zM566.7 935.2h5.1v2.7h-5.1zM628.9 935.2h2.7v2.7h-2.7zM561.9 937.6h5.1v2.7h-5.1zM628.9 937.6h2.7v2.7h-2.7zM559.5 940.0h5.1v2.7h-5.1zM557.1 942.4h5.1v2.7h-5.1zM554.7 944.8h2.7v2.7h-2.7zM626.5 944.8h2.7v2.7h-2.7zM549.9 947.2h5.1v2.7h-5.1zM547.5 949.6h5.1v2.7h-5.1zM624.1 949.6h2.7v2.7h-2.7zM545.1 952.0h5.1v2.7h-5.1zM624.1 952.0h2.7v2.7h-2.7zM545.1 954.4h2.7v2.7h-2.7zM621.7 954.4h2.7v2.7h-2.7zM542.7 956.9h2.7v2.7h-2.7zM619.3 956.9h2.7v2.7h-2.7zM540.3 959.3h2.7v2.7h-2.7zM617.0 959.3h2.7v2.7h-2.7zM537.9 961.7h2.7v2.7h-2.7zM614.6 961.7h2.7v2.7h-2.7zM535.6 964.1h5.1v2.7h-5.1zM612.2 964.1h2.7v2.7h-2.7zM535.6 966.5h2.7v2.7h-2.7zM609.8 966.5h2.7v2.7h-2.7zM533.2 968.9h2.7v2.7h-2.7zM607.4 968.9h2.7v2.7h-2.7zM530.8 971.3h2.7v2.7h-2.7zM530.8 973.7h2.7v2.7h-2.7zM600.2 973.7h2.7v2.7h-2.7zM530.8 976.1h2.7v2.7h-2.7zM533.2 978.5h2.7v2.7h-2.7zM593.0 978.5h2.7v2.7h-2.7zM535.6 980.9h2.7v2.7h-2.7zM588.2 980.9h2.7v2.7h-2.7z"/>
<path fill="#ffd500" d="M624.1 920.8h5.1v2.7h-5.1zM602.6 923.2h26.6v2.7h-26.6zM593.0 925.6h12.3v2.7h-12.3zM626.5 925.6h2.7v2.7h-2.7zM585.8 928.0h9.9v2.7h-9.9zM626.5 928.0h2.7v2.7h-2.7zM581.0 930.4h7.5v2.7h-7.5zM576.3 932.8h7.5v2.7h-7.5zM571.5 935.2h7.5v2.7h-7.5zM626.5 935.2h2.7v2.7h-2.7zM566.7 937.6h7.5v2.7h-7.5zM626.5 937.6h2.7v2.7h-2.7zM564.3 940.0h5.1v2.7h-5.1zM626.5 940.0h2.7v2.7h-2.7zM561.9 942.4h5.1v2.7h-5.1zM626.5 942.4h2.7v2.7h-2.7zM557.1 944.8h5.1v2.7h-5.1zM554.7 947.2h5.1v2.7h-5.1zM624.1 947.2h2.7v2.7h-2.7zM552.3 949.6h5.1v2.7h-5.1zM549.9 952.0h5.1v2.7h-5.1zM621.7 952.0h2.7v2.7h-2.7zM547.5 954.4h5.1v2.7h-5.1zM545.1 956.9h5.1v2.7h-5.1zM542.7 959.3h5.1v2.7h-5.1zM540.3 961.7h5.1v2.7h-5.1zM540.3 964.1h2.7v2.7h-2.7zM537.9 966.5h2.7v2.7h-2.7zM607.4 966.5h2.7v2.7h-2.7zM535.6 968.9h2.7v2.7h-2.7zM605.0 968.9h2.7v2.7h-2.7zM533.2 971.3h5.1v2.7h-5.1zM602.6 971.3h2.7v2.7h-2.7zM533.2 973.7h2.7v2.7h-2.7zM597.8 973.7h2.7v2.7h-2.7zM533.2 976.1h2.7v2.7h-2.7zM595.4 976.1h2.7v2.7h-2.7zM535.6 978.5h2.7v2.7h-2.7zM590.6 978.5h2.7v2.7h-2.7zM537.9 980.9h5.1v2.7h-5.1zM583.4 980.9h5.1v2.7h-5.1z"/>
<path fill="#ffbf00" d="M605.0 925.6h21.8v2.7h-21.8zM595.4 928.0h14.7v2.7h-14.7zM588.2 930.4h9.9v2.7h-9.9zM626.5 930.4h2.7v2.7h-2.7zM583.4 932.8h7.5v2.7h-7.5zM626.5 932.8h2.7v2.7h-2.7zM578.6 935.2h7.5v2.7h-7.5zM573.9 937.6h7.5v2.7h-7.5zM569.1 940.0h7.5v2.7h-7.5zM624.1 940.0h2.7v2.7h-2.7zM566.7 942.4h5.1v2.7h-5.1zM624.1 942.4h2.7v2.7h-2.7zM561.9 944.8h5.1v2.7h-5.1zM624.1 944.8h2.7v2.7h-2.7zM559.5 947.2h5.1v2.7h-5.1zM557.1 949.6h5.1v2.7h-5.1zM621.7 949.6h2.7v2.7h-2.7zM554.7 952.0h5.1v2.7h-5.1zM552.3 954.4h2.7v2.7h-2.7zM619.3 954.4h2.7v2.7h-2.7zM549.9 956.9h2.7v2.7h-2.7zM617.0 956.9h2.7v2.7h-2.7zM547.5 959.3h2.7v2.7h-2.7zM614.6 959.3h2.7v2.7h-2.7zM545.1 961.7h5.1v2.7h-5.1zM612.2 961.7h2.7v2.7h-2.7zM542.7 964.1h5.1v2.7h-5.1zM609.8 964.1h2.7v2.7h-2.7zM540.3 966.5h5.1v2.7h-5.1zM537.9 968.9h5.1v2.7h-5.1zM602.6 968.9h2.7v2.7h-2.7zM537.9 971.3h2.7v2.7h-2.7zM600.2 971.3h2.7v2.7h-2.7zM535.6 973.7h2.7v2.7h-2.7zM595.4 973.7h2.7v2.7h-2.7zM535.6 976.1h5.1v2.7h-5.1zM593.0 976.1h2.7v2.7h-2.7zM537.9 978.5h5.1v2.7h-5.1zM588.2 978.5h2.7v2.7h-2.7zM542.7 980.9h2.7v2.7h-2.7zM581.0 980.9h2.7v2.7h-2.7z"/>
<path fill="#ffaa00" d="M609.8 928.0h17.1v2.7h-17.1zM597.8 930.4h17.1v2.7h-17.1zM624.1 930.4h2.7v2.7h-2.7zM590.6 932.8h12.3v2.7h-12.3zM624.1 932.8h2.7v2.7h-2.7zM585.8 935.2h7.5v2.7h-7.5zM624.1 935.2h2.7v2.7h-2.7zM581.0 937.6h7.5v2.7h-7.5zM624.1 937.6h2.7v2.7h-2.7zM576.3 940.0h5.1v2.7h-5.1zM571.5 942.4h7.5v2.7h-7.5zM621.7 942.4h2.7v2.7h-2.7zM566.7 944.8h7.5v2.7h-7.5zM621.7 944.8h2.7v2.7h-2.7zM564.3 947.2h5.1v2.7h-5.1zM621.7 947.2h2.7v2.7h-2.7zM561.9 949.6h5.1v2.7h-5.1zM619.3 949.6h2.7v2.7h-2.7zM559.5 952.0h5.1v2.7h-5.1zM619.3 952.0h2.7v2.7h-2.7zM554.7 954.4h5.1v2.7h-5.1zM617.0 954.4h2.7v2.7h-2.7zM552.3 956.9h5.1v2.7h-5.1zM614.6 956.9h2.7v2.7h-2.7zM549.9 959.3h5.1v2.7h-5.1zM612.2 959.3h2.7v2.7h-2.7zM549.9 961.7h2.7v2.7h-2.7zM609.8 961.7h2.7v2.7h-2.7zM547.5 964.1h2.7v2.7h-2.7zM607.4 964.1h2.7v2.7h-2.7zM545.1 966.5h2.7v2.7h-2.7zM605.0 966.5h2.7v2.7h-2.7zM542.7 968.9h2.7v2.7h-2.7zM540.3 971.3h5.1v2.7h-5.1zM597.8 971.3h2.7v2.7h-2.7zM537.9 973.7h5.1v2.7h-5.1zM593.0 973.7h2.7v2.7h-2.7zM540.3 976.1h2.7v2.7h-2.7zM588.2 976.1h5.1v2.7h-5.1zM542.7 978.5h2.7v2.7h-2.7zM583.4 978.5h5.1v2.7h-5.1zM545.1 980.9h5.1v2.7h-5.1zM578.6 980.9h2.7v2.7h-2.7z"/>
<path fill="#ff9500" d="M614.6 930.4h9.9v2.7h-9.9zM602.6 932.8h17.1v2.7h-17.1zM621.7 932.8h2.7v2.7h-2.7zM593.0 935.2h12.3v2.7h-12.3zM621.7 935.2h2.7v2.7h-2.7zM588.2 937.6h9.9v2.7h-9.9zM621.7 937.6h2.7v2.7h-2.7zM581.0 940.0h9.9v2.7h-9.9zM621.7 940.0h2.7v2.7h-2.7zM578.6 942.4h7.5v2.7h-7.5zM573.9 944.8h7.5v2.7h-7.5zM619.3 944.8h2.7v2.7h-2.7zM569.1 947.2h7.5v2.7h-7.5zM619.3 947.2h2.7v2.7h-2.7zM566.7 949.6h5.1v2.7h-5.1zM564.3 952.0h5.1v2.7h-5.1zM617.0 952.0h2.7v2.7h-2.7zM559.5 954.4h5.1v2.7h-5.1zM557.1 956.9h5.1v2.7h-5.1zM554.7 959.3h5.1v2.7h-5.1zM552.3 961.7h5.1v2.7h-5.1zM607.4 961.7h2.7v2.7h-2.7zM549.9 964.1h5.1v2.7h-5.1zM605.0 964.1h2.7v2.7h-2.7zM547.5 966.5h5.1v2.7h-5.1zM602.6 966.5h2.7v2.7h-2.7zM545.1 968.9h5.1v2.7h-5.1zM600.2 968.9h2.7v2.7h-2.7zM545.1 971.3h2.7v2.7h-2.7zM595.4 971.3h2.7v2.7h-2.7zM542.7 973.7h2.7v2.7h-2.7zM590.6 973.7h2.7v2.7h-2.7zM542.7 976.1h2.7v2.7h-2.7zM585.8 976.1h2.7v2.7h-2.7zM545.1 978.5h5.1v2.7h-5.1zM581.0 978.5h2.7v2.7h-2.7zM549.9 980.9h5.1v2.7h-5.1zM573.9 980.9h5.1v2.7h-5.1z"/>
<path fill="#ff8000" d="M619.3 932.8h2.7v2.7h-2.7zM605.0 935.2h17.1v2.7h-17.1zM597.8 937.6h12.3v2.7h-12.3zM619.3 937.6h2.7v2.7h-2.7zM590.6 940.0h9.9v2.7h-9.9zM619.3 940.0h2.7v2.7h-2.7zM585.8 942.4h7.5v2.7h-7.5zM619.3 942.4h2.7v2.7h-2.7zM581.0 944.8h7.5v2.7h-7.5zM576.3 947.2h7.5v2.7h-7.5zM617.0 947.2h2.7v2.7h-2.7zM571.5 949.6h7.5v2.7h-7.5zM617.0 949.6h2.7v2.7h-2.7zM569.1 952.0h5.1v2.7h-5.1zM614.6 952.0h2.7v2.7h-2.7zM564.3 954.4h7.5v2.7h-7.5zM614.6 954.4h2.7v2.7h-2.7zM561.9 956.9h5.1v2.7h-5.1zM612.2 956.9h2.7v2.7h-2.7zM559.5 959.3h5.1v2.7h-5.1zM609.8 959.3h2.7v2.7h-2.7zM557.1 961.7h5.1v2.7h-5.1zM554.7 964.1h5.1v2.7h-5.1zM602.6 964.1h2.7v2.7h-2.7zM552.3 966.5h5.1v2.7h-5.1zM600.2 966.5h2.7v2.7h-2.7zM549.9 968.9h5.1v2.7h-5.1zM597.8 968.9h2.7v2.7h-2.7zM547.5 971.3h5.1v2.7h-5.1zM593.0 971.3h2.7v2.7h-2.7zM545.1 973.7h5.1v2.7h-5.1zM588.2 973.7h2.7v2.7h-2.7zM545.1 976.1h5.1v2.7h-5.1zM583.4 976.1h2.7v2.7h-2.7zM549.9 978.5h5.1v2.7h-5.1zM576.3 978.5h5.1v2.7h-5.1zM554.7 980.9h7.5v2.7h-7.5zM569.1 980.9h5.1v2.7h-5.1z"/>
<path fill="#ff6a00" d="M609.8 937.6h9.9v2.7h-9.9zM600.2 940.0h14.7v2.7h-14.7zM617.0 940.0h2.7v2.7h-2.7zM593.0 942.4h9.9v2.7h-9.9zM617.0 942.4h2.7v2.7h-2.7zM588.2 944.8h7.5v2.7h-7.5zM617.0 944.8h2.7v2.7h-2.7zM583.4 947.2h7.5v2.7h-7.5zM614.6 947.2h2.7v2.7h-2.7zM578.6 949.6h7.5v2.7h-7.5zM614.6 949.6h2.7v2.7h-2.7zM573.9 952.0h7.5v2.7h-7.5zM571.5 954.4h5.1v2.7h-5.1zM612.2 954.4h2.7v2.7h-2.7zM566.7 956.9h7.5v2.7h-7.5zM609.8 956.9h2.7v2.7h-2.7zM564.3 959.3h5.1v2.7h-5.1zM607.4 959.3h2.7v2.7h-2.7zM561.9 961.7h5.1v2.7h-5.1zM605.0 961.7h2.7v2.7h-2.7zM559.5 964.1h5.1v2.7h-5.1zM600.2 964.1h2.7v2.7h-2.7zM557.1 966.5h5.1v2.7h-5.1zM597.8 966.5h2.7v2.7h-2.7zM554.7 968.9h5.1v2.7h-5.1zM595.4 968.9h2.7v2.7h-2.7zM552.3 971.3h5.1v2.7h-5.1zM590.6 971.3h2.7v2.7h-2.7zM549.9 973.7h5.1v2.7h-5.1zM585.8 973.7h2.7v2.7h-2.7zM549.9 976.1h5.1v2.7h-5.1zM578.6 976.1h5.1v2.7h-5.1zM554.7 978.5h5.1v2.7h-5.1zM571.5 978.5h5.1v2.7h-5.1zM561.9 980.9h7.5v2.7h-7.5z"/>
<path fill="#ff5500" d="M614.6 940.0h2.7v2.7h-2.7zM602.6 942.4h14.7v2.7h-14.7zM595.4 944.8h12.3v2.7h-12.3zM614.6 944.8h2.7v2.7h-2.7zM590.6 947.2h9.9v2.7h-9.9zM612.2 947.2h2.7v2.7h-2.7zM585.8 949.6h7.5v2.7h-7.5zM612.2 949.6h2.7v2.7h-2.7zM581.0 952.0h7.5v2.7h-7.5zM612.2 952.0h2.7v2.7h-2.7zM576.3 954.4h7.5v2.7h-7.5zM609.8 954.4h2.7v2.7h-2.7zM573.9 956.9h5.1v2.7h-5.1zM607.4 956.9h2.7v2.7h-2.7zM569.1 959.3h7.5v2.7h-7.5zM605.0 959.3h2.7v2.7h-2.7zM566.7 961.7h5.1v2.7h-5.1zM602.6 961.7h2.7v2.7h-2.7zM564.3 964.1h5.1v2.7h-5.1zM597.8 964.1h2.7v2.7h-2.7zM561.9 966.5h5.1v2.7h-5.1zM595.4 966.5h2.7v2.7h-2.7zM559.5 968.9h5.1v2.7h-5.1zM590.6 968.9h5.1v2.7h-5.1zM557.1 971.3h5.1v2.7h-5.1zM585.8 971.3h5.1v2.7h-5.1zM554.7 973.7h5.1v2.7h-5.1zM581.0 973.7h5.1v2.7h-5.1zM554.7 976.1h5.1v2.7h-5.1zM573.9 976.1h5.1v2.7h-5.1zM559.5 978.5h12.3v2.7h-12.3z"/>
<path fill="#ff4000" d="M607.4 944.8h7.5v2.7h-7.5zM600.2 947.2h12.3v2.7h-12.3zM593.0 949.6h12.3v2.7h-12.3zM609.8 949.6h2.7v2.7h-2.7zM588.2 952.0h9.9v2.7h-9.9zM609.8 952.0h2.7v2.7h-2.7zM583.4 954.4h7.5v2.7h-7.5zM607.4 954.4h2.7v2.7h-2.7zM578.6 956.9h7.5v2.7h-7.5zM605.0 956.9h2.7v2.7h-2.7zM576.3 959.3h7.5v2.7h-7.5zM602.6 959.3h2.7v2.7h-2.7zM571.5 961.7h7.5v2.7h-7.5zM600.2 961.7h2.7v2.7h-2.7zM569.1 964.1h7.5v2.7h-7.5zM595.4 964.1h2.7v2.7h-2.7zM566.7 966.5h5.1v2.7h-5.1zM593.0 966.5h2.7v2.7h-2.7zM564.3 968.9h5.1v2.7h-5.1zM588.2 968.9h2.7v2.7h-2.7zM561.9 971.3h5.1v2.7h-5.1zM583.4 971.3h2.7v2.7h-2.7zM559.5 973.7h5.1v2.7h-5.1zM578.6 973.7h2.7v2.7h-2.7zM559.5 976.1h14.7v2.7h-14.7z"/>
<path fill="#ff2a00" d="M605.0 949.6h5.1v2.7h-5.1zM597.8 952.0h12.3v2.7h-12.3zM590.6 954.4h12.3v2.7h-12.3zM605.0 954.4h2.7v2.7h-2.7zM585.8 956.9h9.9v2.7h-9.9zM602.6 956.9h2.7v2.7h-2.7zM583.4 959.3h7.5v2.7h-7.5zM600.2 959.3h2.7v2.7h-2.7zM578.6 961.7h7.5v2.7h-7.5zM597.8 961.7h2.7v2.7h-2.7zM576.3 964.1h5.1v2.7h-5.1zM593.0 964.1h2.7v2.7h-2.7zM571.5 966.5h7.5v2.7h-7.5zM590.6 966.5h2.7v2.7h-2.7zM569.1 968.9h5.1v2.7h-5.1zM585.8 968.9h2.7v2.7h-2.7zM566.7 971.3h5.1v2.7h-5.1zM578.6 971.3h5.1v2.7h-5.1zM564.3 973.7h14.7v2.7h-14.7z"/>
<path fill="#ff1500" d="M602.6 954.4h2.7v2.7h-2.7zM595.4 956.9h7.5v2.7h-7.5zM590.6 959.3h9.9v2.7h-9.9zM585.8 961.7h12.3v2.7h-12.3zM581.0 964.1h12.3v2.7h-12.3zM578.6 966.5h12.3v2.7h-12.3zM573.9 968.9h12.3v2.7h-12.3zM571.5 971.3h7.5v2.7h-7.5z"/>
</g>
<g fill="none" stroke="#222" stroke-opacity="0.75" stroke-width="0.7">
<polyline points="493.1,990.0 492.2,989.0 491.5,988.0 490.8,987.0 490.0,985.5 489.4,984.0 489.0,982.6 488.7,981.0 488.6,979.0 488.7,977.0 488.9,975.0 489.0,974.0 489.4,972.0 489.8,970.0 490.1,969.0 490.6,967.0 491.0,965.7 491.5,964.0 492.0,962.5 492.6,961.0 493.0,959.7 493.7,958.0 494.0,957.0 494.9,955.0 495.4,954.0 496.0,952.7 496.8,951.0 497.3,950.0 498.0,948.6 498.8,947.0 499.3,946.0 500.0,944.7 500.9,943.0 501.5,942.0 502.0,941.0 503.0,939.3 503.7,938.0 504.3,937.0 505.0,935.9 506.0,934.2 506.8,933.0 507.4,932.0 508.0,931.0 509.0,929.6 510.0,928.1 510.8,927.0 511.5,926.0 512.2,925.0 513.0,923.8 514.0,922.5 515.0,921.2 515.9,920.0 516.7,919.0 517.5,918.0 518.3,917.0 519.2,916.0 520.0,915.0 521.0,913.9 522.0,912.8 523.0,911.7 524.0,910.6 525.0,909.5 526.0,908.5 527.0,907.5 528.0,906.5 529.0,905.6 530.0,904.6 531.0,903.7 532.0,902.8 533.0,901.9 534.1,901.0 535.3,900.0 536.6,899.0 537.8,898.0 539.0,897.1 540.0,896.4 541.0,895.6 542.0,894.9 543.3,894.0 544.8,893.0 546.0,892.2 547.0,891.6 548.0,891.0 549.6,890.0 551.0,889.2 552.0,888.7 553.2,888.0 555.0,887.1 556.0,886.6 557.1,886.0 559.0,885.1 560.0,884.7 561.5,884.0 563.0,883.4 564.0,883.0 566.0,882.2 567.0,881.8 569.0,881.1 570.0,880.8 572.0,880.1 573.0,879.8 575.0,879.3 576.0,879.0 578.0,878.5 579.9,878.0 581.0,877.8 583.0,877.4 584.7,877.0 586.0,876.8 588.0,876.5 590.0,876.1 591.0,876.0 593.0,875.8 595.0,875.6 597.0,875.4 599.0,875.2 601.0,875.1 603.0,875.0 604.0,875.0 606.0,874.9 608.0,874.9 610.0,874.9 612.0,875.0 613.0,875.0 615.0,875.1 617.0,875.2 619.0,875.4 621.0,875.5 623.0,875.7 625.0,875.9 626.0,876.0 628.0,876.3 630.0,876.6 632.0,876.9 633.0,877.0 635.0,877.4 637.0,877.8 638.0,878.1 640.0,878.6 641.4,879.0 643.0,879.5 644.6,880.0 646.0,880.5 647.4,881.0 649.0,881.7 650.0,882.1 651.9,883.0 653.0,883.6 654.0,884.2 655.2,885.0 656.5,886.0 657.6,887.0 658.5,888.0 659.2,889.0 660.0,890.3 660.7,892.0 661.1,893.0 661.6,895.0 661.9,897.0 662.0,898.0 662.1,900.0 662.2,902.0 662.1,904.0 662.0,906.0 661.9,907.0 661.7,909.0 661.4,911.0 661.1,913.0 661.0,914.0 660.6,916.0 660.1,918.0 659.9,919.0 659.4,921.0 659.0,922.7 658.6,924.0 658.1,926.0 657.7,927.0 657.1,929.0 656.7,930.0 656.1,932.0 655.7,933.0 655.0,934.8 654.5,936.0 654.0,937.3 653.2,939.0 652.8,940.0 652.0,941.8 651.4,943.0 651.0,944.0 650.0,945.9 649.4,947.0 648.9,948.0 648.0,949.6 647.2,951.0 646.6,952.0 646.0,953.1 645.0,954.7 644.1,956.0 643.5,957.0 642.8,958.0 642.0,959.2 641.0,960.6 640.0,962.0 639.2,963.0 638.5,964.0 637.7,965.0 636.9,966.0 636.0,967.1 635.0,968.3 634.0,969.5 633.0,970.6 632.0,971.8 631.0,972.9 630.0,973.9 629.0,975.0 628.0,976.0 627.0,977.0 626.0,977.9 625.0,978.8 624.0,979.7 623.0,980.6 622.0,981.5 621.0,982.3 620.0,983.2 619.0,984.0 617.8,985.0 616.5,986.0 615.2,987.0 614.0,987.9 613.0,988.6 612.0,989.2"/>
<polyline points="503.7,990.0 502.9,989.0 502.0,987.9 501.0,986.5 500.1,985.0 499.5,984.0 499.0,982.9 498.3,981.0 498.0,980.0 497.5,978.0 497.2,976.0 497.0,974.0 497.0,973.0 497.0,971.0 497.0,970.0 497.2,968.0 497.5,966.0 497.8,964.0 498.0,963.0 498.5,961.0 499.0,959.3 499.6,958.0 500.1,957.0 501.0,955.2 501.6,954.0 502.1,953.0 503.0,951.3 503.7,950.0 504.2,949.0 505.0,947.6 505.9,946.0 506.5,945.0 507.0,944.0 508.0,942.4 508.8,941.0 509.5,940.0 510.1,939.0 511.0,937.6 512.0,936.0 512.7,935.0 513.4,934.0 514.1,933.0 515.0,931.7 516.0,930.3 516.9,929.0 517.7,928.0 518.5,927.0 519.2,926.0 520.0,925.0 521.0,923.8 522.0,922.6 523.0,921.4 524.0,920.3 525.0,919.1 526.0,918.0 527.0,917.0 527.9,916.0 528.9,915.0 529.9,914.0 530.9,913.0 531.9,912.0 533.0,911.0 534.0,910.1 535.0,909.2 536.0,908.3 537.0,907.4 538.0,906.6 539.0,905.8 540.0,905.0 541.3,904.0 542.6,903.0 543.9,902.0 545.0,901.3 546.0,900.6 547.0,899.9 548.3,899.0 549.9,898.0 551.0,897.3 552.0,896.7 553.2,896.0 555.0,895.0 556.0,894.4 557.0,893.9 558.8,893.0 560.0,892.4 561.0,891.9 563.0,891.0 564.0,890.6 565.3,890.0 567.0,889.3 568.0,888.9 570.0,888.2 571.0,887.8 573.0,887.1 574.0,886.8 576.0,886.2 577.0,885.9 579.0,885.3 580.3,885.0 582.0,884.6 584.0,884.1 585.0,883.9 587.0,883.5 589.0,883.1 590.0,883.0 592.0,882.7 594.0,882.4 596.0,882.1 597.2,882.0 599.0,881.8 601.0,881.7 603.0,881.5 605.0,881.4 607.0,881.4 609.0,881.3 611.0,881.3 613.0,881.4 615.0,881.4 617.0,881.5 619.0,881.6 621.0,881.7 623.0,881.9 624.5,882.0 626.0,882.2 628.0,882.4 630.0,882.6 632.0,882.9 633.0,883.0 635.0,883.3 637.0,884.0 638.0,884.4 639.2,885.0 641.0,885.9 642.0,886.4 643.0,887.0 644.6,888.0 646.0,889.0 647.0,889.8 648.0,890.7 649.0,891.7 650.0,892.7 651.0,894.0 651.7,895.0 652.4,896.0 653.0,897.1 653.9,899.0 654.3,900.0 654.9,902.0 655.2,903.0 655.6,905.0 655.9,907.0 656.0,908.1 656.1,910.0 656.1,912.0 656.1,914.0 656.0,915.5 655.9,917.0 655.6,919.0 655.3,921.0 655.0,922.9 654.8,924.0 654.3,926.0 654.0,927.4 653.6,929.0 653.0,931.0 652.7,932.0 652.1,934.0 651.7,935.0 651.0,937.0 650.6,938.0 650.0,939.5 649.4,941.0 649.0,942.0 648.1,944.0 647.6,945.0 647.0,946.2 646.1,948.0 645.6,949.0 645.0,950.1 644.0,951.9 643.3,953.0 642.7,954.0 642.0,955.1 641.0,956.6 640.0,958.0 639.3,959.0 638.6,960.0 637.9,961.0 637.0,962.2 636.0,963.4 635.0,964.7 634.0,965.9 633.1,967.0 632.2,968.0 631.4,969.0 630.5,970.0 629.5,971.0 628.6,972.0 627.6,973.0 626.6,974.0 625.6,975.0 624.6,976.0 623.5,977.0 622.4,978.0 621.3,979.0 620.2,980.0 619.0,981.0 618.0,981.8 617.0,982.6 616.0,983.4 615.0,984.2 613.9,985.0 612.6,986.0 611.2,987.0 610.0,987.8 609.0,988.5 608.0,989.1 606.6,990.0"/>
<polyline points="516.6,990.0 515.5,989.0 514.6,988.0 513.7,987.0 512.8,986.0 512.0,984.9 511.0,983.4 510.2,982.0 509.7,981.0 509.0,979.5 508.4,978.0 508.0,976.7 507.5,975.0 507.1,973.0 507.0,972.0 506.8,970.0 506.7,968.0 506.7,966.0 507.0,964.6 507.8,963.0 508.3,962.0 509.0,960.7 509.9,959.0 510.5,958.0 511.0,957.0 512.0,955.3 512.7,954.0 513.3,953.0 514.0,951.9 515.0,950.3 515.8,949.0 516.4,948.0 517.1,947.0 518.0,945.6 519.0,944.1 519.8,943.0 520.5,942.0 521.2,941.0 522.0,939.9 523.0,938.6 524.0,937.3 525.0,936.0 525.8,935.0 526.6,934.0 527.4,933.0 528.3,932.0 529.2,931.0 530.0,930.0 531.0,928.9 532.0,927.8 533.0,926.8 534.0,925.7 535.0,924.7 536.0,923.7 537.0,922.8 538.0,921.8 539.0,920.9 540.0,920.0 541.1,919.0 542.3,918.0 543.5,917.0 544.7,916.0 546.0,915.0 547.0,914.2 548.0,913.5 549.0,912.7 550.0,912.0 551.5,911.0 552.9,910.0 554.0,909.3 555.0,908.7 556.1,908.0 557.8,907.0 559.0,906.3 560.0,905.7 561.3,905.0 563.0,904.1 564.0,903.6 565.3,903.0 567.0,902.2 568.0,901.7 569.7,901.0 571.0,900.5 572.1,900.0 574.0,899.3 575.0,898.9 577.0,898.2 578.0,897.9 580.0,897.2 581.0,896.9 583.0,896.4 584.3,896.0 586.0,895.6 588.0,895.1 589.0,894.9 591.0,894.5 593.0,894.1 594.0,893.9 596.0,893.6 598.0,893.3 600.0,893.0 601.0,892.9 603.0,892.7 605.0,892.5 607.0,892.4 609.0,892.3 611.0,892.2 613.0,892.2 615.0,892.2 617.0,892.2 619.0,892.2 621.0,892.3 623.0,892.4 625.0,892.5 627.0,892.7 629.0,892.8 630.7,893.0 632.0,893.1 634.0,893.4 635.7,894.0 637.0,895.0 638.0,895.8 639.0,896.7 640.0,897.7 641.0,898.7 642.0,899.9 642.8,901.0 643.5,902.0 644.1,903.0 645.0,904.6 645.7,906.0 646.1,907.0 646.8,909.0 647.1,910.0 647.6,912.0 648.0,914.0 648.1,915.0 648.3,917.0 648.4,919.0 648.4,921.0 648.3,923.0 648.1,925.0 648.0,926.0 647.7,928.0 647.3,930.0 647.0,931.7 646.7,933.0 646.2,935.0 645.9,936.0 645.3,938.0 644.9,939.0 644.2,941.0 643.8,942.0 643.0,944.0 642.6,945.0 642.0,946.4 641.2,948.0 640.8,949.0 640.0,950.5 639.2,952.0 638.6,953.0 638.0,954.0 637.0,955.4 636.0,956.8 635.1,958.0 634.4,959.0 633.6,960.0 632.8,961.0 632.0,962.0 631.0,963.3 630.0,964.4 629.0,965.6 628.0,966.7 627.0,967.8 626.0,968.9 625.0,969.9 624.0,970.9 623.0,971.9 622.0,972.9 621.0,973.8 620.0,974.7 619.0,975.6 618.0,976.5 617.0,977.4 616.0,978.2 615.0,979.0 613.8,980.0 612.4,981.0 611.1,982.0 610.0,982.8 609.0,983.5 608.0,984.2 606.8,985.0 605.3,986.0 604.0,986.8 603.0,987.4 602.0,988.0 600.3,989.0 599.0,989.7"/>
<polyline points="533.7,990.0 532.1,989.0 531.0,988.2 530.0,987.5 529.0,986.7 528.0,985.8 527.0,984.9 526.0,983.9 525.0,982.7 524.0,981.5 523.0,980.0 522.3,979.0 521.8,978.0 521.0,976.5 520.4,975.0 520.0,974.0 519.3,972.0 519.8,970.0 520.4,969.0 521.0,967.9 522.0,966.2 522.8,965.0 523.4,964.0 524.0,963.0 525.0,961.5 526.0,960.0 526.7,959.0 527.3,958.0 528.0,957.0 529.0,955.7 530.0,954.3 531.0,953.0 531.7,952.0 532.5,951.0 533.3,950.0 534.1,949.0 535.0,947.9 536.0,946.8 537.0,945.6 538.0,944.5 539.0,943.4 540.0,942.3 541.0,941.2 542.0,940.2 543.0,939.2 544.0,938.2 545.0,937.3 546.0,936.3 547.0,935.4 548.0,934.5 549.0,933.7 550.0,932.8 551.0,932.0 552.2,931.0 553.5,930.0 554.8,929.0 556.0,928.1 557.0,927.4 558.0,926.6 559.0,926.0 560.4,925.0 562.0,924.0 563.0,923.4 564.0,922.8 565.3,922.0 567.0,921.0 568.0,920.5 569.0,919.9 570.8,919.0 572.0,918.4 573.0,917.9 575.0,917.0 576.0,916.6 577.3,916.0 579.0,915.3 580.0,914.9 582.0,914.2 583.0,913.8 585.0,913.1 586.0,912.8 588.0,912.2 589.0,911.9 591.0,911.3 592.3,911.0 594.0,910.6 596.0,910.1 597.0,909.9 599.0,909.5 601.0,909.2 602.1,909.0 604.0,908.7 606.0,908.5 608.0,908.2 610.0,908.0 611.0,907.9 613.0,907.8 615.0,907.7 617.0,907.6 619.0,907.5 621.0,907.5 623.0,907.5 625.0,907.6 627.0,907.6 629.0,907.7 631.0,907.8 632.2,908.0 633.2,909.0 634.0,910.2 635.0,911.9 635.6,913.0 636.0,914.0 636.8,916.0 637.2,917.0 637.7,919.0 638.0,920.4 638.3,922.0 638.5,924.0 638.6,926.0 638.6,928.0 638.5,930.0 638.4,932.0 638.1,934.0 637.9,935.0 637.5,937.0 637.1,939.0 636.8,940.0 636.2,942.0 635.9,943.0 635.2,945.0 634.8,946.0 634.0,947.9 633.5,949.0 633.0,950.1 632.1,952.0 631.5,953.0 630.8,954.0 630.0,955.1 629.0,956.4 628.0,957.7 627.0,958.9 626.1,960.0 625.2,961.0 624.3,962.0 623.4,963.0 622.5,964.0 621.5,965.0 620.6,966.0 619.6,967.0 618.5,968.0 617.5,969.0 616.4,970.0 615.3,971.0 614.1,972.0 613.0,972.9 612.0,973.8 611.0,974.6 610.0,975.4 609.0,976.1 607.8,977.0 606.4,978.0 605.0,979.0 604.0,979.7 603.0,980.3 601.9,981.0 600.3,982.0 599.0,982.8 598.0,983.3 596.8,984.0 595.0,985.0 594.0,985.5 593.0,986.0 591.0,987.0 590.0,987.4 588.8,988.0 587.0,988.7 586.0,989.2 584.0,989.9"/>
<polyline points="618.3,928.0 620.0,927.9 622.0,927.7 624.0,927.6 625.3,928.0 625.7,930.0 625.9,932.0 625.9,934.0 625.9,936.0 625.7,938.0 625.4,940.0 625.1,942.0 624.8,943.0 624.3,945.0 624.0,946.0 623.3,948.0 622.9,949.0 622.0,951.0 621.6,952.0 621.0,953.1 620.0,954.7 619.0,955.9 618.0,957.0 617.1,958.0 616.2,959.0 615.2,960.0 614.2,961.0 613.1,962.0 612.1,963.0 611.0,964.0 610.0,964.9 609.0,965.7 608.0,966.6 607.0,967.4 606.0,968.2 604.9,969.0 603.6,970.0 602.2,971.0 601.0,971.8 600.0,972.5 599.0,973.2 597.7,974.0 596.1,975.0 595.0,975.6 594.0,976.2 592.5,977.0 591.0,977.8 590.0,978.3 588.6,979.0 587.0,979.8 586.0,980.2 584.2,981.0 583.0,981.5 581.7,982.0 580.0,982.6 578.9,983.0 577.0,983.6 575.9,984.0 574.0,984.5 572.4,985.0 571.0,985.3 569.0,985.8 568.0,986.0 566.0,986.4 564.0,986.8 562.8,987.0 561.0,987.1 559.6,987.0 558.0,986.8 556.0,986.4 554.5,986.0 553.0,985.6 551.2,985.0 550.0,984.5 548.7,984.0 547.0,983.2 546.0,982.6 545.0,982.0 543.5,981.0 542.1,980.0 541.0,979.0 540.0,978.1 539.0,977.0 538.2,976.0 539.0,974.9 540.0,973.5 541.0,972.2 541.9,971.0 542.7,970.0 543.5,969.0 544.3,968.0 545.1,967.0 546.0,966.0 547.0,964.8 548.0,963.7 549.0,962.6 550.0,961.5 551.0,960.5 552.0,959.4 553.0,958.4 554.0,957.5 555.0,956.5 556.0,955.6 557.0,954.7 558.0,953.8 559.0,952.9 560.1,952.0 561.3,951.0 562.5,950.0 563.8,949.0 565.0,948.1 566.0,947.4 567.0,946.6 568.0,945.9 569.4,945.0 570.9,944.0 572.0,943.3 573.0,942.7 574.2,942.0 575.9,941.0 577.0,940.4 578.0,939.9 579.6,939.0 581.0,938.3 582.0,937.8 583.8,937.0 585.0,936.5 586.0,936.0 588.0,935.2 589.0,934.8 591.0,934.0 592.0,933.7 594.0,933.0 595.0,932.7 597.0,932.1 598.0,931.8 600.0,931.2 601.0,931.0 603.0,930.5 605.0,930.0 606.0,929.8 608.0,929.4 610.0,929.1 611.0,928.9 613.0,928.6 615.0,928.4 617.0,928.1 618.3,928.0"/>
</g>
<g><rect x="584.2" y="866.4" width="25.0" height="10.4" fill="#fff" stroke="#777" stroke-width="0.6"/><text x="597.0" y="875.9" font-size="9.7" text-anchor="middle" textLength="23.0" lengthAdjust="spacingAndGlyphs" fill="#111" stroke="#111" stroke-width="0.12">0.165</text></g>
<g><rect x="603.4" y="874.3" width="25.0" height="10.4" fill="#fff" stroke="#777" stroke-width="0.6"/><text x="616.2" y="883.8" font-size="9.7" text-anchor="middle" textLength="23.0" lengthAdjust="spacingAndGlyphs" fill="#111" stroke="#111" stroke-width="0.12">0.329</text></g>
<g><rect x="587.4" y="886.8" width="25.0" height="10.4" fill="#fff" stroke="#777" stroke-width="0.6"/><text x="600.2" y="896.3" font-size="9.7" text-anchor="middle" textLength="23.0" lengthAdjust="spacingAndGlyphs" fill="#111" stroke="#111" stroke-width="0.12">0.494</text></g>
<g><rect x="588.3" y="902.3" width="25.0" height="10.4" fill="#fff" stroke="#777" stroke-width="0.6"/><text x="601.1" y="911.8" font-size="9.7" text-anchor="middle" textLength="23.0" lengthAdjust="spacingAndGlyphs" fill="#111" stroke="#111" stroke-width="0.12">0.659</text></g>
<g><rect x="594.7" y="921.0" width="25.0" height="10.4" fill="#fff" stroke="#777" stroke-width="0.6"/><text x="607.5" y="930.5" font-size="9.7" text-anchor="middle" textLength="23.0" lengthAdjust="spacingAndGlyphs" fill="#111" stroke="#111" stroke-width="0.12">0.823</text></g>
<line x1="587.4" y1="939.5" x2="587.4" y2="965.8" stroke="#a8b4ff" stroke-width="1.2"/>
<rect x="473" y="939.5" width="114.8" height="13.3" fill="#fff" stroke="#99a" stroke-width="0.7"/>
<text x="475.5" y="949.9" font-size="12.2" fill="#111">Prediction</text><text x="540.5" y="949.9" font-size="12.2" fill="#111">0.989</text>
</g>
<line x1="394.3" y1="983.3" x2="394.3" y2="990.8" stroke="#9a9a9a" stroke-width="0.9"/>
<line x1="465.5" y1="983.3" x2="465.5" y2="990.8" stroke="#9a9a9a" stroke-width="0.9"/>
<line x1="536.8" y1="983.3" x2="536.8" y2="990.8" stroke="#9a9a9a" stroke-width="0.9"/>
<line x1="608.0" y1="983.3" x2="608.0" y2="990.8" stroke="#9a9a9a" stroke-width="0.9"/>
<line x1="679.2" y1="983.3" x2="679.2" y2="990.8" stroke="#9a9a9a" stroke-width="0.9"/>
<line x1="386.3" y1="702.0" x2="394.3" y2="702.0" stroke="#9a9a9a" stroke-width="0.9"/>
<line x1="386.3" y1="772.3" x2="394.3" y2="772.3" stroke="#9a9a9a" stroke-width="0.9"/>
<line x1="386.3" y1="842.6" x2="394.3" y2="842.6" stroke="#9a9a9a" stroke-width="0.9"/>
<line x1="386.3" y1="913.0" x2="394.3" y2="913.0" stroke="#9a9a9a" stroke-width="0.9"/>
<line x1="386.3" y1="983.3" x2="394.3" y2="983.3" stroke="#9a9a9a" stroke-width="0.9"/>
<path d="M394.3 983.3V702.3H679.2" fill="none" stroke="#e4e4e4" stroke-opacity="0.85" stroke-width="1"/>
<text x="394.7" y="1001.9" font-family='"DejaVu Sans", "Liberation Sans", sans-serif' font-size="7.1" font-weight="bold" text-anchor="middle" textLength="16.3" lengthAdjust="spacingAndGlyphs" fill="#111">0.48</text>
<text x="465.9" y="1001.9" font-family='"DejaVu Sans", "Liberation Sans", sans-serif' font-size="7.1" font-weight="bold" text-anchor="middle" textLength="16.3" lengthAdjust="spacingAndGlyphs" fill="#111">1.00</text>
<text x="537.1" y="1001.9" font-family='"DejaVu Sans", "Liberation Sans", sans-serif' font-size="7.1" font-weight="bold" text-anchor="middle" textLength="16.3" lengthAdjust="spacingAndGlyphs" fill="#111">1.52</text>
<text x="608.4" y="1001.9" font-family='"DejaVu Sans", "Liberation Sans", sans-serif' font-size="7.1" font-weight="bold" text-anchor="middle" textLength="16.3" lengthAdjust="spacingAndGlyphs" fill="#111">2.05</text>
<text x="679.6" y="1001.9" font-family='"DejaVu Sans", "Liberation Sans", sans-serif' font-size="7.1" font-weight="bold" text-anchor="middle" textLength="16.3" lengthAdjust="spacingAndGlyphs" fill="#111">2.57</text>
<text x="383.6" y="703.8" font-family='"DejaVu Sans", "Liberation Sans", sans-serif' font-size="7.1" font-weight="bold" text-anchor="end" textLength="16.3" lengthAdjust="spacingAndGlyphs" fill="#111">2.57</text>
<text x="383.6" y="774.1" font-family='"DejaVu Sans", "Liberation Sans", sans-serif' font-size="7.1" font-weight="bold" text-anchor="end" textLength="16.3" lengthAdjust="spacingAndGlyphs" fill="#111">2.05</text>
<text x="383.6" y="844.4" font-family='"DejaVu Sans", "Liberation Sans", sans-serif' font-size="7.1" font-weight="bold" text-anchor="end" textLength="16.3" lengthAdjust="spacingAndGlyphs" fill="#111">1.52</text>
<text x="383.6" y="914.8" font-family='"DejaVu Sans", "Liberation Sans", sans-serif' font-size="7.1" font-weight="bold" text-anchor="end" textLength="16.3" lengthAdjust="spacingAndGlyphs" fill="#111">1.00</text>
<text x="383.6" y="985.1" font-family='"DejaVu Sans", "Liberation Sans", sans-serif' font-size="7.1" font-weight="bold" text-anchor="end" textLength="16.3" lengthAdjust="spacingAndGlyphs" fill="#111">0.48</text>
<circle cx="394.3" cy="702.0" r="2.3" fill="#f00000"/>
<circle cx="679.2" cy="702.0" r="2.3" fill="#f00000"/>
<circle cx="394.3" cy="983.3" r="2.3" fill="#f00000"/>
<circle cx="679.2" cy="983.3" r="2.3" fill="#f00000"/>
<circle cx="536.8" cy="842.6" r="2.1" fill="#e00000" stroke="#700" stroke-width="0.4"/>
<text x="533.8" y="845.1" font-family='"DejaVu Sans", "Liberation Sans", sans-serif' font-size="7.6" font-weight="bold" text-anchor="end" fill="#301010">3</text>
<text x="535.0" y="696.8" font-size="16.6" text-anchor="middle" fill="#111">Desirability (J208 Xylanase-Pectinase)</text>
<text x="532.3" y="1014.5" font-size="12.6" text-anchor="middle" fill="#222">A: WB</text>
<text transform="translate(360.9,837.1) rotate(-90)" font-size="12.3" text-anchor="middle" fill="#222">B: CP</text>
<text x="345" y="704.6" font-family='"Liberation Serif", "Times New Roman", serif' font-weight="bold" font-size="18" fill="#111">f)</text>
<rect x="58.5" y="1048" width="271.5" height="263.5" fill="#c0c0c0"/>
<ellipse cx="210.3" cy="1220.8" rx="65.5" ry="68.5" fill="#ffff00" clip-path="url(#cgA)"/>
<g fill="none" stroke="#222" stroke-width="0.8"><ellipse cx="200.3" cy="1211.9" rx="64.1" ry="70.7"/><ellipse cx="210.3" cy="1220.8" rx="65.5" ry="68.5"/></g>
<g><rect x="138.8" y="1265.7" width="62.9" height="9.8" fill="#fff" stroke="#333" stroke-width="0.8"/><text x="170.5" y="1273.6" font-size="8.6" text-anchor="middle" textLength="58.8" lengthAdjust="spacing" fill="#111">Pectinase: 335</text></g>
<g><rect x="169.7" y="1277.7" width="61.7" height="9.8" fill="#fff" stroke="#333" stroke-width="0.8"/><text x="200.8" y="1285.6" font-size="8.6" text-anchor="middle" textLength="58.8" lengthAdjust="spacing" fill="#111">Xylanase: 13.5</text></g>
<line x1="58.5" y1="1311.5" x2="58.5" y2="1319.0" stroke="#222" stroke-width="0.9"/>
<line x1="126.4" y1="1311.5" x2="126.4" y2="1319.0" stroke="#222" stroke-width="0.9"/>
<line x1="194.2" y1="1311.5" x2="194.2" y2="1319.0" stroke="#222" stroke-width="0.9"/>
<line x1="262.1" y1="1311.5" x2="262.1" y2="1319.0" stroke="#222" stroke-width="0.9"/>
<line x1="330.0" y1="1311.5" x2="330.0" y2="1319.0" stroke="#222" stroke-width="0.9"/>
<line x1="51.5" y1="1048.0" x2="58.5" y2="1048.0" stroke="#222" stroke-width="0.9"/>
<line x1="51.5" y1="1113.9" x2="58.5" y2="1113.9" stroke="#222" stroke-width="0.9"/>
<line x1="51.5" y1="1179.8" x2="58.5" y2="1179.8" stroke="#222" stroke-width="0.9"/>
<line x1="51.5" y1="1245.6" x2="58.5" y2="1245.6" stroke="#222" stroke-width="0.9"/>
<line x1="51.5" y1="1311.5" x2="58.5" y2="1311.5" stroke="#222" stroke-width="0.9"/>
<rect x="58.5" y="1048.0" width="271.5" height="263.5" fill="none" stroke="#222" stroke-width="1"/>
<text x="58.9" y="1329.7" font-family='"DejaVu Sans", "Liberation Sans", sans-serif' font-size="7.0" font-weight="bold" text-anchor="middle" textLength="16.0" lengthAdjust="spacingAndGlyphs" fill="#111">0.48</text>
<text x="126.8" y="1329.7" font-family='"DejaVu Sans", "Liberation Sans", sans-serif' font-size="7.0" font-weight="bold" text-anchor="middle" textLength="16.0" lengthAdjust="spacingAndGlyphs" fill="#111">1.00</text>
<text x="194.7" y="1329.7" font-family='"DejaVu Sans", "Liberation Sans", sans-serif' font-size="7.0" font-weight="bold" text-anchor="middle" textLength="16.0" lengthAdjust="spacingAndGlyphs" fill="#111">1.52</text>
<text x="262.5" y="1329.7" font-family='"DejaVu Sans", "Liberation Sans", sans-serif' font-size="7.0" font-weight="bold" text-anchor="middle" textLength="16.0" lengthAdjust="spacingAndGlyphs" fill="#111">2.05</text>
<text x="330.4" y="1329.7" font-family='"DejaVu Sans", "Liberation Sans", sans-serif' font-size="7.0" font-weight="bold" text-anchor="middle" textLength="16.0" lengthAdjust="spacingAndGlyphs" fill="#111">2.57</text>
<text x="47.0" y="1048.8" font-family='"DejaVu Sans", "Liberation Sans", sans-serif' font-size="7.0" font-weight="bold" text-anchor="end" textLength="16.0" lengthAdjust="spacingAndGlyphs" fill="#111">2.57</text>
<text x="47.0" y="1114.7" font-family='"DejaVu Sans", "Liberation Sans", sans-serif' font-size="7.0" font-weight="bold" text-anchor="end" textLength="16.0" lengthAdjust="spacingAndGlyphs" fill="#111">2.05</text>
<text x="47.0" y="1180.5" font-family='"DejaVu Sans", "Liberation Sans", sans-serif' font-size="7.0" font-weight="bold" text-anchor="end" textLength="16.0" lengthAdjust="spacingAndGlyphs" fill="#111">1.52</text>
<text x="47.0" y="1246.4" font-family='"DejaVu Sans", "Liberation Sans", sans-serif' font-size="7.0" font-weight="bold" text-anchor="end" textLength="16.0" lengthAdjust="spacingAndGlyphs" fill="#111">1.00</text>
<text x="47.0" y="1312.3" font-family='"DejaVu Sans", "Liberation Sans", sans-serif' font-size="7.0" font-weight="bold" text-anchor="end" textLength="16.0" lengthAdjust="spacingAndGlyphs" fill="#111">0.48</text>
<circle cx="58.5" cy="1048.0" r="2.0" fill="#e80000" stroke="#500" stroke-width="0.5"/>
<circle cx="330.0" cy="1048.0" r="2.0" fill="#e80000" stroke="#500" stroke-width="0.5"/>
<circle cx="58.5" cy="1311.5" r="2.0" fill="#e80000" stroke="#500" stroke-width="0.5"/>
<circle cx="330.0" cy="1311.5" r="2.0" fill="#e80000" stroke="#500" stroke-width="0.5"/>
<circle cx="194.2" cy="1179.8" r="2.1" fill="#e00000" stroke="#700" stroke-width="0.4"/>
<text x="191.2" y="1182.2" font-family='"DejaVu Sans", "Liberation Sans", sans-serif' font-size="7.6" font-weight="bold" text-anchor="end" fill="#301010">3</text>
<text x="192.5" y="1042.5" font-size="15.5" text-anchor="middle" fill="#111">Overlay Plot (M35 Xylanase-Pectinase)</text>
<text x="192.8" y="1365.6" font-size="10.8" text-anchor="middle" fill="#222">A: WB</text>
<text transform="translate(11.6,1178.8) rotate(-90)" font-size="10.8" text-anchor="middle" fill="#222">B: CP</text>
<text x="1" y="1047.3" font-family='"Liberation Serif", "Times New Roman", serif' font-weight="bold" font-size="18" fill="#111">g)</text>
<rect x="402.5" y="1048" width="272.0" height="263.3" fill="#c0c0c0"/>
<g clip-path="url(#ch)">
<g clip-path="url(#chA)"><circle r="4.31636" transform="matrix(0.94939,0,0,0.94951,30.339,1030.149) matrix(-109.15946,-226.89344,-69.26618,33.32427,1057.25,1244.07)" fill="#ffff00"/></g>
<g fill="none" stroke="#222" stroke-width="0.8">
<ellipse cx="548.4" cy="1216.5" rx="89.4" ry="95.5"/><ellipse cx="548.5" cy="1216" rx="62.2" ry="66"/>
<circle r="4.31636" transform="matrix(0.94939,0,0,0.94951,30.339,1030.149) matrix(-109.15946,-226.89344,-69.26618,33.32427,1057.25,1244.07)" vector-effect="non-scaling-stroke"/><circle r="4.15464" transform="matrix(0.94939,0,0,0.94951,30.339,1030.149) matrix(-109.15946,-226.89344,-69.26618,33.32427,1057.25,1244.07)" vector-effect="non-scaling-stroke"/>
</g>
<g><rect x="568.4" y="1265.2" width="61.7" height="9.8" fill="#fff" stroke="#333" stroke-width="0.8"/><text x="599.5" y="1273.1" font-size="8.6" text-anchor="middle" textLength="58.8" lengthAdjust="spacing" fill="#111">Xylanase: 13.5</text></g>
<g><rect x="510.9" y="1270.3" width="61.0" height="9.8" fill="#fff" stroke="#333" stroke-width="0.8"/><text x="541.7" y="1278.2" font-size="8.6" text-anchor="middle" textLength="58.8" lengthAdjust="spacing" fill="#111">Pectinase: 650</text></g>
<g><rect x="496.6" y="1297.8" width="61.3" height="9.8" fill="#fff" stroke="#333" stroke-width="0.8"/><text x="527.5" y="1305.7" font-size="8.6" text-anchor="middle" textLength="58.8" lengthAdjust="spacing" fill="#111">Pectinase: 585</text></g>
<g><rect x="612.5" y="1298.3" width="62.0" height="9.8" fill="#fff" stroke="#333" stroke-width="0.8"/><text x="643.8" y="1306.2" font-size="8.6" text-anchor="middle" textLength="58.8" lengthAdjust="spacing" fill="#111">Xylanase: 14.9</text></g>
</g>
<line x1="402.5" y1="1311.3" x2="402.5" y2="1318.8" stroke="#222" stroke-width="0.9"/>
<line x1="470.5" y1="1311.3" x2="470.5" y2="1318.8" stroke="#222" stroke-width="0.9"/>
<line x1="538.5" y1="1311.3" x2="538.5" y2="1318.8" stroke="#222" stroke-width="0.9"/>
<line x1="606.5" y1="1311.3" x2="606.5" y2="1318.8" stroke="#222" stroke-width="0.9"/>
<line x1="674.5" y1="1311.3" x2="674.5" y2="1318.8" stroke="#222" stroke-width="0.9"/>
<line x1="395.5" y1="1048.0" x2="402.5" y2="1048.0" stroke="#222" stroke-width="0.9"/>
<line x1="395.5" y1="1113.8" x2="402.5" y2="1113.8" stroke="#222" stroke-width="0.9"/>
<line x1="395.5" y1="1179.7" x2="402.5" y2="1179.7" stroke="#222" stroke-width="0.9"/>
<line x1="395.5" y1="1245.5" x2="402.5" y2="1245.5" stroke="#222" stroke-width="0.9"/>
<line x1="395.5" y1="1311.3" x2="402.5" y2="1311.3" stroke="#222" stroke-width="0.9"/>
<rect x="402.5" y="1048.0" width="272.0" height="263.3" fill="none" stroke="#222" stroke-width="1"/>
<text x="402.9" y="1329.7" font-family='"DejaVu Sans", "Liberation Sans", sans-serif' font-size="7.0" font-weight="bold" text-anchor="middle" textLength="16.0" lengthAdjust="spacingAndGlyphs" fill="#111">0.48</text>
<text x="470.9" y="1329.7" font-family='"DejaVu Sans", "Liberation Sans", sans-serif' font-size="7.0" font-weight="bold" text-anchor="middle" textLength="16.0" lengthAdjust="spacingAndGlyphs" fill="#111">1.00</text>
<text x="538.9" y="1329.7" font-family='"DejaVu Sans", "Liberation Sans", sans-serif' font-size="7.0" font-weight="bold" text-anchor="middle" textLength="16.0" lengthAdjust="spacingAndGlyphs" fill="#111">1.52</text>
<text x="606.9" y="1329.7" font-family='"DejaVu Sans", "Liberation Sans", sans-serif' font-size="7.0" font-weight="bold" text-anchor="middle" textLength="16.0" lengthAdjust="spacingAndGlyphs" fill="#111">2.05</text>
<text x="674.9" y="1329.7" font-family='"DejaVu Sans", "Liberation Sans", sans-serif' font-size="7.0" font-weight="bold" text-anchor="middle" textLength="16.0" lengthAdjust="spacingAndGlyphs" fill="#111">2.57</text>
<text x="391.0" y="1048.8" font-family='"DejaVu Sans", "Liberation Sans", sans-serif' font-size="7.0" font-weight="bold" text-anchor="end" textLength="16.0" lengthAdjust="spacingAndGlyphs" fill="#111">2.57</text>
<text x="391.0" y="1114.6" font-family='"DejaVu Sans", "Liberation Sans", sans-serif' font-size="7.0" font-weight="bold" text-anchor="end" textLength="16.0" lengthAdjust="spacingAndGlyphs" fill="#111">2.05</text>
<text x="391.0" y="1180.5" font-family='"DejaVu Sans", "Liberation Sans", sans-serif' font-size="7.0" font-weight="bold" text-anchor="end" textLength="16.0" lengthAdjust="spacingAndGlyphs" fill="#111">1.52</text>
<text x="391.0" y="1246.3" font-family='"DejaVu Sans", "Liberation Sans", sans-serif' font-size="7.0" font-weight="bold" text-anchor="end" textLength="16.0" lengthAdjust="spacingAndGlyphs" fill="#111">1.00</text>
<text x="391.0" y="1312.1" font-family='"DejaVu Sans", "Liberation Sans", sans-serif' font-size="7.0" font-weight="bold" text-anchor="end" textLength="16.0" lengthAdjust="spacingAndGlyphs" fill="#111">0.48</text>
<circle cx="402.5" cy="1048.0" r="2.0" fill="#e80000" stroke="#500" stroke-width="0.5"/>
<circle cx="674.5" cy="1048.0" r="2.0" fill="#e80000" stroke="#500" stroke-width="0.5"/>
<circle cx="402.5" cy="1311.3" r="2.0" fill="#e80000" stroke="#500" stroke-width="0.5"/>
<circle cx="674.5" cy="1311.3" r="2.0" fill="#e80000" stroke="#500" stroke-width="0.5"/>
<circle cx="538.5" cy="1179.7" r="2.1" fill="#e00000" stroke="#700" stroke-width="0.4"/>
<text x="535.5" y="1182.2" font-family='"DejaVu Sans", "Liberation Sans", sans-serif' font-size="7.6" font-weight="bold" text-anchor="end" fill="#301010">3</text>
<text x="537.2" y="1042.5" font-size="15.64" text-anchor="middle" fill="#111">Overlay Plot (J208 Xylanase-Pectinase)</text>
<text x="537.0" y="1365.6" font-size="10.8" text-anchor="middle" fill="#222">A: WB</text>
<text transform="translate(354.8,1178.8) rotate(-90)" font-size="10.8" text-anchor="middle" fill="#222">B: CP</text>
<text x="344.7" y="1047.5" font-family='"Liberation Serif", "Times New Roman", serif' font-weight="bold" font-size="18" fill="#111">h)</text>
</g></svg></body></html>
